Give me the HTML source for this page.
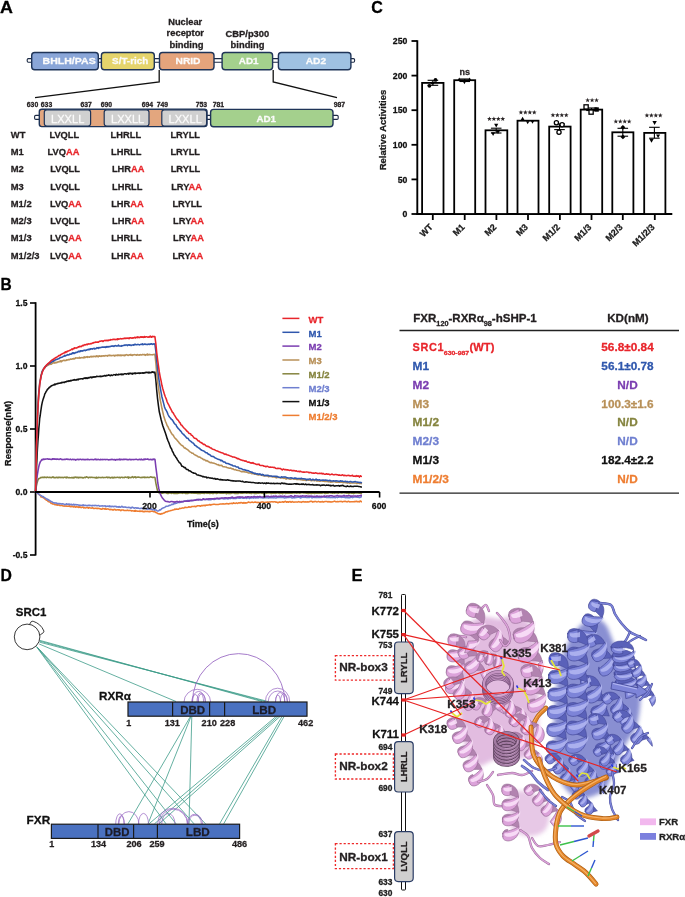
<!DOCTYPE html>
<html><head><meta charset="utf-8"><style>
html,body{margin:0;padding:0;background:#fff;width:685px;height:897px;overflow:hidden;}
svg{display:block;will-change:transform;}
text{font-family:"Liberation Sans",sans-serif;stroke-width:0.28px;stroke-linejoin:round;}
</style></head><body>
<svg width="685" height="897" viewBox="0 0 685 897">
<text x="0.10" y="12.80" font-size="16.2" font-weight="bold" fill="#000" stroke="#000" textLength="12.9" lengthAdjust="spacingAndGlyphs">A</text>
<rect x="27.2" y="58.6" width="327.4" height="3.6" rx="1.2" fill="#fff" stroke="#1d2b45" stroke-width="1.1"/>
<rect x="31.7" y="52.5" width="66.6" height="17.3" rx="3" fill="#8aa6d8" stroke="#1f3458" stroke-width="1.4"/>
<text x="42.60" y="64.30" font-size="9.2" font-weight="bold" fill="#fbfbfb" stroke="#fbfbfb" textLength="53.1" lengthAdjust="spacingAndGlyphs">BHLH/PAS</text>
<rect x="101.4" y="52.5" width="52.9" height="17.3" rx="3" fill="#e5d46c" stroke="#1f3458" stroke-width="1.4"/>
<text x="112.10" y="64.30" font-size="9.2" font-weight="bold" fill="#fbfbfb" stroke="#fbfbfb" textLength="36.1" lengthAdjust="spacingAndGlyphs">S/T-rich</text>
<rect x="159.5" y="52.5" width="54.5" height="17.3" rx="3" fill="#e5a47c" stroke="#1f3458" stroke-width="1.4"/>
<text x="175.50" y="64.30" font-size="9.2" font-weight="bold" fill="#fbfbfb" stroke="#fbfbfb" textLength="25.0" lengthAdjust="spacingAndGlyphs">NRID</text>
<rect x="222.1" y="52.5" width="50.5" height="17.3" rx="3" fill="#a4d08d" stroke="#1f3458" stroke-width="1.4"/>
<text x="238.80" y="64.30" font-size="9.2" font-weight="bold" fill="#fbfbfb" stroke="#fbfbfb" textLength="19.8" lengthAdjust="spacingAndGlyphs">AD1</text>
<rect x="278.4" y="52.5" width="72.5" height="17.3" rx="3" fill="#9fc1e2" stroke="#1f3458" stroke-width="1.4"/>
<text x="305.80" y="64.30" font-size="9.2" font-weight="bold" fill="#fbfbfb" stroke="#fbfbfb" textLength="20.3" lengthAdjust="spacingAndGlyphs">AD2</text>
<text x="168.20" y="25.20" font-size="8.4" font-weight="bold" fill="#231f20" stroke="#231f20" textLength="34.0" lengthAdjust="spacingAndGlyphs">Nuclear</text>
<text x="166.60" y="36.30" font-size="8.4" font-weight="bold" fill="#231f20" stroke="#231f20" textLength="37.4" lengthAdjust="spacingAndGlyphs">receptor</text>
<text x="169.40" y="47.50" font-size="8.4" font-weight="bold" fill="#231f20" stroke="#231f20" textLength="34.1" lengthAdjust="spacingAndGlyphs">binding</text>
<text x="225.60" y="36.70" font-size="8.4" font-weight="bold" fill="#231f20" stroke="#231f20" textLength="43.6" lengthAdjust="spacingAndGlyphs">CBP/p300</text>
<text x="230.60" y="47.60" font-size="8.4" font-weight="bold" fill="#231f20" stroke="#231f20" textLength="33.8" lengthAdjust="spacingAndGlyphs">binding</text>
<polyline points="159.2,70 159.2,82 35,97.6" fill="none" stroke="#111" stroke-width="1.3"/>
<polyline points="273.2,70 273.2,82 337,97.6" fill="none" stroke="#111" stroke-width="1.3"/>
<rect x="34.6" y="115.4" width="303.6" height="4" rx="1.2" fill="#fff" stroke="#1d2b45" stroke-width="1.1"/>
<rect x="39.3" y="109.2" width="167.7" height="17.4" rx="2.5" fill="#e3a67e" stroke="#1f3458" stroke-width="1.4"/>
<rect x="44.3" y="109.8" width="46.3" height="16.2" rx="2.5" fill="#d0d0d0" stroke="#1f3458" stroke-width="1.2"/>
<text x="51.10" y="122.60" font-size="11" fill="#fbfbfb" stroke="#fbfbfb" textLength="33.2" lengthAdjust="spacingAndGlyphs">LXXLL</text>
<rect x="104.2" y="109.8" width="44.8" height="16.2" rx="2.5" fill="#d0d0d0" stroke="#1f3458" stroke-width="1.2"/>
<text x="111.00" y="122.60" font-size="11" fill="#fbfbfb" stroke="#fbfbfb" textLength="33.2" lengthAdjust="spacingAndGlyphs">LXXLL</text>
<rect x="161.8" y="109.8" width="44.8" height="16.2" rx="2.5" fill="#d0d0d0" stroke="#1f3458" stroke-width="1.2"/>
<text x="168.60" y="122.60" font-size="11" fill="#fbfbfb" stroke="#fbfbfb" textLength="33.2" lengthAdjust="spacingAndGlyphs">LXXLL</text>
<rect x="210.6" y="109.4" width="122.4" height="17.4" rx="3" fill="#a4d08d" stroke="#1f3458" stroke-width="1.4"/>
<text x="256.40" y="122.20" font-size="9.3" font-weight="bold" fill="#fbfbfb" stroke="#fbfbfb" textLength="19.6" lengthAdjust="spacingAndGlyphs">AD1</text>
<text x="26.80" y="106.80" font-size="6.6" font-weight="bold" fill="#231f20" stroke="#231f20" textLength="11.4" lengthAdjust="spacingAndGlyphs">630</text>
<text x="40.80" y="106.80" font-size="6.6" font-weight="bold" fill="#231f20" stroke="#231f20" textLength="11.4" lengthAdjust="spacingAndGlyphs">633</text>
<text x="80.50" y="106.80" font-size="6.6" font-weight="bold" fill="#231f20" stroke="#231f20" textLength="11.4" lengthAdjust="spacingAndGlyphs">637</text>
<text x="100.70" y="106.80" font-size="6.6" font-weight="bold" fill="#231f20" stroke="#231f20" textLength="11.4" lengthAdjust="spacingAndGlyphs">690</text>
<text x="141.70" y="106.80" font-size="6.6" font-weight="bold" fill="#231f20" stroke="#231f20" textLength="11.4" lengthAdjust="spacingAndGlyphs">694</text>
<text x="156.70" y="106.80" font-size="6.6" font-weight="bold" fill="#231f20" stroke="#231f20" textLength="11.4" lengthAdjust="spacingAndGlyphs">749</text>
<text x="195.70" y="106.80" font-size="6.6" font-weight="bold" fill="#231f20" stroke="#231f20" textLength="11.4" lengthAdjust="spacingAndGlyphs">753</text>
<text x="212.70" y="106.80" font-size="6.6" font-weight="bold" fill="#231f20" stroke="#231f20" textLength="11.4" lengthAdjust="spacingAndGlyphs">781</text>
<text x="333.70" y="106.80" font-size="6.6" font-weight="bold" fill="#231f20" stroke="#231f20" textLength="11.4" lengthAdjust="spacingAndGlyphs">987</text>
<text x="10.80" y="137.90" font-size="9.4" font-weight="bold" fill="#231f20" stroke="#231f20">WT</text>
<text x="49.40" y="137.90" font-size="9.3" font-weight="bold" fill="#231f20" stroke="#231f20">LVQLL</text>
<text x="110.60" y="137.90" font-size="9.3" font-weight="bold" fill="#231f20" stroke="#231f20">LHRLL</text>
<text x="170.40" y="137.90" font-size="9.3" font-weight="bold" fill="#231f20" stroke="#231f20">LRYLL</text>
<text x="10.80" y="155.15" font-size="9.4" font-weight="bold" fill="#231f20" stroke="#231f20">M1</text>
<text x="47.6" y="155.2" font-size="9.3" font-weight="bold" fill="#231f20" stroke="#231f20">LVQ<tspan fill="#e8262b" stroke="#e8262b">AA</tspan></text>
<text x="111.00" y="155.15" font-size="9.3" font-weight="bold" fill="#231f20" stroke="#231f20">LHRLL</text>
<text x="170.40" y="155.15" font-size="9.3" font-weight="bold" fill="#231f20" stroke="#231f20">LRYLL</text>
<text x="10.80" y="172.40" font-size="9.4" font-weight="bold" fill="#231f20" stroke="#231f20">M2</text>
<text x="50.20" y="172.40" font-size="9.3" font-weight="bold" fill="#231f20" stroke="#231f20">LVQLL</text>
<text x="111.9" y="172.4" font-size="9.3" font-weight="bold" fill="#231f20" stroke="#231f20">LHR<tspan fill="#e8262b" stroke="#e8262b">AA</tspan></text>
<text x="170.70" y="172.40" font-size="9.3" font-weight="bold" fill="#231f20" stroke="#231f20">LRYLL</text>
<text x="10.80" y="189.65" font-size="9.4" font-weight="bold" fill="#231f20" stroke="#231f20">M3</text>
<text x="50.20" y="189.65" font-size="9.3" font-weight="bold" fill="#231f20" stroke="#231f20">LVQLL</text>
<text x="112.00" y="189.65" font-size="9.3" font-weight="bold" fill="#231f20" stroke="#231f20">LHRLL</text>
<text x="171.2" y="189.7" font-size="9.3" font-weight="bold" fill="#231f20" stroke="#231f20">LRY<tspan fill="#e8262b" stroke="#e8262b">AA</tspan></text>
<text x="10.80" y="206.90" font-size="9.4" font-weight="bold" fill="#231f20" stroke="#231f20">M1/2</text>
<text x="49.9" y="206.9" font-size="9.3" font-weight="bold" fill="#231f20" stroke="#231f20">LVQ<tspan fill="#e8262b" stroke="#e8262b">AA</tspan></text>
<text x="111.2" y="206.9" font-size="9.3" font-weight="bold" fill="#231f20" stroke="#231f20">LHR<tspan fill="#e8262b" stroke="#e8262b">AA</tspan></text>
<text x="172.40" y="206.90" font-size="9.3" font-weight="bold" fill="#231f20" stroke="#231f20">LRYLL</text>
<text x="10.80" y="224.15" font-size="9.4" font-weight="bold" fill="#231f20" stroke="#231f20">M2/3</text>
<text x="50.20" y="224.15" font-size="9.3" font-weight="bold" fill="#231f20" stroke="#231f20">LVQLL</text>
<text x="112.0" y="224.2" font-size="9.3" font-weight="bold" fill="#231f20" stroke="#231f20">LHR<tspan fill="#e8262b" stroke="#e8262b">AA</tspan></text>
<text x="173.1" y="224.2" font-size="9.3" font-weight="bold" fill="#231f20" stroke="#231f20">LRY<tspan fill="#e8262b" stroke="#e8262b">AA</tspan></text>
<text x="10.80" y="241.40" font-size="9.4" font-weight="bold" fill="#231f20" stroke="#231f20">M1/3</text>
<text x="49.9" y="241.4" font-size="9.3" font-weight="bold" fill="#231f20" stroke="#231f20">LVQ<tspan fill="#e8262b" stroke="#e8262b">AA</tspan></text>
<text x="111.20" y="241.40" font-size="9.3" font-weight="bold" fill="#231f20" stroke="#231f20">LHRLL</text>
<text x="173.1" y="241.4" font-size="9.3" font-weight="bold" fill="#231f20" stroke="#231f20">LRY<tspan fill="#e8262b" stroke="#e8262b">AA</tspan></text>
<text x="10.80" y="258.65" font-size="9.4" font-weight="bold" fill="#231f20" stroke="#231f20">M1/2/3</text>
<text x="49.9" y="258.6" font-size="9.3" font-weight="bold" fill="#231f20" stroke="#231f20">LVQ<tspan fill="#e8262b" stroke="#e8262b">AA</tspan></text>
<text x="111.2" y="258.6" font-size="9.3" font-weight="bold" fill="#231f20" stroke="#231f20">LHR<tspan fill="#e8262b" stroke="#e8262b">AA</tspan></text>
<text x="172.4" y="258.6" font-size="9.3" font-weight="bold" fill="#231f20" stroke="#231f20">LRY<tspan fill="#e8262b" stroke="#e8262b">AA</tspan></text>
<text x="371.30" y="12.90" font-size="16.2" font-weight="bold" fill="#000" stroke="#000" textLength="11.6" lengthAdjust="spacingAndGlyphs">C</text>
<line x1="417.3" y1="40.2" x2="417.3" y2="215" stroke="#000" stroke-width="1.9"/>
<line x1="411.5" y1="214.0" x2="417" y2="214.0" stroke="#000" stroke-width="1.8"/>
<text x="407.30" y="217.20" font-size="8.7" font-weight="bold" fill="#111" stroke="#111" text-anchor="end">0</text>
<line x1="411.5" y1="179.4" x2="417" y2="179.4" stroke="#000" stroke-width="1.8"/>
<text x="407.30" y="182.60" font-size="8.7" font-weight="bold" fill="#111" stroke="#111" text-anchor="end">50</text>
<line x1="411.5" y1="144.8" x2="417" y2="144.8" stroke="#000" stroke-width="1.8"/>
<text x="407.30" y="148.00" font-size="8.7" font-weight="bold" fill="#111" stroke="#111" text-anchor="end">100</text>
<line x1="411.5" y1="110.2" x2="417" y2="110.2" stroke="#000" stroke-width="1.8"/>
<text x="407.30" y="113.40" font-size="8.7" font-weight="bold" fill="#111" stroke="#111" text-anchor="end">150</text>
<line x1="411.5" y1="75.6" x2="417" y2="75.6" stroke="#000" stroke-width="1.8"/>
<text x="407.30" y="78.80" font-size="8.7" font-weight="bold" fill="#111" stroke="#111" text-anchor="end">200</text>
<line x1="411.5" y1="41.0" x2="417" y2="41.0" stroke="#000" stroke-width="1.8"/>
<text x="407.30" y="44.20" font-size="8.7" font-weight="bold" fill="#111" stroke="#111" text-anchor="end">250</text>
<text transform="translate(385.9,130) rotate(-90)" font-size="8.6" font-weight="bold" fill="#1a1a1a" stroke="#1a1a1a" text-anchor="middle" textLength="80.5" lengthAdjust="spacingAndGlyphs">Relative Activities</text>
<line x1="416.3" y1="214" x2="672.3" y2="214" stroke="#000" stroke-width="1.9"/>
<rect x="422.1" y="82.9" width="21.4" height="131.1" fill="#fff" stroke="#000" stroke-width="1.8"/>
<line x1="432.8" y1="214" x2="432.8" y2="220" stroke="#000" stroke-width="1.8"/>
<text transform="translate(433.4,227.6) rotate(-45)" font-size="9" font-weight="bold" fill="#1a1a1a" stroke="#1a1a1a" text-anchor="end">WT</text>
<rect x="454.2" y="80.2" width="21.0" height="133.8" fill="#fff" stroke="#000" stroke-width="1.8"/>
<line x1="464.7" y1="214" x2="464.7" y2="220" stroke="#000" stroke-width="1.8"/>
<text transform="translate(465.3,227.6) rotate(-45)" font-size="9" font-weight="bold" fill="#1a1a1a" stroke="#1a1a1a" text-anchor="end">M1</text>
<rect x="485.5" y="130.3" width="21.8" height="83.7" fill="#fff" stroke="#000" stroke-width="1.8"/>
<line x1="496.4" y1="214" x2="496.4" y2="220" stroke="#000" stroke-width="1.8"/>
<text transform="translate(497.0,227.6) rotate(-45)" font-size="9" font-weight="bold" fill="#1a1a1a" stroke="#1a1a1a" text-anchor="end">M2</text>
<rect x="517.5" y="120.7" width="21.0" height="93.3" fill="#fff" stroke="#000" stroke-width="1.8"/>
<line x1="528.0" y1="214" x2="528.0" y2="220" stroke="#000" stroke-width="1.8"/>
<text transform="translate(528.6,227.6) rotate(-45)" font-size="9" font-weight="bold" fill="#1a1a1a" stroke="#1a1a1a" text-anchor="end">M3</text>
<rect x="549.2" y="126.6" width="21.4" height="87.4" fill="#fff" stroke="#000" stroke-width="1.8"/>
<line x1="559.9" y1="214" x2="559.9" y2="220" stroke="#000" stroke-width="1.8"/>
<text transform="translate(560.5,227.6) rotate(-45)" font-size="9" font-weight="bold" fill="#1a1a1a" stroke="#1a1a1a" text-anchor="end">M1/2</text>
<rect x="580.7" y="109.6" width="21.5" height="104.4" fill="#fff" stroke="#000" stroke-width="1.8"/>
<line x1="591.5" y1="214" x2="591.5" y2="220" stroke="#000" stroke-width="1.8"/>
<text transform="translate(592.1,227.6) rotate(-45)" font-size="9" font-weight="bold" fill="#1a1a1a" stroke="#1a1a1a" text-anchor="end">M1/3</text>
<rect x="612.3" y="132.3" width="21.1" height="81.7" fill="#fff" stroke="#000" stroke-width="1.8"/>
<line x1="622.8" y1="214" x2="622.8" y2="220" stroke="#000" stroke-width="1.8"/>
<text transform="translate(623.4,227.6) rotate(-45)" font-size="9" font-weight="bold" fill="#1a1a1a" stroke="#1a1a1a" text-anchor="end">M2/3</text>
<rect x="644.2" y="132.9" width="21.2" height="81.1" fill="#fff" stroke="#000" stroke-width="1.8"/>
<line x1="654.8" y1="214" x2="654.8" y2="220" stroke="#000" stroke-width="1.8"/>
<text transform="translate(655.4,227.6) rotate(-45)" font-size="9" font-weight="bold" fill="#1a1a1a" stroke="#1a1a1a" text-anchor="end">M1/2/3</text>
<text x="459.40" y="74.60" font-size="9" font-weight="bold" fill="#2a2526" stroke="#2a2526">ns</text>
<polygon points="489.43,116.40 490.04,118.05 491.80,118.13 490.42,119.22 490.89,120.92 489.43,119.95 487.96,120.92 488.43,119.22 487.05,118.13 488.81,118.05" fill="#2a2526"/>
<polygon points="493.88,116.40 494.49,118.05 496.25,118.13 494.87,119.22 495.34,120.92 493.88,119.95 492.41,120.92 492.88,119.22 491.50,118.13 493.26,118.05" fill="#2a2526"/>
<polygon points="498.33,116.40 498.94,118.05 500.70,118.13 499.32,119.22 499.79,120.92 498.33,119.95 496.86,120.92 497.33,119.22 495.95,118.13 497.71,118.05" fill="#2a2526"/>
<polygon points="502.78,116.40 503.39,118.05 505.15,118.13 503.77,119.22 504.24,120.92 502.78,119.95 501.31,120.92 501.78,119.22 500.40,118.13 502.16,118.05" fill="#2a2526"/>
<polygon points="520.93,109.90 521.54,111.55 523.30,111.63 521.92,112.72 522.39,114.42 520.93,113.45 519.46,114.42 519.93,112.72 518.55,111.63 520.31,111.55" fill="#2a2526"/>
<polygon points="525.38,109.90 525.99,111.55 527.75,111.63 526.37,112.72 526.84,114.42 525.38,113.45 523.91,114.42 524.38,112.72 523.00,111.63 524.76,111.55" fill="#2a2526"/>
<polygon points="529.83,109.90 530.44,111.55 532.20,111.63 530.82,112.72 531.29,114.42 529.83,113.45 528.36,114.42 528.83,112.72 527.45,111.63 529.21,111.55" fill="#2a2526"/>
<polygon points="534.27,109.90 534.89,111.55 536.65,111.63 535.27,112.72 535.74,114.42 534.27,113.45 532.81,114.42 533.28,112.72 531.90,111.63 533.66,111.55" fill="#2a2526"/>
<polygon points="552.93,112.70 553.54,114.35 555.30,114.43 553.92,115.52 554.39,117.22 552.93,116.25 551.46,117.22 551.93,115.52 550.55,114.43 552.31,114.35" fill="#2a2526"/>
<polygon points="557.38,112.70 557.99,114.35 559.75,114.43 558.37,115.52 558.84,117.22 557.38,116.25 555.91,117.22 556.38,115.52 555.00,114.43 556.76,114.35" fill="#2a2526"/>
<polygon points="561.83,112.70 562.44,114.35 564.20,114.43 562.82,115.52 563.29,117.22 561.83,116.25 560.36,117.22 560.83,115.52 559.45,114.43 561.21,114.35" fill="#2a2526"/>
<polygon points="566.27,112.70 566.89,114.35 568.65,114.43 567.27,115.52 567.74,117.22 566.27,116.25 564.81,117.22 565.28,115.52 563.90,114.43 565.66,114.35" fill="#2a2526"/>
<polygon points="587.65,97.80 588.27,99.45 590.03,99.53 588.65,100.62 589.12,102.32 587.65,101.35 586.18,102.32 586.65,100.62 585.27,99.53 587.03,99.45" fill="#2a2526"/>
<polygon points="592.10,97.80 592.72,99.45 594.48,99.53 593.10,100.62 593.57,102.32 592.10,101.35 590.63,102.32 591.10,100.62 589.72,99.53 591.48,99.45" fill="#2a2526"/>
<polygon points="596.55,97.80 597.17,99.45 598.93,99.53 597.55,100.62 598.02,102.32 596.55,101.35 595.08,102.32 595.55,100.62 594.17,99.53 595.93,99.45" fill="#2a2526"/>
<polygon points="615.83,119.00 616.44,120.65 618.20,120.73 616.82,121.82 617.29,123.52 615.83,122.55 614.36,123.52 614.83,121.82 613.45,120.73 615.21,120.65" fill="#2a2526"/>
<polygon points="620.27,119.00 620.89,120.65 622.65,120.73 621.27,121.82 621.74,123.52 620.27,122.55 618.81,123.52 619.28,121.82 617.90,120.73 619.66,120.65" fill="#2a2526"/>
<polygon points="624.73,119.00 625.34,120.65 627.10,120.73 625.72,121.82 626.19,123.52 624.73,122.55 623.26,123.52 623.73,121.82 622.35,120.73 624.11,120.65" fill="#2a2526"/>
<polygon points="629.17,119.00 629.79,120.65 631.55,120.73 630.17,121.82 630.64,123.52 629.17,122.55 627.71,123.52 628.18,121.82 626.80,120.73 628.56,120.65" fill="#2a2526"/>
<polygon points="646.93,112.90 647.54,114.55 649.30,114.63 647.92,115.72 648.39,117.42 646.93,116.45 645.46,117.42 645.93,115.72 644.55,114.63 646.31,114.55" fill="#2a2526"/>
<polygon points="651.38,112.90 651.99,114.55 653.75,114.63 652.37,115.72 652.84,117.42 651.38,116.45 649.91,117.42 650.38,115.72 649.00,114.63 650.76,114.55" fill="#2a2526"/>
<polygon points="655.83,112.90 656.44,114.55 658.20,114.63 656.82,115.72 657.29,117.42 655.83,116.45 654.36,117.42 654.83,115.72 653.45,114.63 655.21,114.55" fill="#2a2526"/>
<polygon points="660.27,112.90 660.89,114.55 662.65,114.63 661.27,115.72 661.74,117.42 660.27,116.45 658.81,117.42 659.28,115.72 657.90,114.63 659.66,114.55" fill="#2a2526"/>
<line x1="432.9" y1="80.3" x2="432.9" y2="85.3" stroke="#000" stroke-width="1.1"/><line x1="427.59999999999997" y1="80.3" x2="438.2" y2="80.3" stroke="#000" stroke-width="1.1"/><line x1="427.59999999999997" y1="85.3" x2="438.2" y2="85.3" stroke="#000" stroke-width="1.1"/>
<circle cx="435.5" cy="79.9" r="1.9" fill="#000"/><circle cx="429.4" cy="85.8" r="1.9" fill="#000"/><circle cx="432.5" cy="83" r="1.6" fill="#000"/>
<line x1="464.7" y1="79" x2="464.7" y2="81.5" stroke="#000" stroke-width="1.1"/><line x1="459.4" y1="79" x2="470.0" y2="79" stroke="#000" stroke-width="1.1"/><line x1="459.4" y1="81.5" x2="470.0" y2="81.5" stroke="#000" stroke-width="1.1"/>
<polygon points="459.2,77.39999999999999 457.395,80.63 461.005,80.63" fill="#000"/><polygon points="469.7,77.39999999999999 467.895,80.63 471.505,80.63" fill="#000"/><polygon points="464.4,84.2 462.78499999999997,81.31 466.015,81.31" fill="#000"/>
<line x1="496.2" y1="128.2" x2="496.2" y2="133" stroke="#000" stroke-width="1.1"/><line x1="490.9" y1="128.2" x2="501.5" y2="128.2" stroke="#000" stroke-width="1.1"/><line x1="490.9" y1="133" x2="501.5" y2="133" stroke="#000" stroke-width="1.1"/>
<polygon points="496.2,127.5 494.11,123.75999999999999 498.28999999999996,123.75999999999999" fill="#000"/><polygon points="493.1,136.1 491.01000000000005,132.36 495.19,132.36" fill="#000"/><polygon points="498,134.1 496.1,130.7 499.9,130.7" fill="#000"/>
<polygon points="522.6,116.80000000000001 520.605,120.37 524.595,120.37" fill="#000"/><polygon points="527.7,124.2 525.99,121.14 529.4100000000001,121.14" fill="#000"/><polygon points="532.5,123.8 530.79,120.74 534.21,120.74" fill="#000"/>
<line x1="559.5" y1="124" x2="559.5" y2="129.6" stroke="#000" stroke-width="1.1"/><line x1="554.2" y1="124" x2="564.8" y2="124" stroke="#000" stroke-width="1.1"/><line x1="554.2" y1="129.6" x2="564.8" y2="129.6" stroke="#000" stroke-width="1.1"/>
<circle cx="556.4" cy="122.8" r="2.1" fill="#fff" stroke="#000" stroke-width="1.3"/>
<circle cx="562.1" cy="124.8" r="2.1" fill="#fff" stroke="#000" stroke-width="1.3"/>
<circle cx="559" cy="132.2" r="2.1" fill="#fff" stroke="#000" stroke-width="1.3"/>
<line x1="591.5" y1="108" x2="591.5" y2="110.5" stroke="#000" stroke-width="1.1"/><line x1="586.2" y1="108" x2="596.8" y2="108" stroke="#000" stroke-width="1.1"/><line x1="586.2" y1="110.5" x2="596.8" y2="110.5" stroke="#000" stroke-width="1.1"/>
<rect x="584" y="104.8" width="4.2" height="4.2" fill="#fff" stroke="#000" stroke-width="1.3"/>
<rect x="589" y="110" width="4.2" height="4.2" fill="#fff" stroke="#000" stroke-width="1.3"/>
<rect x="594.4" y="107.3" width="4.4" height="4.4" fill="#000"/>
<line x1="622.8" y1="128.3" x2="622.8" y2="136.2" stroke="#000" stroke-width="1.1"/><line x1="617.5" y1="128.3" x2="628.0999999999999" y2="128.3" stroke="#000" stroke-width="1.1"/><line x1="617.5" y1="136.2" x2="628.0999999999999" y2="136.2" stroke="#000" stroke-width="1.1"/>
<polygon points="622.9,124.89999999999999 625.3,127.3 622.9,129.7 620.5,127.3" fill="#000"/>
<polygon points="622.9,134.5 625.3,136.9 622.9,139.3 620.5,136.9" fill="#000"/>
<line x1="654.4" y1="127.3" x2="654.4" y2="138.2" stroke="#000" stroke-width="1.1"/><line x1="649.1" y1="127.3" x2="659.6999999999999" y2="127.3" stroke="#000" stroke-width="1.1"/><line x1="649.1" y1="138.2" x2="659.6999999999999" y2="138.2" stroke="#000" stroke-width="1.1"/>
<polygon points="654.6,124.89999999999999 652.4150000000001,120.99 656.785,120.99" fill="#000"/><polygon points="651.5,142.8 649.22,138.72 653.78,138.72" fill="#000"/><polygon points="658.1,138.0 656.105,134.43 660.095,134.43" fill="#000"/>
<text x="0.6" y="289.6" font-size="16.8" font-weight="bold" fill="#000" stroke="#000" textLength="11.2" lengthAdjust="spacingAndGlyphs">B</text>
<line x1="35.6" y1="302.2" x2="35.6" y2="555.5" stroke="#000" stroke-width="1.8"/>
<line x1="30" y1="303.0" x2="35.6" y2="303.0" stroke="#000" stroke-width="1.6"/>
<text x="27.5" y="306.1" font-size="8.6" font-weight="bold" fill="#111" stroke="#111" text-anchor="end">1.5</text>
<line x1="30" y1="366.0" x2="35.6" y2="366.0" stroke="#000" stroke-width="1.6"/>
<text x="27.5" y="369.1" font-size="8.6" font-weight="bold" fill="#111" stroke="#111" text-anchor="end">1.0</text>
<line x1="30" y1="429.0" x2="35.6" y2="429.0" stroke="#000" stroke-width="1.6"/>
<text x="27.5" y="432.1" font-size="8.6" font-weight="bold" fill="#111" stroke="#111" text-anchor="end">0.5</text>
<line x1="30" y1="492.0" x2="35.6" y2="492.0" stroke="#000" stroke-width="1.6"/>
<text x="27.5" y="495.1" font-size="8.6" font-weight="bold" fill="#111" stroke="#111" text-anchor="end">0.0</text>
<line x1="30" y1="555.0" x2="35.6" y2="555.0" stroke="#000" stroke-width="1.6"/>
<text x="27.5" y="558.1" font-size="8.6" font-weight="bold" fill="#111" stroke="#111" text-anchor="end">-0.5</text>
<text transform="translate(10.7,433.5) rotate(-90)" font-size="9.4" font-weight="bold" fill="#111" stroke="#111" text-anchor="middle" textLength="65.4" lengthAdjust="spacingAndGlyphs">Response(nM)</text>
<polyline points="35.6,492.5 36.2,491.8 36.8,493.0 37.4,493.2 38.0,493.7 38.6,494.3 39.2,494.3 39.8,495.2 40.4,495.5 41.0,497.0 41.6,496.7 42.2,497.0 42.8,497.4 43.4,497.8 44.0,498.1 44.6,498.6 45.2,499.2 45.8,499.5 46.4,500.2 47.0,500.3 47.6,500.7 48.2,501.5 48.8,501.7 49.4,501.8 50.0,502.2 50.6,502.8 51.2,503.5 51.8,503.2 52.4,503.5 53.0,504.1 53.6,503.9 54.2,504.2 54.8,504.7 55.4,504.7 56.0,504.7 56.6,505.0 57.2,504.2 57.8,505.3 58.4,504.9 59.0,504.8 59.6,505.4 60.2,505.6 60.8,505.4 61.4,505.3 62.0,505.6 62.6,505.7 63.2,506.1 63.8,506.0 64.4,506.0 65.0,506.2 65.6,506.0 66.2,505.9 66.8,506.3 67.4,506.3 68.0,506.2 68.6,506.1 69.2,506.4 69.8,505.8 70.4,506.6 71.0,506.6 71.6,506.1 72.2,506.6 72.8,506.4 73.4,506.9 74.0,506.2 74.6,506.6 75.2,507.0 75.8,507.2 76.4,506.4 77.0,506.8 77.6,507.1 78.2,506.9 78.8,507.5 79.4,506.9 80.0,507.3 80.6,507.0 81.2,507.7 81.8,507.3 82.4,507.3 83.0,507.0 83.6,507.9 84.2,507.7 84.8,507.8 85.4,507.9 86.0,507.8 86.6,507.5 87.2,507.6 87.8,507.6 88.4,508.2 89.0,507.5 89.6,507.8 90.2,507.9 90.8,508.1 91.4,508.2 92.0,507.8 92.6,507.7 93.2,508.2 93.8,508.5 94.4,508.4 95.0,508.3 95.6,508.2 96.2,508.4 96.8,508.3 97.4,508.6 98.0,508.3 98.6,508.5 99.2,508.5 99.8,508.7 100.4,508.7 101.0,509.3 101.6,509.1 102.2,509.1 102.8,508.3 103.4,508.7 104.0,508.7 104.6,509.1 105.2,508.4 105.8,509.3 106.4,509.3 107.0,508.8 107.6,508.9 108.2,509.0 108.8,509.2 109.4,509.4 110.0,509.8 110.6,509.3 111.2,509.6 111.8,509.5 112.4,509.9 113.0,509.7 113.6,509.9 114.2,509.3 114.8,509.6 115.4,509.5 116.0,510.1 116.6,509.9 117.2,509.7 117.8,509.8 118.4,510.0 119.0,509.8 119.6,509.8 120.2,510.2 120.8,510.7 121.4,510.1 122.0,510.0 122.6,509.9 123.2,509.9 123.8,510.4 124.4,510.5 125.0,510.4 125.6,510.5 126.2,510.5 126.8,510.5 127.4,510.1 128.0,510.4 128.6,510.6 129.2,510.4 129.8,510.5 130.4,510.5 131.0,510.6 131.6,511.0 132.2,510.7 132.8,510.8 133.4,511.0 134.0,511.0 134.6,511.3 135.2,510.4 135.8,511.2 136.4,510.9 137.0,511.0 137.6,511.2 138.2,511.3 138.8,511.3 139.4,511.1 140.0,511.5 140.6,511.1 141.2,511.1 141.8,511.4 142.4,511.1 143.0,511.8 143.6,511.5 144.2,511.8 144.8,511.3 145.4,511.2 146.0,511.4 146.6,511.5 147.2,511.2 147.8,511.5 148.4,511.4 149.0,511.8 149.6,511.3 150.2,511.7 150.8,511.3 151.4,511.2 152.0,511.3 152.6,511.2 153.2,511.6 153.8,511.8 154.4,511.6 155.0,511.8 155.9,512.6 156.9,512.9 157.8,513.5 158.8,513.9 159.7,513.8 160.7,514.3 161.6,513.5 162.6,513.7 163.5,513.1 164.5,512.9 165.4,512.2 166.3,511.7 167.3,511.7 168.2,511.2 169.2,511.0 170.1,510.8 171.1,510.5 172.0,510.3 173.0,509.9 173.9,509.8 174.8,509.1 175.8,509.4 176.7,509.0 177.7,509.3 178.6,509.2 179.6,508.2 180.5,508.5 181.5,508.3 182.4,507.9 183.4,508.1 184.3,507.7 185.2,507.2 186.2,507.5 187.1,507.4 188.1,507.3 189.0,506.8 190.0,507.2 190.9,507.1 191.9,506.5 192.8,506.5 193.8,506.5 194.7,506.3 195.6,506.7 196.6,506.2 197.5,505.8 198.5,505.8 199.4,505.8 200.4,506.3 201.3,505.6 202.3,505.6 203.2,505.6 204.2,505.3 205.1,505.8 206.0,505.0 207.0,505.2 207.9,505.0 208.9,505.0 209.8,504.5 210.8,505.1 211.7,504.6 212.7,504.5 213.6,504.2 214.5,504.2 215.5,504.4 216.4,504.5 217.4,504.4 218.3,504.4 219.3,504.2 220.2,504.0 221.2,504.1 222.1,504.0 223.1,503.8 224.0,503.9 224.9,504.0 225.9,503.7 226.8,503.5 227.8,503.7 228.7,504.0 229.7,503.4 230.6,503.4 231.6,503.3 232.5,503.6 233.5,502.8 234.4,503.3 235.3,503.4 236.3,502.9 237.2,503.4 238.2,503.1 239.1,502.8 240.1,503.0 241.0,502.5 242.0,502.7 242.9,503.3 243.8,502.5 244.8,503.2 245.7,502.7 246.7,502.9 247.6,502.6 248.6,502.0 249.5,502.4 250.5,502.6 251.4,502.2 252.4,502.1 253.3,502.5 254.2,502.3 255.2,502.0 256.1,502.2 257.1,502.6 258.0,502.2 259.0,502.6 259.9,502.7 260.9,502.3 261.8,502.0 262.8,501.9 263.7,502.2 264.6,502.4 265.6,502.3 266.5,502.3 267.5,502.1 268.4,502.2 269.4,502.0 270.3,502.1 271.3,501.8 272.2,501.7 273.2,502.0 274.1,501.8 275.0,501.8 276.0,502.2 276.9,502.0 277.9,502.8 278.8,502.3 279.8,501.9 280.7,502.2 281.7,502.1 282.6,501.8 283.5,502.3 284.5,501.8 285.4,501.2 286.4,502.2 287.3,501.8 288.3,502.3 289.2,501.8 290.2,501.6 291.1,502.3 292.1,501.6 293.0,501.9 293.9,502.3 294.9,501.9 295.8,501.9 296.8,501.9 297.7,502.1 298.7,501.6 299.6,502.0 300.6,502.0 301.5,502.4 302.5,501.7 303.4,501.6 304.3,502.0 305.3,501.7 306.2,501.9 307.2,501.8 308.1,502.1 309.1,501.6 310.0,501.7 311.0,501.1 311.9,501.5 312.8,502.1 313.8,501.6 314.7,501.6 315.7,501.4 316.6,501.9 317.6,501.8 318.5,501.4 319.5,501.9 320.4,501.8 321.4,501.9 322.3,501.5 323.2,502.1 324.2,501.8 325.1,501.6 326.1,501.5 327.0,501.6 328.0,501.9 328.9,501.6 329.9,501.9 330.8,501.8 331.8,502.0 332.7,501.8 333.6,501.6 334.6,501.1 335.5,501.7 336.5,501.8 337.4,501.6 338.4,501.7 339.3,501.5 340.3,501.5 341.2,501.3 342.2,501.9 343.1,501.6 344.0,501.4 345.0,501.2 345.9,501.5 346.9,501.9 347.8,501.6 348.8,501.3 349.7,501.9 350.7,501.8 351.6,501.7 352.5,501.7 353.5,501.8 354.4,501.6 355.4,501.6 356.3,501.3 357.3,501.8 358.2,501.5 359.2,501.9 360.1,500.9 361.1,501.6 362.0,501.6" fill="none" stroke="#ee7d31" stroke-width="1.55" stroke-linejoin="round"/>
<polyline points="35.6,491.9 36.2,492.5 36.8,493.0 37.4,493.3 38.0,493.4 38.6,493.9 39.2,494.6 39.8,495.1 40.4,495.2 41.0,495.6 41.6,496.0 42.2,496.6 42.8,496.4 43.4,496.7 44.0,497.5 44.6,497.5 45.2,498.0 45.8,498.5 46.4,498.9 47.0,498.9 47.6,499.8 48.2,499.5 48.8,500.4 49.4,500.3 50.0,500.7 50.6,501.5 51.2,501.6 51.8,501.8 52.4,502.1 53.0,502.6 53.6,502.7 54.2,502.8 54.8,503.2 55.4,502.9 56.0,503.0 56.6,503.1 57.2,503.6 57.8,503.6 58.4,503.8 59.0,503.5 59.6,503.6 60.2,503.9 60.8,503.6 61.4,504.0 62.0,504.0 62.6,503.7 63.2,504.0 63.8,504.0 64.4,504.5 65.0,504.8 65.6,504.2 66.2,504.2 66.8,503.7 67.4,504.4 68.0,504.3 68.6,504.1 69.2,504.6 69.8,504.1 70.4,504.4 71.0,504.6 71.6,504.3 72.2,504.8 72.8,504.9 73.4,504.3 74.0,504.3 74.6,504.9 75.2,504.7 75.8,504.5 76.4,504.7 77.0,504.8 77.6,504.8 78.2,505.1 78.8,505.0 79.4,505.4 80.0,505.3 80.6,505.2 81.2,505.3 81.8,505.4 82.4,505.3 83.0,504.8 83.6,505.4 84.2,505.2 84.8,505.6 85.4,505.3 86.0,505.4 86.6,505.4 87.2,505.7 87.8,505.4 88.4,505.3 89.0,505.5 89.6,505.3 90.2,505.5 90.8,505.4 91.4,505.5 92.0,506.0 92.6,505.4 93.2,505.5 93.8,505.5 94.4,505.7 95.0,505.3 95.6,505.4 96.2,505.6 96.8,505.8 97.4,505.7 98.0,505.6 98.6,505.5 99.2,505.9 99.8,506.2 100.4,505.9 101.0,505.9 101.6,506.0 102.2,505.7 102.8,505.9 103.4,505.9 104.0,506.1 104.6,506.0 105.2,505.7 105.8,506.4 106.4,506.5 107.0,506.1 107.6,506.3 108.2,506.3 108.8,506.4 109.4,505.9 110.0,506.7 110.6,506.2 111.2,506.7 111.8,506.4 112.4,506.3 113.0,506.4 113.6,506.7 114.2,506.3 114.8,506.5 115.4,506.5 116.0,506.2 116.6,507.0 117.2,506.9 117.8,506.7 118.4,507.1 119.0,506.6 119.6,506.8 120.2,507.3 120.8,507.2 121.4,506.4 122.0,506.2 122.6,506.8 123.2,507.3 123.8,507.0 124.4,507.1 125.0,507.3 125.6,507.0 126.2,507.3 126.8,507.5 127.4,507.5 128.0,507.5 128.6,507.3 129.2,507.6 129.8,507.4 130.4,507.9 131.0,508.2 131.6,507.4 132.2,507.1 132.8,507.6 133.4,507.8 134.0,508.1 134.6,508.1 135.2,507.7 135.8,507.7 136.4,508.3 137.0,507.7 137.6,508.3 138.2,508.0 138.8,508.3 139.4,508.4 140.0,508.4 140.6,508.5 141.2,508.1 141.8,508.4 142.4,508.4 143.0,508.5 143.6,508.8 144.2,508.5 144.8,508.4 145.4,508.5 146.0,508.6 146.6,509.0 147.2,508.6 147.8,509.2 148.4,509.0 149.0,508.9 149.6,508.7 150.2,509.1 150.8,509.3 151.4,508.8 152.0,509.5 152.6,509.7 153.2,509.4 153.8,509.5 154.4,510.1 155.0,509.8 155.9,509.9 156.9,510.7 157.8,511.0 158.8,510.8 159.7,509.8 160.7,509.9 161.6,508.7 162.6,508.3 163.5,507.7 164.5,507.5 165.4,506.8 166.3,506.3 167.3,506.2 168.2,506.1 169.2,505.3 170.1,505.4 171.1,504.8 172.0,504.2 173.0,504.5 173.9,503.6 174.8,503.8 175.8,503.2 176.7,503.2 177.7,502.5 178.6,502.4 179.6,502.6 180.5,502.2 181.5,501.9 182.4,501.6 183.4,501.6 184.3,501.0 185.2,500.9 186.2,501.0 187.1,500.6 188.1,500.5 189.0,500.6 190.0,500.5 190.9,500.4 191.9,500.7 192.8,500.5 193.8,500.5 194.7,500.1 195.6,499.9 196.6,499.6 197.5,499.8 198.5,499.3 199.4,499.6 200.4,499.9 201.3,500.0 202.3,499.8 203.2,499.3 204.2,499.6 205.1,499.2 206.0,499.6 207.0,499.3 207.9,499.5 208.9,499.9 209.8,499.4 210.8,499.7 211.7,499.2 212.7,499.0 213.6,499.4 214.5,499.4 215.5,498.8 216.4,498.9 217.4,498.5 218.3,498.8 219.3,499.0 220.2,498.8 221.2,498.6 222.1,498.4 223.1,498.8 224.0,498.9 224.9,498.8 225.9,498.7 226.8,498.2 227.8,499.0 228.7,498.5 229.7,498.4 230.6,498.6 231.6,497.9 232.5,498.4 233.5,498.3 234.4,498.4 235.3,498.6 236.3,498.4 237.2,497.8 238.2,498.1 239.1,498.3 240.1,498.2 241.0,497.8 242.0,497.7 242.9,498.2 243.8,498.2 244.8,498.1 245.7,497.6 246.7,498.5 247.6,497.3 248.6,497.9 249.5,498.5 250.5,497.9 251.4,498.0 252.4,497.6 253.3,498.2 254.2,497.6 255.2,497.9 256.1,497.9 257.1,497.6 258.0,498.0 259.0,497.5 259.9,497.6 260.9,497.8 261.8,497.7 262.8,497.9 263.7,498.0 264.6,497.7 265.6,497.6 266.5,497.6 267.5,497.6 268.4,497.9 269.4,497.7 270.3,497.8 271.3,497.7 272.2,497.5 273.2,497.9 274.1,497.4 275.0,497.7 276.0,498.0 276.9,497.4 277.9,497.6 278.8,497.2 279.8,497.5 280.7,497.2 281.7,497.5 282.6,497.5 283.5,497.6 284.5,498.0 285.4,497.7 286.4,497.7 287.3,497.6 288.3,497.5 289.2,497.4 290.2,497.1 291.1,497.6 292.1,497.9 293.0,497.7 293.9,497.4 294.9,497.9 295.8,497.4 296.8,497.4 297.7,497.2 298.7,497.3 299.6,497.4 300.6,498.0 301.5,497.4 302.5,497.2 303.4,497.3 304.3,497.4 305.3,497.0 306.2,497.5 307.2,497.6 308.1,497.5 309.1,497.6 310.0,497.1 311.0,497.0 311.9,497.8 312.8,497.7 313.8,497.0 314.7,497.5 315.7,497.4 316.6,497.6 317.6,497.5 318.5,497.3 319.5,497.5 320.4,497.4 321.4,497.4 322.3,496.9 323.2,496.6 324.2,497.2 325.1,497.0 326.1,497.4 327.0,497.5 328.0,497.4 328.9,497.3 329.9,497.4 330.8,497.6 331.8,497.2 332.7,497.6 333.6,497.5 334.6,497.4 335.5,497.7 336.5,497.1 337.4,497.6 338.4,497.1 339.3,497.1 340.3,497.0 341.2,497.4 342.2,497.1 343.1,497.3 344.0,497.0 345.0,497.6 345.9,497.7 346.9,497.3 347.8,497.7 348.8,497.4 349.7,497.8 350.7,497.3 351.6,496.9 352.5,497.6 353.5,497.2 354.4,497.0 355.4,497.1 356.3,496.8 357.3,497.2 358.2,497.0 359.2,497.6 360.1,497.4 361.1,496.8 362.0,496.8" fill="none" stroke="#6f7fd0" stroke-width="1.55" stroke-linejoin="round"/>
<polyline points="35.6,491.9 36.2,487.2 36.8,483.8 37.4,481.7 38.0,479.9 38.6,478.8 39.2,478.5 39.8,478.2 40.4,477.9 41.0,477.4 41.6,477.6 42.2,477.2 42.8,477.5 43.4,477.2 44.0,477.6 44.6,477.1 45.2,477.2 45.8,477.4 46.4,477.6 47.0,477.1 47.6,477.3 48.2,477.5 48.8,477.5 49.4,477.2 50.0,477.5 50.6,477.4 51.2,477.8 51.8,477.6 52.4,477.1 53.0,476.9 53.6,477.5 54.2,477.8 54.8,477.5 55.4,477.7 56.0,477.4 56.6,477.2 57.2,477.7 57.8,477.5 58.4,477.7 59.0,477.2 59.6,477.5 60.2,477.3 60.8,477.7 61.4,477.4 62.0,477.3 62.6,477.4 63.2,477.8 63.8,477.5 64.4,477.3 65.0,477.2 65.6,477.2 66.2,477.9 66.8,477.0 67.4,477.3 68.0,477.7 68.6,477.8 69.2,477.5 69.8,477.7 70.4,477.7 71.0,477.7 71.6,477.5 72.2,477.9 72.8,477.5 73.4,477.9 74.0,477.2 74.6,477.7 75.2,477.2 75.8,477.1 76.4,477.6 77.0,477.3 77.6,477.6 78.2,477.2 78.8,477.9 79.4,477.5 80.0,477.2 80.6,477.5 81.2,477.7 81.8,477.3 82.4,477.6 83.0,478.0 83.6,477.7 84.2,477.5 84.8,477.3 85.4,477.6 86.0,477.1 86.6,476.7 87.2,477.3 87.8,477.2 88.4,477.9 89.0,477.5 89.6,477.2 90.2,477.2 90.8,477.6 91.4,477.3 92.0,477.3 92.6,477.5 93.2,477.5 93.8,477.5 94.4,477.5 95.0,477.8 95.6,477.9 96.2,477.1 96.8,478.1 97.4,477.5 98.0,477.8 98.6,477.3 99.2,477.5 99.8,477.5 100.4,477.5 101.0,477.7 101.6,477.6 102.2,477.2 102.8,477.4 103.4,477.6 104.0,477.6 104.6,477.4 105.2,477.4 105.8,477.4 106.4,477.2 107.0,477.1 107.6,477.8 108.2,477.3 108.8,477.5 109.4,477.3 110.0,477.8 110.6,477.9 111.2,477.4 111.8,477.6 112.4,477.2 113.0,477.9 113.6,477.7 114.2,477.2 114.8,477.7 115.4,477.5 116.0,477.5 116.6,477.5 117.2,477.3 117.8,477.3 118.4,477.6 119.0,477.4 119.6,477.2 120.2,477.9 120.8,477.4 121.4,477.3 122.0,477.2 122.6,477.6 123.2,477.6 123.8,477.5 124.4,477.6 125.0,477.0 125.6,477.3 126.2,477.3 126.8,477.4 127.4,477.5 128.0,476.9 128.6,478.2 129.2,477.2 129.8,477.5 130.4,477.6 131.0,477.6 131.6,477.4 132.2,476.6 132.8,477.1 133.4,477.6 134.0,477.1 134.6,477.1 135.2,476.8 135.8,477.7 136.4,477.5 137.0,477.1 137.6,477.3 138.2,477.3 138.8,477.1 139.4,477.3 140.0,477.4 140.6,477.5 141.2,477.7 141.8,477.3 142.4,477.2 143.0,477.4 143.6,477.2 144.2,477.0 144.8,477.6 145.4,477.2 146.0,477.4 146.6,477.5 147.2,477.0 147.8,477.5 148.4,477.4 149.0,477.3 149.6,477.4 150.2,477.1 150.8,476.8 151.4,477.2 152.0,477.1 152.6,477.5 153.2,477.4 153.8,477.2 154.4,477.3 155.0,477.6 155.9,483.3 156.9,488.0 157.8,491.8 158.8,492.7 159.7,493.1 160.7,493.4 161.6,493.2 162.6,493.3 163.5,492.9 164.5,492.8 165.4,492.8 166.3,493.1 167.3,493.5 168.2,493.5 169.2,493.0 170.1,492.8 171.1,493.4 172.0,493.3 173.0,492.9 173.9,493.5 174.8,493.2 175.8,493.5 176.7,493.3 177.7,493.4 178.6,493.3 179.6,493.0 180.5,493.1 181.5,493.0 182.4,493.4 183.4,493.0 184.3,492.8 185.2,493.4 186.2,493.5 187.1,493.6 188.1,493.5 189.0,492.8 190.0,493.0 190.9,493.1 191.9,493.2 192.8,492.7 193.8,493.2 194.7,493.3 195.6,493.0 196.6,493.2 197.5,493.5 198.5,493.2 199.4,493.5 200.4,493.5 201.3,493.3 202.3,493.3 203.2,493.1 204.2,493.5 205.1,493.1 206.0,493.0 207.0,493.4 207.9,493.0 208.9,493.3 209.8,493.5 210.8,493.2 211.7,493.2 212.7,493.4 213.6,493.4 214.5,492.8 215.5,492.9 216.4,493.5 217.4,493.3 218.3,492.7 219.3,492.9 220.2,493.2 221.2,493.0 222.1,493.3 223.1,493.2 224.0,493.3 224.9,492.9 225.9,493.4 226.8,493.7 227.8,493.0 228.7,493.5 229.7,493.4 230.6,493.4 231.6,493.2 232.5,492.9 233.5,493.0 234.4,493.4 235.3,493.4 236.3,493.5 237.2,493.4 238.2,493.4 239.1,493.1 240.1,492.9 241.0,493.2 242.0,493.3 242.9,493.2 243.8,492.8 244.8,493.0 245.7,492.8 246.7,493.2 247.6,492.9 248.6,493.1 249.5,493.3 250.5,493.2 251.4,493.5 252.4,492.9 253.3,492.6 254.2,493.4 255.2,493.5 256.1,493.5 257.1,493.2 258.0,493.3 259.0,493.2 259.9,492.8 260.9,493.0 261.8,493.3 262.8,493.0 263.7,493.6 264.6,492.8 265.6,493.0 266.5,493.4 267.5,493.0 268.4,492.9 269.4,492.8 270.3,493.0 271.3,493.5 272.2,493.2 273.2,493.3 274.1,493.0 275.0,493.4 276.0,493.2 276.9,492.9 277.9,493.0 278.8,493.2 279.8,493.4 280.7,493.1 281.7,493.3 282.6,493.6 283.5,492.9 284.5,492.8 285.4,493.4 286.4,493.2 287.3,493.1 288.3,493.2 289.2,493.0 290.2,493.2 291.1,493.0 292.1,493.3 293.0,492.8 293.9,492.9 294.9,493.1 295.8,493.0 296.8,493.3 297.7,493.1 298.7,493.0 299.6,493.2 300.6,493.0 301.5,492.7 302.5,492.8 303.4,492.9 304.3,493.0 305.3,493.1 306.2,493.3 307.2,493.2 308.1,493.5 309.1,493.4 310.0,493.0 311.0,493.5 311.9,493.4 312.8,493.0 313.8,493.2 314.7,493.4 315.7,493.1 316.6,493.3 317.6,493.2 318.5,493.3 319.5,493.0 320.4,493.2 321.4,493.0 322.3,493.2 323.2,492.6 324.2,493.2 325.1,493.4 326.1,493.2 327.0,493.1 328.0,493.2 328.9,492.8 329.9,492.8 330.8,493.0 331.8,493.0 332.7,493.3 333.6,492.8 334.6,493.3 335.5,492.7 336.5,492.9 337.4,493.0 338.4,493.3 339.3,492.9 340.3,492.5 341.2,493.1 342.2,493.0 343.1,492.8 344.0,492.8 345.0,492.9 345.9,493.1 346.9,493.2 347.8,492.7 348.8,493.6 349.7,493.0 350.7,492.9 351.6,493.2 352.5,493.1 353.5,493.6 354.4,493.3 355.4,492.9 356.3,492.9 357.3,492.9 358.2,492.9 359.2,493.2 360.1,492.9 361.1,493.4 362.0,493.0" fill="none" stroke="#85843f" stroke-width="1.55" stroke-linejoin="round"/>
<polyline points="35.6,492.0 36.2,486.0 36.8,479.2 37.4,474.7 38.0,470.9 38.6,467.5 39.2,464.9 39.8,463.1 40.4,461.6 41.0,460.9 41.6,459.9 42.2,459.4 42.8,459.9 43.4,459.1 44.0,459.0 44.6,459.4 45.2,459.3 45.8,458.9 46.4,458.9 47.0,459.0 47.6,458.8 48.2,459.2 48.8,459.1 49.4,459.1 50.0,459.2 50.6,459.2 51.2,459.5 51.8,459.5 52.4,458.7 53.0,459.3 53.6,458.8 54.2,458.8 54.8,459.3 55.4,459.0 56.0,459.1 56.6,459.4 57.2,459.0 57.8,459.0 58.4,459.3 59.0,459.5 59.6,459.3 60.2,458.8 60.8,459.1 61.4,459.2 62.0,459.7 62.6,459.5 63.2,459.5 63.8,459.6 64.4,459.2 65.0,459.4 65.6,459.4 66.2,459.0 66.8,459.3 67.4,459.4 68.0,459.0 68.6,459.5 69.2,459.5 69.8,459.6 70.4,459.1 71.0,459.4 71.6,459.7 72.2,459.6 72.8,459.2 73.4,459.4 74.0,459.7 74.6,459.4 75.2,459.5 75.8,460.1 76.4,459.4 77.0,459.4 77.6,459.2 78.2,459.3 78.8,459.8 79.4,459.4 80.0,459.2 80.6,459.2 81.2,459.5 81.8,459.7 82.4,459.3 83.0,459.7 83.6,459.4 84.2,459.6 84.8,459.6 85.4,459.7 86.0,459.4 86.6,459.5 87.2,459.7 87.8,459.2 88.4,459.6 89.0,459.7 89.6,459.8 90.2,459.6 90.8,459.5 91.4,459.6 92.0,459.4 92.6,459.5 93.2,459.7 93.8,459.7 94.4,459.3 95.0,459.5 95.6,459.1 96.2,459.8 96.8,459.5 97.4,459.7 98.0,459.3 98.6,459.6 99.2,459.7 99.8,459.8 100.4,459.3 101.0,459.8 101.6,459.6 102.2,459.4 102.8,459.7 103.4,459.5 104.0,459.5 104.6,459.4 105.2,459.6 105.8,459.6 106.4,459.5 107.0,459.4 107.6,459.5 108.2,459.7 108.8,459.9 109.4,459.6 110.0,459.9 110.6,459.6 111.2,459.3 111.8,459.7 112.4,459.3 113.0,459.7 113.6,459.8 114.2,459.5 114.8,459.5 115.4,460.2 116.0,459.6 116.6,459.6 117.2,459.8 117.8,459.5 118.4,459.5 119.0,459.7 119.6,459.0 120.2,459.9 120.8,459.3 121.4,459.3 122.0,459.7 122.6,459.5 123.2,459.2 123.8,459.6 124.4,459.2 125.0,459.4 125.6,459.2 126.2,459.3 126.8,459.6 127.4,459.6 128.0,459.6 128.6,459.7 129.2,459.5 129.8,459.3 130.4,459.4 131.0,459.9 131.6,459.5 132.2,459.6 132.8,459.5 133.4,459.6 134.0,459.6 134.6,459.5 135.2,459.4 135.8,459.3 136.4,459.3 137.0,459.6 137.6,459.7 138.2,459.7 138.8,459.5 139.4,459.3 140.0,459.6 140.6,459.6 141.2,459.1 141.8,459.7 142.4,459.6 143.0,459.9 143.6,459.2 144.2,459.1 144.8,459.6 145.4,459.0 146.0,459.3 146.6,459.2 147.2,459.2 147.8,458.9 148.4,459.4 149.0,459.7 149.6,459.5 150.2,459.5 150.8,459.3 151.4,459.8 152.0,459.5 152.6,459.7 153.2,459.0 153.8,459.5 154.4,459.1 155.0,459.5 155.9,467.4 156.9,475.0 157.8,483.0 158.8,488.5 159.7,492.3 160.7,494.9 161.6,496.7 162.6,498.3 163.5,499.3 164.5,500.4 165.4,501.3 166.3,501.5 167.3,501.6 168.2,501.6 169.2,502.1 170.1,501.9 171.1,501.5 172.0,501.5 173.0,501.9 173.9,501.7 174.8,502.3 175.8,501.8 176.7,501.5 177.7,501.6 178.6,502.1 179.6,501.4 180.5,501.8 181.5,501.6 182.4,501.8 183.4,501.5 184.3,501.2 185.2,501.3 186.2,501.1 187.1,501.2 188.1,500.9 189.0,501.3 190.0,500.6 190.9,500.7 191.9,500.3 192.8,500.4 193.8,500.2 194.7,500.2 195.6,500.2 196.6,499.8 197.5,499.6 198.5,500.0 199.4,499.6 200.4,499.4 201.3,499.8 202.3,499.6 203.2,498.7 204.2,499.2 205.1,499.4 206.0,499.3 207.0,498.9 207.9,499.4 208.9,498.7 209.8,498.8 210.8,498.8 211.7,498.7 212.7,498.8 213.6,498.8 214.5,498.5 215.5,498.8 216.4,498.2 217.4,498.3 218.3,498.7 219.3,498.2 220.2,498.4 221.2,498.0 222.1,497.9 223.1,497.9 224.0,498.0 224.9,497.8 225.9,497.8 226.8,497.9 227.8,498.0 228.7,497.7 229.7,497.8 230.6,497.8 231.6,497.3 232.5,497.1 233.5,497.9 234.4,497.7 235.3,497.4 236.3,497.4 237.2,497.1 238.2,496.9 239.1,497.3 240.1,496.8 241.0,497.4 242.0,496.9 242.9,497.1 243.8,497.5 244.8,497.5 245.7,496.9 246.7,497.2 247.6,496.7 248.6,496.7 249.5,496.9 250.5,497.2 251.4,496.7 252.4,496.9 253.3,496.8 254.2,496.4 255.2,496.7 256.1,497.1 257.1,496.6 258.0,496.8 259.0,496.8 259.9,496.4 260.9,496.9 261.8,497.0 262.8,497.0 263.7,496.9 264.6,496.4 265.6,496.4 266.5,496.3 267.5,496.3 268.4,496.3 269.4,496.7 270.3,496.8 271.3,496.3 272.2,496.6 273.2,496.1 274.1,496.3 275.0,496.2 276.0,496.0 276.9,496.4 277.9,496.4 278.8,496.3 279.8,496.2 280.7,496.1 281.7,496.3 282.6,496.2 283.5,496.4 284.5,496.0 285.4,496.4 286.4,496.4 287.3,496.6 288.3,496.6 289.2,496.3 290.2,496.1 291.1,495.8 292.1,496.3 293.0,496.6 293.9,496.7 294.9,495.6 295.8,496.0 296.8,496.1 297.7,496.0 298.7,496.3 299.6,496.2 300.6,496.1 301.5,496.2 302.5,495.8 303.4,495.9 304.3,495.9 305.3,496.4 306.2,495.7 307.2,496.1 308.1,496.3 309.1,496.1 310.0,496.3 311.0,496.0 311.9,496.2 312.8,496.3 313.8,496.7 314.7,496.3 315.7,496.4 316.6,496.1 317.6,496.1 318.5,496.5 319.5,496.2 320.4,496.4 321.4,496.2 322.3,496.6 323.2,496.6 324.2,495.8 325.1,496.5 326.1,496.1 327.0,496.1 328.0,496.0 328.9,496.2 329.9,495.7 330.8,495.8 331.8,495.8 332.7,496.1 333.6,496.2 334.6,496.2 335.5,496.1 336.5,495.8 337.4,495.5 338.4,496.1 339.3,496.0 340.3,496.0 341.2,496.3 342.2,495.9 343.1,495.9 344.0,495.3 345.0,496.1 345.9,495.9 346.9,495.7 347.8,496.0 348.8,495.6 349.7,495.7 350.7,496.4 351.6,496.1 352.5,496.1 353.5,496.0 354.4,496.0 355.4,495.9 356.3,496.4 357.3,495.8 358.2,496.0 359.2,495.8 360.1,495.7 361.1,495.2 362.0,495.3" fill="none" stroke="#7a3db0" stroke-width="1.55" stroke-linejoin="round"/>
<polyline points="35.6,492.4 36.1,479.4 36.5,467.6 37.0,457.8 37.4,449.2 37.9,441.2 38.4,435.2 38.8,428.6 39.3,423.5 39.7,418.4 40.2,415.5 40.7,411.7 41.1,409.0 41.6,405.6 42.0,403.6 42.5,401.4 43.0,399.6 43.4,398.4 43.9,397.0 44.4,395.5 44.8,393.9 45.3,393.2 45.7,392.4 46.2,391.4 46.7,390.7 47.1,390.0 47.6,389.1 48.0,388.8 48.5,388.7 49.0,387.6 49.4,387.5 49.9,387.3 50.3,386.4 50.8,386.4 51.3,385.8 51.7,385.8 52.2,385.4 52.6,385.3 53.1,385.1 53.6,385.0 54.0,384.8 54.5,384.1 54.9,384.9 55.4,384.3 55.9,383.9 56.3,383.9 56.8,384.0 57.2,383.5 57.7,383.6 58.2,383.4 58.6,383.5 59.1,383.1 59.5,383.3 60.0,383.1 60.5,382.9 60.9,383.1 61.4,382.7 61.9,382.3 62.3,382.6 62.8,382.4 63.2,382.3 63.7,382.2 64.2,382.6 64.6,382.0 65.1,382.0 65.5,381.7 66.0,382.0 66.5,381.5 66.9,381.3 67.4,381.1 67.8,381.4 68.3,381.4 68.8,380.7 69.2,380.8 69.7,381.1 70.1,381.1 70.6,380.4 71.1,380.5 71.5,380.8 72.0,380.3 72.4,380.3 72.9,380.2 73.4,379.9 73.8,380.1 74.3,380.1 74.7,379.6 75.2,379.9 75.7,380.1 76.1,379.8 76.6,379.9 77.1,379.4 77.5,379.8 78.0,379.2 78.4,379.8 78.9,379.1 79.4,379.0 79.8,378.9 80.3,378.9 80.7,378.8 81.2,378.7 81.7,378.7 82.1,378.9 82.6,378.9 83.0,378.5 83.5,378.8 84.0,378.2 84.4,378.1 84.9,378.0 85.3,378.4 85.8,377.8 86.3,377.8 86.7,378.4 87.2,378.4 87.6,378.3 88.1,377.5 88.6,377.8 89.0,377.9 89.5,377.7 89.9,377.2 90.4,377.4 90.9,377.0 91.3,377.1 91.8,377.9 92.3,377.5 92.7,376.9 93.2,376.8 93.6,377.2 94.1,376.9 94.6,377.1 95.0,376.8 95.5,376.8 95.9,376.9 96.4,376.5 96.9,376.2 97.3,376.4 97.8,376.4 98.2,376.5 98.7,376.5 99.2,376.4 99.6,376.5 100.1,376.1 100.5,376.6 101.0,376.7 101.5,376.3 101.9,376.2 102.4,376.4 102.8,376.2 103.3,376.0 103.8,375.9 104.2,375.7 104.7,375.5 105.1,375.9 105.6,376.0 106.1,375.4 106.5,375.6 107.0,375.6 107.4,375.4 107.9,375.3 108.4,375.3 108.8,374.9 109.3,375.3 109.8,375.2 110.2,375.8 110.7,375.5 111.1,375.1 111.6,375.1 112.1,375.5 112.5,375.4 113.0,375.1 113.4,374.9 113.9,374.6 114.4,374.8 114.8,374.8 115.3,374.6 115.7,375.2 116.2,374.3 116.7,374.6 117.1,374.7 117.6,374.7 118.0,375.0 118.5,374.2 119.0,374.3 119.4,374.5 119.9,374.4 120.3,374.3 120.8,374.1 121.3,374.6 121.7,374.0 122.2,374.1 122.6,374.6 123.1,374.6 123.6,374.3 124.0,373.9 124.5,373.8 125.0,373.8 125.4,373.7 125.9,373.8 126.3,374.2 126.8,373.9 127.3,373.7 127.7,373.6 128.2,373.5 128.6,374.1 129.1,373.2 129.6,373.8 130.0,373.3 130.5,373.4 130.9,373.2 131.4,373.8 131.9,373.5 132.3,374.2 132.8,373.2 133.2,373.2 133.7,373.6 134.2,373.5 134.6,373.3 135.1,372.8 135.5,373.7 136.0,373.4 136.5,373.3 136.9,373.1 137.4,373.3 137.8,373.0 138.3,373.1 138.8,373.1 139.2,373.4 139.7,372.9 140.1,372.9 140.6,373.3 141.1,373.0 141.5,372.9 142.0,372.9 142.5,373.1 142.9,372.7 143.4,373.0 143.8,373.3 144.3,372.9 144.8,372.6 145.2,372.4 145.7,372.8 146.1,372.4 146.6,372.3 147.1,372.5 147.5,372.4 148.0,372.8 148.4,372.2 148.9,373.0 149.4,372.3 149.8,372.5 150.3,372.7 150.7,372.5 151.2,372.6 151.7,372.2 152.1,371.8 152.6,372.3 153.0,371.9 153.5,372.2 154.0,372.6 154.4,372.3 154.9,372.1 155.9,380.7 156.7,390.2 157.6,399.1 158.5,406.1 159.3,411.8 160.2,415.6 161.1,419.5 161.9,422.5 162.8,425.7 163.7,428.3 164.5,430.6 165.4,433.1 166.3,435.8 167.1,438.4 168.0,440.7 168.9,442.8 169.7,445.1 170.6,447.5 171.5,448.7 172.3,451.1 173.2,452.5 174.1,454.7 174.9,455.7 175.8,457.2 176.7,458.3 177.5,459.8 178.4,461.2 179.3,462.6 180.1,463.0 181.0,464.2 181.8,466.2 182.7,466.3 183.6,466.9 184.4,467.7 185.3,467.5 186.2,469.2 187.0,469.4 187.9,469.5 188.8,470.7 189.6,470.8 190.5,471.2 191.4,472.0 192.2,472.4 193.1,472.7 194.0,473.2 194.8,473.3 195.7,473.6 196.6,474.6 197.4,475.0 198.3,475.1 199.2,475.4 200.0,475.5 200.9,475.9 201.8,475.9 202.6,476.8 203.5,476.5 204.4,477.0 205.2,477.1 206.1,476.9 207.0,477.9 207.8,477.5 208.7,477.6 209.6,478.0 210.4,477.9 211.3,478.2 212.2,478.1 213.0,478.6 213.9,478.7 214.8,478.4 215.6,479.1 216.5,479.1 217.4,478.8 218.2,479.3 219.1,479.4 220.0,479.9 220.8,479.3 221.7,479.9 222.6,479.7 223.4,480.0 224.3,479.9 225.2,480.0 226.0,480.2 226.9,479.9 227.8,479.7 228.6,480.3 229.5,480.3 230.4,480.5 231.2,480.7 232.1,480.6 232.9,481.0 233.8,480.8 234.7,480.9 235.5,481.1 236.4,481.1 237.3,481.0 238.1,481.1 239.0,480.9 239.9,481.0 240.7,481.3 241.6,481.5 242.5,481.3 243.3,481.7 244.2,482.0 245.1,482.2 245.9,481.7 246.8,482.0 247.7,482.0 248.5,482.2 249.4,482.3 250.3,482.3 251.1,482.4 252.0,482.4 252.9,482.4 253.7,482.6 254.6,482.7 255.5,483.0 256.3,482.9 257.2,483.0 258.1,483.3 258.9,482.7 259.8,482.9 260.7,483.2 261.5,483.1 262.4,482.9 263.3,483.4 264.1,483.2 265.0,483.0 265.9,483.7 266.7,482.9 267.6,483.3 268.5,483.1 269.3,483.3 270.2,483.5 271.1,483.2 271.9,483.4 272.8,483.4 273.7,483.2 274.5,483.7 275.4,483.5 276.3,483.4 277.1,483.3 278.0,483.4 278.9,483.6 279.7,483.5 280.6,483.9 281.5,483.0 282.3,483.1 283.2,483.6 284.1,483.2 284.9,483.7 285.8,483.6 286.6,483.9 287.5,483.9 288.4,484.2 289.2,484.1 290.1,484.2 291.0,484.1 291.8,484.2 292.7,484.1 293.6,483.9 294.4,483.8 295.3,483.8 296.2,484.2 297.0,483.6 297.9,484.2 298.8,484.0 299.6,484.4 300.5,484.3 301.4,484.1 302.2,484.4 303.1,483.8 304.0,484.5 304.8,484.6 305.7,484.0 306.6,484.7 307.4,484.5 308.3,484.6 309.2,484.3 310.0,484.8 310.9,484.8 311.8,484.7 312.6,484.5 313.5,485.0 314.4,485.1 315.2,484.9 316.1,485.1 317.0,484.8 317.8,485.0 318.7,485.1 319.6,485.0 320.4,485.7 321.3,485.2 322.2,485.0 323.0,485.3 323.9,484.9 324.8,485.3 325.6,485.4 326.5,485.1 327.4,485.2 328.2,485.1 329.1,485.4 330.0,485.2 330.8,485.9 331.7,485.6 332.6,485.4 333.4,485.2 334.3,486.1 335.2,485.9 336.0,485.7 336.9,485.7 337.7,485.7 338.6,485.6 339.5,486.2 340.3,485.8 341.2,485.5 342.1,485.7 342.9,485.2 343.8,486.1 344.7,486.2 345.5,486.4 346.4,486.6 347.3,485.9 348.1,486.2 349.0,486.4 349.9,486.4 350.7,486.1 351.6,486.4 352.5,486.4 353.3,486.6 354.2,486.3 355.1,486.3 355.9,486.3 356.8,486.3 357.7,486.3 358.5,486.4 359.4,486.6 360.3,486.7 361.1,486.9 362.0,486.9" fill="none" stroke="#111111" stroke-width="1.55" stroke-linejoin="round"/>
<polyline points="35.6,492.2 36.1,465.9 36.5,446.0 37.0,429.9 37.4,416.5 37.9,406.4 38.4,398.4 38.8,391.9 39.3,387.0 39.7,382.7 40.2,379.8 40.7,376.8 41.1,374.9 41.6,373.1 42.0,371.6 42.5,371.0 43.0,369.8 43.4,369.1 43.9,368.2 44.4,367.9 44.8,367.4 45.3,366.8 45.7,366.1 46.2,366.4 46.7,366.1 47.1,365.7 47.6,365.4 48.0,365.2 48.5,365.0 49.0,364.5 49.4,364.5 49.9,364.5 50.3,364.1 50.8,363.8 51.3,364.3 51.7,363.9 52.2,363.5 52.6,363.3 53.1,362.6 53.6,362.8 54.0,362.9 54.5,363.2 54.9,362.2 55.4,362.4 55.9,362.9 56.3,362.5 56.8,362.3 57.2,362.4 57.7,361.9 58.2,361.8 58.6,361.9 59.1,361.8 59.5,361.2 60.0,361.7 60.5,360.8 60.9,361.0 61.4,361.8 61.9,360.8 62.3,361.0 62.8,360.5 63.2,360.5 63.7,360.3 64.2,360.3 64.6,360.5 65.1,360.7 65.5,360.4 66.0,360.4 66.5,359.8 66.9,360.2 67.4,359.9 67.8,360.0 68.3,359.5 68.8,359.5 69.2,359.8 69.7,359.5 70.1,359.3 70.6,359.0 71.1,359.1 71.5,359.2 72.0,359.2 72.4,358.8 72.9,358.8 73.4,358.9 73.8,358.4 74.3,358.9 74.7,358.6 75.2,358.5 75.7,357.8 76.1,358.0 76.6,358.0 77.1,358.1 77.5,357.9 78.0,358.2 78.4,358.1 78.9,357.9 79.4,357.4 79.8,358.2 80.3,357.8 80.7,357.9 81.2,357.6 81.7,357.7 82.1,357.8 82.6,357.6 83.0,357.8 83.5,357.4 84.0,357.9 84.4,356.9 84.9,357.2 85.3,357.5 85.8,357.2 86.3,357.1 86.7,356.7 87.2,357.4 87.6,356.6 88.1,357.1 88.6,357.0 89.0,357.1 89.5,357.3 89.9,356.7 90.4,356.6 90.9,356.7 91.3,356.3 91.8,356.9 92.3,356.6 92.7,356.7 93.2,356.3 93.6,356.6 94.1,356.4 94.6,356.5 95.0,356.2 95.5,356.7 95.9,356.2 96.4,355.7 96.9,356.5 97.3,356.2 97.8,356.0 98.2,356.9 98.7,356.2 99.2,355.8 99.6,356.0 100.1,356.2 100.5,356.0 101.0,356.4 101.5,356.3 101.9,355.8 102.4,356.0 102.8,356.1 103.3,355.8 103.8,355.8 104.2,356.1 104.7,356.0 105.1,355.5 105.6,355.7 106.1,355.7 106.5,355.7 107.0,355.6 107.4,356.1 107.9,355.5 108.4,355.4 108.8,355.7 109.3,355.1 109.8,355.4 110.2,355.8 110.7,355.3 111.1,355.4 111.6,355.8 112.1,355.6 112.5,355.5 113.0,355.6 113.4,355.3 113.9,355.5 114.4,355.4 114.8,356.1 115.3,355.5 115.7,355.3 116.2,355.4 116.7,355.4 117.1,355.0 117.6,355.1 118.0,355.7 118.5,355.0 119.0,355.1 119.4,355.5 119.9,355.6 120.3,355.0 120.8,355.6 121.3,355.1 121.7,355.6 122.2,355.3 122.6,355.1 123.1,355.4 123.6,355.3 124.0,355.0 124.5,355.7 125.0,355.0 125.4,355.4 125.9,355.0 126.3,354.6 126.8,354.8 127.3,355.0 127.7,355.2 128.2,355.5 128.6,355.1 129.1,355.0 129.6,354.7 130.0,355.0 130.5,355.1 130.9,354.4 131.4,355.3 131.9,355.3 132.3,355.5 132.8,354.7 133.2,355.0 133.7,354.9 134.2,354.6 134.6,354.7 135.1,354.7 135.5,355.0 136.0,355.0 136.5,355.2 136.9,354.8 137.4,354.5 137.8,355.0 138.3,354.9 138.8,355.0 139.2,355.2 139.7,354.7 140.1,355.0 140.6,354.6 141.1,354.9 141.5,355.0 142.0,354.8 142.5,354.8 142.9,354.4 143.4,354.6 143.8,354.8 144.3,354.5 144.8,354.5 145.2,355.4 145.7,354.8 146.1,354.5 146.6,354.5 147.1,355.1 147.5,354.0 148.0,354.6 148.4,354.9 148.9,354.6 149.4,354.8 149.8,354.4 150.3,354.7 150.7,354.7 151.2,354.7 151.7,354.7 152.1,354.7 152.6,354.9 153.0,354.6 153.5,354.5 154.0,354.6 154.4,354.6 154.9,354.2 155.9,363.5 156.7,373.1 157.6,381.9 158.5,388.0 159.3,393.7 160.2,399.8 161.1,404.2 161.9,408.3 162.8,412.1 163.7,416.0 164.5,418.4 165.4,421.3 166.3,423.3 167.1,425.5 168.0,426.8 168.9,428.9 169.7,429.8 170.6,431.7 171.5,433.4 172.3,434.5 173.2,435.1 174.1,436.9 174.9,438.0 175.8,438.9 176.7,439.8 177.5,440.9 178.4,441.8 179.3,443.1 180.1,443.8 181.0,444.8 181.8,445.5 182.7,445.8 183.6,446.9 184.4,448.1 185.3,447.9 186.2,448.9 187.0,449.3 187.9,449.9 188.8,450.8 189.6,451.6 190.5,452.1 191.4,452.6 192.2,453.3 193.1,453.2 194.0,454.4 194.8,454.8 195.7,455.2 196.6,455.7 197.4,456.0 198.3,457.0 199.2,456.9 200.0,457.2 200.9,458.0 201.8,458.3 202.6,458.9 203.5,459.7 204.4,459.6 205.2,460.1 206.1,461.0 207.0,460.5 207.8,461.3 208.7,461.8 209.6,462.2 210.4,462.8 211.3,462.4 212.2,463.0 213.0,463.1 213.9,463.3 214.8,463.6 215.6,463.7 216.5,464.4 217.4,464.8 218.2,464.6 219.1,465.4 220.0,465.3 220.8,465.5 221.7,465.3 222.6,466.5 223.4,466.7 224.3,466.7 225.2,466.9 226.0,466.9 226.9,467.6 227.8,467.7 228.6,468.1 229.5,468.3 230.4,468.1 231.2,468.3 232.1,469.0 232.9,468.7 233.8,469.5 234.7,469.8 235.5,469.5 236.4,470.2 237.3,470.3 238.1,470.6 239.0,470.5 239.9,470.9 240.7,471.2 241.6,471.7 242.5,471.6 243.3,471.8 244.2,471.5 245.1,472.1 245.9,472.0 246.8,472.3 247.7,472.6 248.5,472.9 249.4,473.0 250.3,473.1 251.1,473.2 252.0,473.7 252.9,473.3 253.7,473.7 254.6,474.2 255.5,474.0 256.3,474.4 257.2,474.6 258.1,475.0 258.9,475.0 259.8,474.4 260.7,475.0 261.5,475.2 262.4,475.5 263.3,475.6 264.1,476.1 265.0,476.0 265.9,475.6 266.7,475.9 267.6,475.7 268.5,476.8 269.3,476.4 270.2,476.5 271.1,476.3 271.9,476.7 272.8,477.1 273.7,477.0 274.5,477.1 275.4,477.1 276.3,477.9 277.1,477.4 278.0,477.3 278.9,477.6 279.7,477.7 280.6,477.9 281.5,477.9 282.3,477.8 283.2,478.1 284.1,478.4 284.9,478.0 285.8,478.9 286.6,478.9 287.5,478.1 288.4,478.6 289.2,479.0 290.1,479.2 291.0,479.3 291.8,478.5 292.7,478.8 293.6,479.0 294.4,479.3 295.3,479.0 296.2,479.4 297.0,479.5 297.9,479.6 298.8,479.2 299.6,479.6 300.5,479.7 301.4,479.6 302.2,480.1 303.1,479.8 304.0,480.3 304.8,479.8 305.7,480.4 306.6,480.5 307.4,479.9 308.3,480.3 309.2,480.3 310.0,480.1 310.9,480.6 311.8,480.6 312.6,480.3 313.5,480.6 314.4,480.8 315.2,480.6 316.1,480.5 317.0,481.2 317.8,480.6 318.7,481.0 319.6,481.2 320.4,481.2 321.3,480.6 322.2,481.0 323.0,481.2 323.9,481.2 324.8,481.5 325.6,481.5 326.5,481.5 327.4,481.5 328.2,481.8 329.1,481.9 330.0,481.2 330.8,482.3 331.7,481.6 332.6,482.0 333.4,481.5 334.3,481.8 335.2,481.7 336.0,482.3 336.9,482.3 337.7,482.1 338.6,482.1 339.5,482.3 340.3,482.1 341.2,482.2 342.1,482.2 342.9,482.7 343.8,482.5 344.7,482.2 345.5,482.7 346.4,482.8 347.3,483.1 348.1,482.6 349.0,482.9 349.9,483.4 350.7,482.8 351.6,482.9 352.5,483.1 353.3,482.9 354.2,483.1 355.1,483.0 355.9,483.0 356.8,483.5 357.7,483.2 358.5,483.1 359.4,483.4 360.3,483.5 361.1,483.6 362.0,483.8" fill="none" stroke="#b89058" stroke-width="1.55" stroke-linejoin="round"/>
<polyline points="35.6,492.4 36.1,466.3 36.5,446.4 37.0,430.0 37.4,417.9 37.9,407.8 38.4,399.5 38.8,393.0 39.3,387.8 39.7,383.6 40.2,380.8 40.7,378.4 41.1,375.4 41.6,374.3 42.0,372.3 42.5,370.8 43.0,370.2 43.4,369.4 43.9,368.5 44.4,367.7 44.8,367.6 45.3,366.5 45.7,366.3 46.2,365.9 46.7,365.1 47.1,364.5 47.6,364.1 48.0,364.1 48.5,364.0 49.0,363.1 49.4,363.1 49.9,363.4 50.3,362.3 50.8,362.6 51.3,362.3 51.7,362.1 52.2,361.3 52.6,361.5 53.1,360.8 53.6,361.3 54.0,360.5 54.5,360.5 54.9,360.0 55.4,360.0 55.9,359.4 56.3,359.6 56.8,359.5 57.2,359.1 57.7,359.3 58.2,358.8 58.6,358.7 59.1,358.4 59.5,358.5 60.0,357.7 60.5,357.6 60.9,357.4 61.4,357.4 61.9,357.2 62.3,357.1 62.8,356.8 63.2,356.4 63.7,356.3 64.2,356.3 64.6,355.4 65.1,356.2 65.5,355.5 66.0,355.4 66.5,355.4 66.9,355.1 67.4,354.6 67.8,354.8 68.3,355.0 68.8,354.8 69.2,354.7 69.7,354.1 70.1,354.0 70.6,354.2 71.1,354.2 71.5,353.7 72.0,353.3 72.4,352.9 72.9,353.6 73.4,352.7 73.8,353.1 74.3,353.1 74.7,353.5 75.2,352.6 75.7,352.4 76.1,352.5 76.6,352.3 77.1,352.4 77.5,352.1 78.0,351.7 78.4,351.2 78.9,351.7 79.4,351.3 79.8,351.8 80.3,350.9 80.7,351.2 81.2,350.9 81.7,350.7 82.1,351.3 82.6,350.8 83.0,350.6 83.5,350.7 84.0,350.3 84.4,350.3 84.9,350.1 85.3,350.7 85.8,350.2 86.3,350.1 86.7,350.2 87.2,349.7 87.6,349.7 88.1,349.2 88.6,349.7 89.0,349.5 89.5,349.3 89.9,349.6 90.4,348.7 90.9,349.2 91.3,348.7 91.8,348.7 92.3,348.8 92.7,349.1 93.2,348.4 93.6,348.4 94.1,348.3 94.6,349.0 95.0,348.6 95.5,348.5 95.9,348.8 96.4,348.3 96.9,347.6 97.3,347.9 97.8,347.7 98.2,348.5 98.7,347.5 99.2,347.9 99.6,347.6 100.1,347.6 100.5,347.6 101.0,347.5 101.5,347.3 101.9,347.1 102.4,347.2 102.8,347.1 103.3,347.0 103.8,347.3 104.2,347.1 104.7,347.2 105.1,347.0 105.6,347.5 106.1,346.8 106.5,346.6 107.0,347.1 107.4,346.6 107.9,346.8 108.4,347.0 108.8,346.6 109.3,346.5 109.8,346.8 110.2,346.6 110.7,346.3 111.1,346.1 111.6,346.3 112.1,345.9 112.5,346.1 113.0,346.0 113.4,346.3 113.9,346.4 114.4,345.9 114.8,346.0 115.3,345.7 115.7,345.6 116.2,345.8 116.7,346.1 117.1,346.0 117.6,346.0 118.0,345.7 118.5,345.1 119.0,346.0 119.4,346.0 119.9,345.9 120.3,345.9 120.8,345.9 121.3,346.3 121.7,345.6 122.2,345.9 122.6,345.7 123.1,345.6 123.6,345.4 124.0,345.3 124.5,345.0 125.0,345.5 125.4,345.2 125.9,344.9 126.3,345.0 126.8,344.9 127.3,345.6 127.7,345.1 128.2,345.1 128.6,344.8 129.1,344.8 129.6,345.3 130.0,344.9 130.5,345.0 130.9,345.4 131.4,345.5 131.9,345.1 132.3,345.0 132.8,344.9 133.2,344.8 133.7,345.3 134.2,344.5 134.6,344.7 135.1,344.2 135.5,344.4 136.0,344.8 136.5,344.8 136.9,344.7 137.4,344.5 137.8,344.4 138.3,344.5 138.8,344.5 139.2,344.8 139.7,344.9 140.1,344.6 140.6,344.4 141.1,344.2 141.5,344.5 142.0,344.4 142.5,343.9 142.9,344.8 143.4,344.4 143.8,344.3 144.3,344.1 144.8,344.1 145.2,344.5 145.7,344.1 146.1,344.3 146.6,344.4 147.1,344.7 147.5,344.4 148.0,344.2 148.4,344.1 148.9,344.4 149.4,344.4 149.8,344.0 150.3,344.3 150.7,344.1 151.2,343.7 151.7,343.8 152.1,344.3 152.6,344.4 153.0,344.2 153.5,344.0 154.0,343.8 154.4,344.2 154.9,344.1 155.9,351.7 156.7,360.9 157.6,368.8 158.5,376.4 159.3,382.2 160.2,387.4 161.1,392.4 161.9,396.7 162.8,400.2 163.7,403.6 164.5,407.0 165.4,409.1 166.3,410.5 167.1,412.1 168.0,414.5 168.9,416.2 169.7,417.2 170.6,418.2 171.5,419.5 172.3,419.8 173.2,421.4 174.1,423.0 174.9,424.1 175.8,424.5 176.7,426.5 177.5,427.5 178.4,428.7 179.3,429.5 180.1,430.6 181.0,431.4 181.8,432.7 182.7,433.9 183.6,434.3 184.4,435.5 185.3,436.2 186.2,437.4 187.0,438.2 187.9,438.2 188.8,439.7 189.6,440.6 190.5,441.0 191.4,441.8 192.2,442.6 193.1,443.0 194.0,444.0 194.8,445.2 195.7,445.6 196.6,446.5 197.4,447.0 198.3,447.7 199.2,448.1 200.0,448.9 200.9,449.8 201.8,450.3 202.6,450.6 203.5,450.9 204.4,451.4 205.2,452.2 206.1,452.8 207.0,452.7 207.8,453.8 208.7,454.3 209.6,454.8 210.4,455.1 211.3,456.3 212.2,456.4 213.0,456.3 213.9,456.9 214.8,457.8 215.6,458.1 216.5,458.5 217.4,458.9 218.2,459.2 219.1,459.6 220.0,459.8 220.8,460.7 221.7,460.2 222.6,461.1 223.4,462.0 224.3,461.9 225.2,462.2 226.0,463.3 226.9,463.5 227.8,463.5 228.6,463.8 229.5,464.2 230.4,464.6 231.2,464.9 232.1,465.1 232.9,465.8 233.8,465.9 234.7,465.9 235.5,466.3 236.4,467.0 237.3,467.0 238.1,467.0 239.0,468.3 239.9,468.4 240.7,468.4 241.6,468.7 242.5,469.3 243.3,469.8 244.2,469.6 245.1,470.1 245.9,470.1 246.8,470.7 247.7,470.6 248.5,470.7 249.4,471.5 250.3,471.7 251.1,472.2 252.0,472.1 252.9,472.9 253.7,472.9 254.6,473.5 255.5,473.3 256.3,474.0 257.2,473.8 258.1,474.0 258.9,474.4 259.8,473.9 260.7,474.2 261.5,475.1 262.4,474.4 263.3,474.8 264.1,475.2 265.0,475.6 265.9,475.2 266.7,475.5 267.6,475.2 268.5,475.5 269.3,476.0 270.2,475.9 271.1,476.0 271.9,476.2 272.8,476.2 273.7,476.3 274.5,476.2 275.4,476.2 276.3,476.7 277.1,476.3 278.0,477.0 278.9,477.3 279.7,477.3 280.6,477.5 281.5,476.8 282.3,477.2 283.2,477.0 284.1,477.1 284.9,476.9 285.8,477.1 286.6,477.7 287.5,477.8 288.4,478.0 289.2,478.0 290.1,478.0 291.0,477.7 291.8,477.9 292.7,478.2 293.6,478.4 294.4,478.1 295.3,478.1 296.2,478.2 297.0,478.8 297.9,478.6 298.8,478.4 299.6,478.4 300.5,478.8 301.4,478.3 302.2,478.7 303.1,478.7 304.0,478.8 304.8,479.0 305.7,479.1 306.6,479.9 307.4,479.2 308.3,479.4 309.2,479.1 310.0,478.9 310.9,479.7 311.8,480.0 312.6,479.3 313.5,479.6 314.4,479.9 315.2,479.7 316.1,479.1 317.0,480.1 317.8,479.8 318.7,480.1 319.6,479.7 320.4,480.3 321.3,480.4 322.2,480.0 323.0,480.3 323.9,480.1 324.8,480.2 325.6,480.1 326.5,480.3 327.4,480.3 328.2,480.8 329.1,480.5 330.0,480.3 330.8,481.0 331.7,480.9 332.6,481.0 333.4,480.8 334.3,481.1 335.2,480.9 336.0,480.7 336.9,481.0 337.7,481.1 338.6,481.2 339.5,481.4 340.3,480.8 341.2,481.3 342.1,481.1 342.9,481.3 343.8,481.5 344.7,481.5 345.5,481.3 346.4,481.7 347.3,481.6 348.1,481.9 349.0,482.0 349.9,481.6 350.7,481.5 351.6,481.9 352.5,482.1 353.3,482.0 354.2,481.7 355.1,481.6 355.9,481.8 356.8,481.9 357.7,482.3 358.5,482.2 359.4,482.5 360.3,482.3 361.1,482.8 362.0,482.4" fill="none" stroke="#2f57ad" stroke-width="1.55" stroke-linejoin="round"/>
<polyline points="35.6,492.2 36.1,466.9 36.5,447.2 37.0,431.6 37.4,419.0 37.9,409.1 38.4,400.6 38.8,394.4 39.3,389.5 39.7,385.0 40.2,381.5 40.7,378.7 41.1,376.3 41.6,374.6 42.0,373.3 42.5,371.8 43.0,370.5 43.4,369.3 43.9,368.4 44.4,368.5 44.8,367.1 45.3,366.6 45.7,365.9 46.2,365.5 46.7,364.8 47.1,364.5 47.6,364.4 48.0,363.4 48.5,363.3 49.0,362.8 49.4,362.6 49.9,361.8 50.3,361.7 50.8,361.0 51.3,360.5 51.7,360.2 52.2,360.0 52.6,359.6 53.1,359.5 53.6,359.5 54.0,358.6 54.5,358.7 54.9,358.3 55.4,357.8 55.9,357.5 56.3,357.5 56.8,357.2 57.2,356.7 57.7,356.5 58.2,356.2 58.6,355.6 59.1,355.7 59.5,355.5 60.0,355.6 60.5,354.6 60.9,354.4 61.4,354.4 61.9,354.0 62.3,353.8 62.8,353.6 63.2,353.3 63.7,353.1 64.2,353.0 64.6,352.3 65.1,352.6 65.5,351.7 66.0,352.4 66.5,352.0 66.9,351.4 67.4,351.6 67.8,351.1 68.3,351.0 68.8,350.9 69.2,350.6 69.7,350.3 70.1,350.3 70.6,349.9 71.1,349.6 71.5,349.3 72.0,348.9 72.4,349.6 72.9,349.2 73.4,348.4 73.8,348.7 74.3,348.5 74.7,347.7 75.2,347.9 75.7,347.9 76.1,348.2 76.6,347.9 77.1,347.8 77.5,347.4 78.0,347.4 78.4,346.7 78.9,347.0 79.4,346.8 79.8,346.2 80.3,346.4 80.7,346.6 81.2,346.6 81.7,346.3 82.1,345.6 82.6,345.6 83.0,345.4 83.5,345.7 84.0,345.0 84.4,344.9 84.9,344.6 85.3,344.9 85.8,344.8 86.3,344.5 86.7,344.3 87.2,344.3 87.6,344.6 88.1,343.8 88.6,344.0 89.0,344.0 89.5,343.9 89.9,344.0 90.4,343.8 90.9,343.5 91.3,343.7 91.8,343.5 92.3,343.2 92.7,343.1 93.2,342.6 93.6,342.9 94.1,342.5 94.6,342.4 95.0,342.5 95.5,342.0 95.9,342.1 96.4,342.1 96.9,342.3 97.3,342.0 97.8,342.1 98.2,342.3 98.7,342.0 99.2,341.4 99.6,341.2 100.1,341.3 100.5,341.3 101.0,340.9 101.5,340.9 101.9,340.8 102.4,341.0 102.8,341.4 103.3,341.4 103.8,340.7 104.2,340.7 104.7,340.4 105.1,340.3 105.6,340.6 106.1,340.6 106.5,340.3 107.0,340.6 107.4,340.3 107.9,340.6 108.4,340.1 108.8,340.4 109.3,340.0 109.8,340.1 110.2,340.1 110.7,339.6 111.1,339.7 111.6,339.8 112.1,339.6 112.5,339.7 113.0,339.4 113.4,339.2 113.9,339.5 114.4,339.5 114.8,339.2 115.3,339.6 115.7,339.4 116.2,339.4 116.7,339.4 117.1,338.9 117.6,339.6 118.0,338.8 118.5,339.1 119.0,339.1 119.4,339.0 119.9,338.9 120.3,338.6 120.8,338.7 121.3,338.7 121.7,339.0 122.2,338.5 122.6,338.8 123.1,338.7 123.6,338.5 124.0,338.3 124.5,338.4 125.0,338.0 125.4,338.4 125.9,338.4 126.3,338.1 126.8,338.4 127.3,338.3 127.7,338.0 128.2,338.3 128.6,338.0 129.1,338.7 129.6,337.8 130.0,337.8 130.5,337.8 130.9,338.0 131.4,338.2 131.9,337.9 132.3,337.7 132.8,338.3 133.2,338.0 133.7,337.7 134.2,337.7 134.6,337.3 135.1,337.6 135.5,338.0 136.0,337.3 136.5,337.2 136.9,337.5 137.4,336.9 137.8,337.8 138.3,337.1 138.8,337.2 139.2,337.3 139.7,337.6 140.1,337.4 140.6,336.8 141.1,336.8 141.5,337.3 142.0,336.7 142.5,337.1 142.9,337.0 143.4,337.3 143.8,337.4 144.3,336.5 144.8,337.2 145.2,337.2 145.7,336.8 146.1,336.8 146.6,336.7 147.1,336.9 147.5,337.0 148.0,337.2 148.4,337.2 148.9,336.8 149.4,336.6 149.8,337.1 150.3,336.1 150.7,336.4 151.2,336.9 151.7,337.3 152.1,336.5 152.6,336.7 153.0,336.4 153.5,336.7 154.0,336.6 154.4,336.5 154.9,336.7 155.9,344.2 156.7,352.3 157.6,359.7 158.5,366.2 159.3,371.9 160.2,376.8 161.1,380.8 161.9,385.3 162.8,388.7 163.7,391.7 164.5,394.6 165.4,397.0 166.3,399.1 167.1,401.7 168.0,403.7 168.9,405.2 169.7,407.0 170.6,408.6 171.5,410.4 172.3,412.1 173.2,412.9 174.1,414.6 174.9,415.9 175.8,417.4 176.7,418.9 177.5,419.6 178.4,420.5 179.3,422.2 180.1,422.9 181.0,424.9 181.8,425.3 182.7,426.5 183.6,427.6 184.4,428.5 185.3,429.2 186.2,430.2 187.0,431.3 187.9,431.8 188.8,433.2 189.6,433.6 190.5,433.7 191.4,435.3 192.2,435.4 193.1,436.6 194.0,437.8 194.8,438.3 195.7,438.4 196.6,439.1 197.4,440.0 198.3,441.0 199.2,441.1 200.0,442.1 200.9,442.5 201.8,443.0 202.6,443.5 203.5,444.5 204.4,444.3 205.2,444.9 206.1,445.9 207.0,446.4 207.8,446.2 208.7,446.8 209.6,447.2 210.4,448.0 211.3,448.1 212.2,449.1 213.0,449.3 213.9,449.5 214.8,449.9 215.6,450.4 216.5,450.8 217.4,451.0 218.2,451.4 219.1,451.9 220.0,452.0 220.8,452.6 221.7,452.7 222.6,452.9 223.4,453.4 224.3,454.1 225.2,454.4 226.0,454.0 226.9,454.8 227.8,454.9 228.6,455.3 229.5,455.6 230.4,456.0 231.2,456.2 232.1,456.6 232.9,457.1 233.8,457.0 234.7,457.3 235.5,457.6 236.4,457.9 237.3,458.7 238.1,458.5 239.0,459.1 239.9,459.4 240.7,459.9 241.6,460.0 242.5,460.5 243.3,460.5 244.2,460.8 245.1,461.2 245.9,460.9 246.8,461.6 247.7,462.2 248.5,462.1 249.4,462.2 250.3,463.0 251.1,462.8 252.0,463.3 252.9,462.6 253.7,463.5 254.6,463.6 255.5,464.0 256.3,464.4 257.2,464.3 258.1,464.5 258.9,464.1 259.8,465.2 260.7,465.5 261.5,465.4 262.4,465.4 263.3,465.8 264.1,466.2 265.0,466.3 265.9,466.8 266.7,466.3 267.6,466.3 268.5,466.9 269.3,467.3 270.2,467.0 271.1,467.3 271.9,467.3 272.8,467.3 273.7,467.6 274.5,467.4 275.4,468.2 276.3,468.4 277.1,468.6 278.0,468.3 278.9,468.5 279.7,468.4 280.6,468.6 281.5,469.3 282.3,469.9 283.2,469.1 284.1,469.3 284.9,469.8 285.8,469.5 286.6,469.9 287.5,469.8 288.4,470.0 289.2,470.4 290.1,470.2 291.0,470.1 291.8,470.7 292.7,470.6 293.6,470.6 294.4,470.6 295.3,471.1 296.2,470.8 297.0,471.2 297.9,471.5 298.8,471.3 299.6,471.7 300.5,471.2 301.4,471.8 302.2,471.9 303.1,472.3 304.0,471.9 304.8,472.2 305.7,472.1 306.6,471.9 307.4,472.1 308.3,472.2 309.2,472.7 310.0,472.4 310.9,472.6 311.8,472.9 312.6,473.1 313.5,473.1 314.4,473.3 315.2,472.8 316.1,473.0 317.0,473.3 317.8,473.6 318.7,473.5 319.6,473.3 320.4,473.5 321.3,473.2 322.2,473.9 323.0,473.3 323.9,473.9 324.8,474.2 325.6,474.2 326.5,473.7 327.4,474.2 328.2,474.1 329.1,474.2 330.0,474.7 330.8,474.5 331.7,474.1 332.6,474.3 333.4,474.8 334.3,474.7 335.2,474.4 336.0,474.4 336.9,474.7 337.7,474.8 338.6,475.2 339.5,474.9 340.3,475.3 341.2,475.5 342.1,474.8 342.9,475.1 343.8,475.7 344.7,475.3 345.5,475.4 346.4,475.7 347.3,475.4 348.1,475.5 349.0,475.3 349.9,475.9 350.7,475.7 351.6,475.8 352.5,475.3 353.3,476.2 354.2,476.2 355.1,475.9 355.9,476.5 356.8,475.6 357.7,476.3 358.5,475.9 359.4,477.1 360.3,475.8 361.1,476.2 362.0,476.4" fill="none" stroke="#e8252b" stroke-width="1.55" stroke-linejoin="round"/>
<line x1="35" y1="492" x2="379.6" y2="492" stroke="#000" stroke-width="1.8"/>
<line x1="150" y1="492" x2="150" y2="497.5" stroke="#000" stroke-width="1.6"/>
<text x="149.5" y="508.6" font-size="8.7" font-weight="bold" fill="#111" stroke="#111" text-anchor="middle">200</text>
<line x1="264.4" y1="492" x2="264.4" y2="497.5" stroke="#000" stroke-width="1.6"/>
<text x="263.9" y="508.6" font-size="8.7" font-weight="bold" fill="#111" stroke="#111" text-anchor="middle">400</text>
<line x1="379.6" y1="492" x2="379.6" y2="497.5" stroke="#000" stroke-width="1.6"/>
<text x="379.1" y="508.6" font-size="8.7" font-weight="bold" fill="#111" stroke="#111" text-anchor="middle">600</text>
<text x="202.8" y="527" font-size="9" font-weight="bold" fill="#111" stroke="#111" text-anchor="middle">Time(s)</text>
<line x1="282.4" y1="318.4" x2="299.4" y2="318.4" stroke="#e8252b" stroke-width="1.5"/>
<text x="308.5" y="322.7" font-size="9.5" font-weight="bold" fill="#e8252b" stroke="#e8252b">WT</text>
<line x1="282.4" y1="332.3" x2="299.4" y2="332.3" stroke="#2f57ad" stroke-width="1.5"/>
<text x="308.5" y="336.6" font-size="9.5" font-weight="bold" fill="#2f57ad" stroke="#2f57ad">M1</text>
<line x1="282.4" y1="346.1" x2="299.4" y2="346.1" stroke="#7a3db0" stroke-width="1.5"/>
<text x="308.5" y="350.4" font-size="9.5" font-weight="bold" fill="#7a3db0" stroke="#7a3db0">M2</text>
<line x1="282.4" y1="360.0" x2="299.4" y2="360.0" stroke="#b89058" stroke-width="1.5"/>
<text x="308.5" y="364.3" font-size="9.5" font-weight="bold" fill="#b89058" stroke="#b89058">M3</text>
<line x1="282.4" y1="373.8" x2="299.4" y2="373.8" stroke="#85843f" stroke-width="1.5"/>
<text x="308.5" y="378.1" font-size="9.5" font-weight="bold" fill="#85843f" stroke="#85843f">M1/2</text>
<line x1="282.4" y1="387.7" x2="299.4" y2="387.7" stroke="#6f7fd0" stroke-width="1.5"/>
<text x="308.5" y="392.0" font-size="9.5" font-weight="bold" fill="#6f7fd0" stroke="#6f7fd0">M2/3</text>
<line x1="282.4" y1="401.6" x2="299.4" y2="401.6" stroke="#111111" stroke-width="1.5"/>
<text x="308.5" y="405.9" font-size="9.5" font-weight="bold" fill="#111111" stroke="#111111">M1/3</text>
<line x1="282.4" y1="415.4" x2="299.4" y2="415.4" stroke="#ee7d31" stroke-width="1.5"/>
<text x="308.5" y="419.7" font-size="9.5" font-weight="bold" fill="#ee7d31" stroke="#ee7d31">M1/2/3</text>
<text x="413.3" y="322.2" font-size="10.2" font-weight="bold" fill="#231f20" stroke="#231f20" textLength="123.4" lengthAdjust="spacingAndGlyphs">FXR<tspan font-size="6.4" dy="3.6">120</tspan><tspan dy="-3.6">-RXRα</tspan><tspan font-size="6.4" dy="3.6">98</tspan><tspan dy="-3.6">-hSHP-1</tspan></text>
<text x="627.9" y="322.2" font-size="10.6" font-weight="bold" fill="#231f20" stroke="#231f20" text-anchor="middle" textLength="41.4" lengthAdjust="spacingAndGlyphs">KD(nM)</text>
<line x1="399.5" y1="330.5" x2="679" y2="330.5" stroke="#222" stroke-width="1.3"/>
<line x1="399.5" y1="493.2" x2="679" y2="493.2" stroke="#222" stroke-width="1.3"/>
<text x="412.6" y="350.8" font-size="10.9" font-weight="bold" fill="#e8252b" stroke="#e8252b" textLength="31">SRC1</text>
<text x="443.8" y="354.7" font-size="6.2" font-weight="bold" fill="#e8252b" stroke="#e8252b" textLength="25.4" lengthAdjust="spacingAndGlyphs">630-987</text>
<text x="469.6" y="350.8" font-size="10.9" font-weight="bold" fill="#e8252b" stroke="#e8252b" textLength="24.8" lengthAdjust="spacingAndGlyphs">(WT)</text>
<text x="627.5" y="350.8" font-size="11" font-weight="bold" fill="#e8252b" stroke="#e8252b" text-anchor="middle" textLength="52.4" lengthAdjust="spacingAndGlyphs">56.8±0.84</text>
<text x="412.6" y="369.7" font-size="11" font-weight="bold" fill="#2f57ad" stroke="#2f57ad" textLength="16.5" lengthAdjust="spacingAndGlyphs">M1</text>
<text x="627.5" y="369.7" font-size="11" font-weight="bold" fill="#2f57ad" stroke="#2f57ad" text-anchor="middle" textLength="52.3" lengthAdjust="spacingAndGlyphs">56.1±0.78</text>
<text x="412.6" y="388.6" font-size="11" font-weight="bold" fill="#7a3db0" stroke="#7a3db0" textLength="16.5" lengthAdjust="spacingAndGlyphs">M2</text>
<text x="627.5" y="388.6" font-size="11" font-weight="bold" fill="#7a3db0" stroke="#7a3db0" text-anchor="middle" textLength="20.3" lengthAdjust="spacingAndGlyphs">N/D</text>
<text x="412.6" y="407.5" font-size="11" font-weight="bold" fill="#b89058" stroke="#b89058" textLength="16.5" lengthAdjust="spacingAndGlyphs">M3</text>
<text x="627.5" y="407.5" font-size="11" font-weight="bold" fill="#b89058" stroke="#b89058" text-anchor="middle" textLength="52.3" lengthAdjust="spacingAndGlyphs">100.3±1.6</text>
<text x="412.6" y="426.4" font-size="11" font-weight="bold" fill="#85843f" stroke="#85843f" textLength="26.4" lengthAdjust="spacingAndGlyphs">M1/2</text>
<text x="627.5" y="426.4" font-size="11" font-weight="bold" fill="#85843f" stroke="#85843f" text-anchor="middle" textLength="20.3" lengthAdjust="spacingAndGlyphs">N/D</text>
<text x="412.6" y="445.3" font-size="11" font-weight="bold" fill="#6f7fd0" stroke="#6f7fd0" textLength="26.4" lengthAdjust="spacingAndGlyphs">M2/3</text>
<text x="627.5" y="445.3" font-size="11" font-weight="bold" fill="#6f7fd0" stroke="#6f7fd0" text-anchor="middle" textLength="20.3" lengthAdjust="spacingAndGlyphs">N/D</text>
<text x="412.6" y="464.2" font-size="11" font-weight="bold" fill="#111111" stroke="#111111" textLength="26.4" lengthAdjust="spacingAndGlyphs">M1/3</text>
<text x="627.5" y="464.2" font-size="11" font-weight="bold" fill="#111111" stroke="#111111" text-anchor="middle" textLength="52.3" lengthAdjust="spacingAndGlyphs">182.4±2.2</text>
<text x="412.6" y="483.1" font-size="11" font-weight="bold" fill="#ee7d31" stroke="#ee7d31" textLength="36.3" lengthAdjust="spacingAndGlyphs">M1/2/3</text>
<text x="627.5" y="483.1" font-size="11" font-weight="bold" fill="#ee7d31" stroke="#ee7d31" text-anchor="middle" textLength="20.3" lengthAdjust="spacingAndGlyphs">N/D</text>
<text x="0.60" y="580.90" font-size="16.6" font-weight="bold" fill="#000" stroke="#000" textLength="11.4" lengthAdjust="spacingAndGlyphs">D</text>
<text x="15.80" y="616.40" font-size="11.3" font-weight="bold" fill="#111" stroke="#111" textLength="30.6" lengthAdjust="spacingAndGlyphs">SRC1</text>
<line x1="39.5" y1="640.3" x2="262" y2="701.5" stroke="#3d9c89" stroke-width="0.8"/>
<line x1="39.8" y1="641.2" x2="265" y2="701.5" stroke="#3d9c89" stroke-width="0.8"/>
<line x1="39.6" y1="642.2" x2="268" y2="701.5" stroke="#3d9c89" stroke-width="0.8"/>
<line x1="39.2" y1="644" x2="176" y2="701.5" stroke="#3d9c89" stroke-width="0.8"/>
<line x1="36.3" y1="646.5" x2="166" y2="823.8" stroke="#3d9c89" stroke-width="0.8"/>
<line x1="36.8" y1="646.8" x2="176" y2="823.8" stroke="#3d9c89" stroke-width="0.8"/>
<line x1="37.2" y1="647.2" x2="194" y2="823.8" stroke="#3d9c89" stroke-width="0.8"/>
<line x1="37.6" y1="647.6" x2="205.5" y2="823.8" stroke="#3d9c89" stroke-width="0.8"/>
<line x1="190.4" y1="716.5" x2="128" y2="823.8" stroke="#3d9c89" stroke-width="0.8"/>
<line x1="191" y1="716.5" x2="148" y2="823.8" stroke="#3d9c89" stroke-width="0.8"/>
<line x1="191.8" y1="716.5" x2="189" y2="823.8" stroke="#3d9c89" stroke-width="0.8"/>
<line x1="276" y1="716.5" x2="149" y2="823.8" stroke="#3d9c89" stroke-width="0.8"/>
<line x1="278" y1="716.5" x2="154.5" y2="823.8" stroke="#3d9c89" stroke-width="0.8"/>
<line x1="280" y1="716.5" x2="159" y2="823.8" stroke="#3d9c89" stroke-width="0.8"/>
<line x1="282" y1="716.5" x2="219.6" y2="823.8" stroke="#3d9c89" stroke-width="0.8"/>
<line x1="284" y1="716.5" x2="223.7" y2="823.8" stroke="#3d9c89" stroke-width="0.8"/>
<path d="M29.4,624.6 L31.2,621.7 Q32,621 33.2,621.3 A17.2,17.2 0 0 1 43.9,631 Q44,632 43.4,632.6 L40.2,634.9 Z" fill="#fff" stroke="#222" stroke-width="0.9" stroke-linejoin="round"/>
<circle cx="27.1" cy="636.9" r="12.8" fill="#fff" stroke="#222" stroke-width="0.9"/>
<path d="M192.5,702 A46.15,48.40 0 0 1 284.8,702" fill="none" stroke="#9b6cc4" stroke-width="0.9"/>
<path d="M184.0,702 A13.30,12.70 0 0 1 210.6,702" fill="none" stroke="#9b6cc4" stroke-width="0.75"/>
<path d="M192.0,702 A6.70,10.60 0 0 1 205.4,702" fill="none" stroke="#9b6cc4" stroke-width="0.75"/>
<path d="M192.0,702 A3.25,7.50 0 0 1 198.5,702" fill="none" stroke="#9b6cc4" stroke-width="0.75"/>
<path d="M198.0,702 A3.70,8.20 0 0 1 205.4,702" fill="none" stroke="#9b6cc4" stroke-width="0.75"/>
<path d="M197.0,702 A3.30,9.00 0 0 1 203.6,702" fill="none" stroke="#9b6cc4" stroke-width="0.75"/>
<path d="M265.3,702 A12.25,13.80 0 0 1 289.8,702" fill="none" stroke="#9b6cc4" stroke-width="0.75"/>
<path d="M268.2,702 A9.60,11.00 0 0 1 287.4,702" fill="none" stroke="#9b6cc4" stroke-width="0.75"/>
<path d="M275.5,702 A4.65,9.50 0 0 1 284.8,702" fill="none" stroke="#9b6cc4" stroke-width="0.75"/>
<path d="M275.5,702 A2.45,7.00 0 0 1 280.4,702" fill="none" stroke="#9b6cc4" stroke-width="0.75"/>
<path d="M280.4,702 A3.50,8.50 0 0 1 287.4,702" fill="none" stroke="#9b6cc4" stroke-width="0.75"/>
<rect x="128" y="702" width="179" height="14.2" fill="#4a71c0" stroke="#1a1a1a" stroke-width="1.2"/>
<line x1="172.6" y1="702" x2="172.6" y2="716.2" stroke="#1a1a1a" stroke-width="1.2"/>
<line x1="209.6" y1="702" x2="209.6" y2="716.2" stroke="#1a1a1a" stroke-width="1.2"/>
<line x1="224.6" y1="702" x2="224.6" y2="716.2" stroke="#1a1a1a" stroke-width="1.2"/>
<text x="180.20" y="713.90" font-size="11.2" font-weight="bold" fill="#1c1c28" stroke="#1c1c28" textLength="25.0" lengthAdjust="spacingAndGlyphs">DBD</text>
<text x="252.20" y="713.90" font-size="11.2" font-weight="bold" fill="#1c1c28" stroke="#1c1c28" textLength="24.0" lengthAdjust="spacingAndGlyphs">LBD</text>
<text x="99.00" y="700.40" font-size="11.3" font-weight="bold" fill="#111" stroke="#111" textLength="31.8" lengthAdjust="spacingAndGlyphs">RXRα</text>
<text x="128.70" y="725.60" font-size="8.6" font-weight="bold" fill="#231f20" stroke="#231f20" text-anchor="middle" textLength="5.0" lengthAdjust="spacingAndGlyphs">1</text>
<text x="172.30" y="725.60" font-size="8.6" font-weight="bold" fill="#231f20" stroke="#231f20" text-anchor="middle" textLength="15.2" lengthAdjust="spacingAndGlyphs">131</text>
<text x="209.20" y="725.60" font-size="8.6" font-weight="bold" fill="#231f20" stroke="#231f20" text-anchor="middle" textLength="15.2" lengthAdjust="spacingAndGlyphs">210</text>
<text x="227.60" y="725.60" font-size="8.6" font-weight="bold" fill="#231f20" stroke="#231f20" text-anchor="middle" textLength="15.2" lengthAdjust="spacingAndGlyphs">228</text>
<text x="305.60" y="725.60" font-size="8.6" font-weight="bold" fill="#231f20" stroke="#231f20" text-anchor="middle" textLength="15.2" lengthAdjust="spacingAndGlyphs">462</text>
<path d="M115.7,824.2 A4.15,10.40 0 0 1 124.0,824.2" fill="none" stroke="#9b6cc4" stroke-width="0.75"/>
<path d="M118.3,824.2 A3.05,8.50 0 0 1 124.4,824.2" fill="none" stroke="#9b6cc4" stroke-width="0.75"/>
<path d="M118.8,824.2 A10.05,12.60 0 0 1 138.9,824.2" fill="none" stroke="#9b6cc4" stroke-width="0.75"/>
<path d="M138.5,824.2 A5.00,10.80 0 0 1 148.5,824.2" fill="none" stroke="#9b6cc4" stroke-width="0.75"/>
<path d="M157.6,824.2 A15.20,16.00 0 0 1 188.0,824.2" fill="none" stroke="#9b6cc4" stroke-width="0.75"/>
<path d="M159.3,824.2 A14.05,15.00 0 0 1 187.4,824.2" fill="none" stroke="#9b6cc4" stroke-width="0.75"/>
<path d="M161.7,824.2 A6.65,10.70 0 0 1 175.0,824.2" fill="none" stroke="#9b6cc4" stroke-width="0.75"/>
<path d="M187.4,824.2 A7.55,10.00 0 0 1 202.5,824.2" fill="none" stroke="#9b6cc4" stroke-width="0.75"/>
<path d="M188.5,824.2 A6.45,9.00 0 0 1 201.4,824.2" fill="none" stroke="#9b6cc4" stroke-width="0.75"/>
<rect x="51.4" y="824.2" width="188.2" height="14.2" fill="#4a71c0" stroke="#1a1a1a" stroke-width="1.2"/>
<line x1="98" y1="824.2" x2="98" y2="838.4" stroke="#1a1a1a" stroke-width="1.2"/>
<line x1="133.6" y1="824.2" x2="133.6" y2="838.4" stroke="#1a1a1a" stroke-width="1.2"/>
<line x1="157.4" y1="824.2" x2="157.4" y2="838.4" stroke="#1a1a1a" stroke-width="1.2"/>
<text x="104.80" y="836.20" font-size="11.2" font-weight="bold" fill="#1c1c28" stroke="#1c1c28" textLength="24.6" lengthAdjust="spacingAndGlyphs">DBD</text>
<text x="185.80" y="836.20" font-size="11.2" font-weight="bold" fill="#1c1c28" stroke="#1c1c28" textLength="24.0" lengthAdjust="spacingAndGlyphs">LBD</text>
<text x="26.60" y="823.60" font-size="11.3" font-weight="bold" fill="#111" stroke="#111" textLength="23.6" lengthAdjust="spacingAndGlyphs">FXR</text>
<text x="51.80" y="847.00" font-size="8.6" font-weight="bold" fill="#231f20" stroke="#231f20" text-anchor="middle" textLength="5.0" lengthAdjust="spacingAndGlyphs">1</text>
<text x="98.50" y="847.00" font-size="8.6" font-weight="bold" fill="#231f20" stroke="#231f20" text-anchor="middle" textLength="15.2" lengthAdjust="spacingAndGlyphs">134</text>
<text x="134.00" y="847.00" font-size="8.6" font-weight="bold" fill="#231f20" stroke="#231f20" text-anchor="middle" textLength="15.2" lengthAdjust="spacingAndGlyphs">206</text>
<text x="157.00" y="847.00" font-size="8.6" font-weight="bold" fill="#231f20" stroke="#231f20" text-anchor="middle" textLength="15.2" lengthAdjust="spacingAndGlyphs">259</text>
<text x="239.50" y="847.00" font-size="8.6" font-weight="bold" fill="#231f20" stroke="#231f20" text-anchor="middle" textLength="15.2" lengthAdjust="spacingAndGlyphs">486</text>
<text x="351.6" y="581" font-size="16.4" font-weight="bold" fill="#000" stroke="#000" textLength="11" lengthAdjust="spacingAndGlyphs">E</text>
<rect x="401.5" y="594.5" width="4" height="295.5" rx="0.8" fill="#fff" stroke="#111" stroke-width="1"/>
<rect x="394.6" y="642" width="18.6" height="51.6" rx="3.5" fill="#cfcfcf" stroke="#2b3d66" stroke-width="1.2"/>
<text transform="translate(407.2,667.8) rotate(-90)" font-size="9.6" font-weight="bold" fill="#231f20" stroke="#231f20" text-anchor="middle" textLength="30.5" lengthAdjust="spacingAndGlyphs">LRYLL</text>
<rect x="394.6" y="741.6" width="18.6" height="50.4" rx="3.5" fill="#cfcfcf" stroke="#2b3d66" stroke-width="1.2"/>
<text transform="translate(407.2,766.8) rotate(-90)" font-size="9.6" font-weight="bold" fill="#231f20" stroke="#231f20" text-anchor="middle" textLength="30.5" lengthAdjust="spacingAndGlyphs">LHRLL</text>
<rect x="394.6" y="831.6" width="18.6" height="50.0" rx="3.5" fill="#cfcfcf" stroke="#2b3d66" stroke-width="1.2"/>
<text transform="translate(407.2,856.6) rotate(-90)" font-size="9.6" font-weight="bold" fill="#231f20" stroke="#231f20" text-anchor="middle" textLength="30.5" lengthAdjust="spacingAndGlyphs">LVQLL</text>
<rect x="335.4" y="655.6" width="58" height="24.6" fill="none" stroke="#ee2a2a" stroke-width="1.35" stroke-dasharray="2.2,1.9"/>
<text x="339.3" y="671.4" font-size="10.6" font-weight="bold" fill="#231f20" stroke="#231f20" textLength="48.4" lengthAdjust="spacingAndGlyphs">NR-box3</text>
<rect x="335.4" y="754" width="58" height="25.0" fill="none" stroke="#ee2a2a" stroke-width="1.35" stroke-dasharray="2.2,1.9"/>
<text x="339.3" y="770" font-size="10.6" font-weight="bold" fill="#231f20" stroke="#231f20" textLength="48.4" lengthAdjust="spacingAndGlyphs">NR-box2</text>
<rect x="335.4" y="843.6" width="58" height="25.0" fill="none" stroke="#ee2a2a" stroke-width="1.35" stroke-dasharray="2.2,1.9"/>
<text x="339.3" y="861.4" font-size="10.6" font-weight="bold" fill="#231f20" stroke="#231f20" textLength="48.4" lengthAdjust="spacingAndGlyphs">NR-box1</text>
<text x="392.4" y="598" font-size="8.4" font-weight="bold" fill="#222" stroke="#222" text-anchor="end">781</text>
<text x="392.4" y="647.6" font-size="8.4" font-weight="bold" fill="#222" stroke="#222" text-anchor="end">753</text>
<text x="392.4" y="694" font-size="8.4" font-weight="bold" fill="#222" stroke="#222" text-anchor="end">749</text>
<text x="392.4" y="749.6" font-size="8.4" font-weight="bold" fill="#222" stroke="#222" text-anchor="end">694</text>
<text x="392.4" y="791" font-size="8.4" font-weight="bold" fill="#222" stroke="#222" text-anchor="end">690</text>
<text x="392.4" y="837" font-size="8.4" font-weight="bold" fill="#222" stroke="#222" text-anchor="end">637</text>
<text x="392.4" y="885" font-size="8.4" font-weight="bold" fill="#222" stroke="#222" text-anchor="end">633</text>
<text x="392.4" y="895.6" font-size="8.4" font-weight="bold" fill="#222" stroke="#222" text-anchor="end">630</text>
<text x="399" y="615.4" font-size="11.5" font-weight="bold" fill="#111" stroke="#111" text-anchor="end">K772</text>
<text x="399" y="637.6" font-size="11.5" font-weight="bold" fill="#111" stroke="#111" text-anchor="end">K755</text>
<text x="399" y="705" font-size="11.5" font-weight="bold" fill="#111" stroke="#111" text-anchor="end">K744</text>
<text x="399" y="738" font-size="11.5" font-weight="bold" fill="#111" stroke="#111" text-anchor="end">K711</text>
<defs><filter id="bl" x="-20%" y="-20%" width="140%" height="140%"><feGaussianBlur stdDeviation="2"/></filter></defs>
<path d="M460.0,645.0 C461.3,641.7 464.3,629.7 468.0,625.0 C471.7,620.3 476.7,618.0 482.0,617.0 C487.3,616.0 494.3,619.2 500.0,619.0 C505.7,618.8 511.0,615.0 516.0,616.0 C521.0,617.0 526.5,617.7 530.0,625.0 C533.5,632.3 535.7,642.8 537.0,660.0 C538.3,677.2 539.3,712.3 538.0,728.0 C536.7,743.7 533.3,748.7 529.0,754.0 C524.7,759.3 517.8,759.0 512.0,760.0 C506.2,761.0 499.5,759.0 494.0,760.0 C488.5,761.0 483.3,766.7 479.0,766.0 C474.7,765.3 471.0,763.3 468.0,756.0 C465.0,748.7 462.7,733.8 461.0,722.0 C459.3,710.2 458.2,697.8 458.0,685.0 C457.8,672.2 459.7,651.7 460.0,645.0Z" fill="#d7a3d5" opacity="0.72" filter="url(#bl)"/>
<path d="M509.0,794.0 C511.2,793.5 516.8,790.3 522.0,791.0 C527.2,791.7 535.5,794.0 540.0,798.0 C544.5,802.0 548.2,809.7 549.0,815.0 C549.8,820.3 547.8,826.5 545.0,830.0 C542.2,833.5 536.7,835.5 532.0,836.0 C527.3,836.5 520.7,835.0 517.0,833.0 C513.3,831.0 511.3,830.5 510.0,824.0 C508.7,817.5 509.2,799.0 509.0,794.0Z" fill="#d7a3d5" opacity="0.6" filter="url(#bl)"/>
<path d="M558.0,670.0 C559.5,665.8 563.3,652.3 567.0,645.0 C570.7,637.7 575.5,630.5 580.0,626.0 C584.5,621.5 589.7,618.2 594.0,618.0 C598.3,617.8 602.5,620.5 606.0,625.0 C609.5,629.5 611.3,639.2 615.0,645.0 C618.7,650.8 623.8,652.5 628.0,660.0 C632.2,667.5 638.5,679.2 640.0,690.0 C641.5,700.8 639.2,716.3 637.0,725.0 C634.8,733.7 630.5,735.5 627.0,742.0 C623.5,748.5 619.5,756.3 616.0,764.0 C612.5,771.7 609.8,782.7 606.0,788.0 C602.2,793.3 597.5,794.3 593.0,796.0 C588.5,797.7 583.7,799.3 579.0,798.0 C574.3,796.7 568.7,793.0 565.0,788.0 C561.3,783.0 558.8,778.5 557.0,768.0 C555.2,757.5 553.8,741.3 554.0,725.0 C554.2,708.7 557.3,679.2 558.0,670.0Z" fill="#747bcb" opacity="0.85" filter="url(#bl)"/>
<path d="M546.0,708.0 C544.7,709.3 540.3,712.8 538.0,716.0 C535.7,719.2 533.0,725.2 532.0,727.0" fill="none" stroke="#a65c16" stroke-width="4.6" stroke-linecap="round" stroke-linejoin="round"/><path d="M546.0,708.0 C544.7,709.3 540.3,712.8 538.0,716.0 C535.7,719.2 533.0,725.2 532.0,727.0" fill="none" stroke="#e4862a" stroke-width="3.4" stroke-linecap="round" stroke-linejoin="round"/><path d="M546.0,708.0 C544.7,709.3 540.3,712.8 538.0,716.0 C535.7,719.2 533.0,725.2 532.0,727.0" fill="none" stroke="#f5b46a" stroke-width="1.0" stroke-linecap="round" transform="translate(-0.5,-0.5)"/>
<path d="M452.0,640.0 C453.0,639.3 455.7,636.5 458.0,636.0 C460.3,635.5 464.7,636.8 466.0,637.0" fill="none" stroke="#9b6e99" stroke-width="2.4" stroke-linecap="round" stroke-linejoin="round"/><path d="M452.0,640.0 C453.0,639.3 455.7,636.5 458.0,636.0 C460.3,635.5 464.7,636.8 466.0,637.0" fill="none" stroke="#dca3da" stroke-width="1.5" stroke-linecap="round" stroke-linejoin="round"/>
<path d="M448.1,640.2 L448.2,641.5 L448.6,642.2 L449.4,642.7 L450.5,643.2 L451.8,643.6 L453.3,644.1 L454.9,644.7 L456.6,645.2 L458.3,645.8 L459.9,646.5 L461.3,647.2 L462.6,647.9 L463.7,648.5 L464.4,649.1 L464.9,649.4 L465.0,649.4 L465.1,647.6 L465.1,645.0 L464.7,642.7 L464.1,640.8 L463.1,639.0 L461.9,637.5 L460.4,636.2 L458.9,635.2 L457.2,634.4 L455.5,634.0 L453.9,633.8 L452.3,633.9 L451.0,634.2 L449.9,634.8 L449.0,635.7 L448.4,636.9 L448.1,638.8Z M447.2,656.5 L447.4,657.6 L447.9,658.2 L448.7,658.7 L449.8,659.2 L451.1,659.6 L452.7,660.1 L454.3,660.7 L456.0,661.2 L457.6,661.9 L459.2,662.5 L460.7,663.2 L461.9,663.9 L462.9,664.5 L463.6,665.1 L464.0,665.4 L464.1,665.8 L464.2,663.4 L464.3,661.3 L464.0,658.9 L463.3,656.9 L462.4,655.1 L461.2,653.6 L459.8,652.3 L458.2,651.2 L456.5,650.5 L454.9,650.0 L453.2,649.7 L451.7,649.8 L450.3,650.1 L449.1,650.7 L448.2,651.5 L447.6,652.6 L447.3,654.3Z M446.3,672.6 L446.6,673.6 L447.1,674.2 L448.0,674.7 L449.1,675.2 L450.5,675.6 L452.0,676.1 L453.6,676.7 L455.3,677.2 L457.0,677.9 L458.6,678.5 L460.0,679.2 L461.2,679.9 L462.2,680.5 L462.8,681.0 L463.2,681.3 L463.2,682.2 L463.4,679.3 L463.4,677.5 L463.2,675.2 L462.6,673.1 L461.7,671.3 L460.5,669.7 L459.1,668.4 L457.6,667.3 L455.9,666.5 L454.2,665.9 L452.6,665.7 L451.0,665.7 L449.6,666.0 L448.4,666.5 L447.5,667.3 L446.8,668.4 L446.5,670.0Z M445.5,688.7 L445.7,689.6 L446.3,690.2 L447.3,690.7 L448.4,691.2 L449.8,691.6 L451.4,692.1 L453.0,692.7 L454.7,693.3 L455.3,682.5 L453.6,681.9 L451.9,681.6 L450.3,681.6 L448.9,681.9 L447.7,682.4 L446.7,683.1 L446.0,684.2 L445.7,685.7Z" fill="#b283b0" stroke="#9b6e99" stroke-width="0.6" stroke-linejoin="round"/>
<path d="M456.5,645.6 L454.8,645.8 L453.1,645.8 L451.6,645.6 L450.3,645.1 L449.3,644.3 L448.5,643.4 L448.1,642.1 L448.1,640.2 L448.1,638.8 L448.4,637.6 L448.9,636.9 L449.7,636.5 L450.8,636.2 L452.2,635.8 L453.7,635.5 L455.3,635.2 L457.1,634.8Z M465.0,649.4 L464.6,652.3 L464.0,654.4 L463.1,656.3 L461.9,657.9 L460.4,659.2 L458.8,660.2 L457.2,661.0 L455.4,661.6 L453.7,661.8 L452.1,661.8 L450.6,661.5 L449.3,660.9 L448.3,660.2 L447.6,659.2 L447.2,657.9 L447.2,656.5 L447.3,654.3 L447.5,653.6 L447.9,652.9 L448.7,652.5 L449.8,652.1 L451.1,651.8 L452.6,651.5 L454.3,651.2 L456.0,650.8 L457.7,650.3 L459.4,649.9 L461.0,649.4 L462.3,648.8 L463.5,648.3 L464.3,647.8 L464.9,647.4 L465.1,647.6Z M464.1,665.8 L463.7,668.5 L463.0,670.6 L462.1,672.4 L460.8,674.0 L459.4,675.3 L457.8,676.3 L456.1,677.1 L454.3,677.5 L452.6,677.7 L451.0,677.7 L449.6,677.3 L448.3,676.8 L447.4,676.0 L446.7,674.9 L446.4,673.6 L446.3,672.6 L446.5,670.0 L446.6,669.7 L447.0,668.9 L447.8,668.5 L448.8,668.1 L450.1,667.8 L451.6,667.5 L453.2,667.1 L454.9,666.8 L456.7,666.3 L458.3,665.9 L459.9,665.4 L461.3,664.8 L462.5,664.3 L463.4,663.8 L464.0,663.4 L464.2,663.4Z M463.2,682.2 L462.8,684.7 L462.1,686.8 L461.1,688.6 L459.8,690.1 L458.3,691.4 L456.7,692.3 L455.0,693.1 L453.3,693.5 L451.6,693.7 L450.0,693.6 L448.6,693.2 L447.3,692.6 L446.4,691.8 L445.8,690.7 L445.5,689.3 L445.5,688.7 L445.7,685.7 L445.7,685.7 L446.1,685.0 L446.8,684.5 L447.8,684.1 L449.1,683.8 L450.5,683.5 L452.1,683.1 L453.8,682.7 L455.6,682.3 L457.3,681.9 L458.9,681.4 L460.3,680.8 L461.5,680.3 L462.5,679.8 L463.1,679.4 L463.4,679.3Z" fill="#dca3da" stroke="#9b6e99" stroke-width="0.7" stroke-linejoin="round"/>
<path d="M456.7,641.1 L455.0,641.4 L453.4,641.5 L451.9,641.4 L450.5,641.2 L449.5,640.7 L448.7,640.2 L448.3,639.5 L448.2,638.5 L448.2,638.0 L448.4,637.7 L448.8,637.6 L449.7,637.6 L450.7,637.6 L452.1,637.5 L453.6,637.4 L455.2,637.1 L457.0,636.8Z M465.1,647.7 L464.8,649.6 L464.2,651.2 L463.3,652.6 L462.1,653.9 L460.7,655.0 L459.1,655.9 L457.4,656.6 L455.7,657.1 L453.9,657.4 L452.3,657.4 L450.8,657.3 L449.5,657.1 L448.5,656.6 L447.8,656.1 L447.4,655.3 L447.3,654.6 L447.3,653.7 L447.5,653.6 L447.9,653.6 L448.7,653.6 L449.7,653.5 L451.0,653.5 L452.5,653.3 L454.2,653.1 L455.9,652.8 L457.6,652.3 L459.3,651.8 L460.9,651.1 L462.3,650.3 L463.4,649.4 L464.3,648.5 L464.9,647.6 L465.1,646.9Z M464.2,663.9 L463.9,665.7 L463.2,667.3 L462.3,668.7 L461.0,670.0 L459.6,671.1 L458.0,671.9 L456.3,672.6 L454.6,673.1 L452.9,673.3 L451.3,673.4 L449.8,673.2 L448.5,672.9 L447.6,672.5 L446.9,671.9 L446.5,671.2 L446.4,670.6 L446.5,669.5 L446.6,669.6 L447.0,669.5 L447.7,669.5 L448.7,669.5 L450.0,669.4 L451.5,669.3 L453.1,669.1 L454.8,668.8 L456.5,668.3 L458.2,667.8 L459.8,667.1 L461.2,666.3 L462.4,665.5 L463.4,664.6 L464.0,663.7 L464.3,662.9Z M463.3,680.1 L463.0,681.9 L462.3,683.4 L461.3,684.8 L460.0,686.1 L458.6,687.1 L457.0,688.0 L455.2,688.6 L453.5,689.0 L451.8,689.3 L450.2,689.3 L448.8,689.2 L447.6,688.8 L446.6,688.4 L445.9,687.8 L445.6,687.0 L445.6,686.6 L445.7,685.3 L445.7,685.6 L446.1,685.5 L446.8,685.4 L447.7,685.4 L449.0,685.4 L450.4,685.3 L452.0,685.0 L453.7,684.7 L455.5,684.3 L457.2,683.8 L458.8,683.1 L460.2,682.4 L461.4,681.5 L462.4,680.6 L463.1,679.7 L463.4,678.9Z" fill="#fbe4fa" transform="translate(1.74,0.09)" opacity="0.85"/>
<path d="M446.9,688.1 L447.7,688.2 L448.7,687.9 L449.8,687.5 L451.2,686.8 L452.6,686.1 L454.2,685.3 L455.8,684.6 L457.4,683.9 L459.0,683.4 L460.3,683.1 L461.4,682.8 L462.2,682.8 L462.4,682.6 L463.8,684.3 L461.1,681.3 L460.9,680.8 L458.9,679.1 L457.1,677.9 L455.2,677.2 L453.2,676.9 L451.3,677.0 L449.5,677.3 L447.8,678.0 L446.3,678.9 L445.1,680.0 L444.3,681.1 L443.8,682.3 L443.7,683.6 L444.1,684.8Z M456.1,698.6 L456.9,698.9 L457.8,698.8 L458.9,698.3 L460.2,697.7 L461.6,697.0 L463.2,696.3 L464.8,695.5 L466.4,694.9 L468.0,694.3 L469.4,693.9 L470.5,693.6 L471.4,693.5 L471.9,693.4 L472.7,694.4 L470.6,692.0 L469.7,690.9 L467.8,689.4 L465.9,688.4 L464.0,687.8 L462.1,687.6 L460.2,687.8 L458.4,688.2 L456.7,689.0 L455.4,689.9 L454.3,691.0 L453.5,692.2 L453.1,693.4 L453.2,694.7 L453.7,695.9Z M465.3,709.1 L466.1,709.6 L467.0,709.6 L462.5,704.5 L462.7,705.8 L463.5,707.1Z" fill="#b283b0" stroke="#9b6e99" stroke-width="0.6" stroke-linejoin="round"/>
<path d="M454.7,685.5 L453.6,686.8 L452.5,687.9 L451.2,688.7 L449.9,689.1 L448.7,689.1 L447.5,688.6 L446.1,687.4 L446.9,688.1 L444.1,684.8 L445.0,686.2 L444.4,685.1 L444.5,684.3 L444.9,683.4 L445.5,682.3 L446.4,681.0 L447.3,679.6 L448.2,678.1Z M463.8,684.3 L464.9,686.3 L465.5,688.3 L465.8,690.3 L465.6,692.2 L465.2,694.0 L464.4,695.7 L463.4,697.2 L462.3,698.4 L461.0,699.2 L459.7,699.7 L458.5,699.8 L457.3,699.5 L456.1,698.6 L456.1,698.6 L453.7,695.9 L454.2,696.5 L453.8,695.6 L454.0,694.8 L454.5,693.8 L455.2,692.6 L456.1,691.3 L457.0,689.9 L458.0,688.4 L458.9,686.9 L459.7,685.4 L460.3,684.0 L460.7,682.8 L461.0,681.9 L461.1,681.3Z M472.7,694.4 L474.0,696.4 L474.8,698.4 L475.2,700.4 L475.2,702.4 L474.8,704.2 L474.1,706.0 L473.2,707.5 L472.1,708.8 L470.8,709.7 L469.6,710.3 L468.3,710.6 L467.1,710.4 L465.9,709.7 L465.3,709.1 L463.5,707.1 L463.4,706.9 L463.3,706.1 L463.6,705.2 L464.1,704.2 L464.9,703.0 L465.8,701.6 L466.7,700.2 L467.7,698.7 L468.6,697.2 L469.3,695.7 L469.9,694.4 L470.3,693.2 L470.5,692.4 L470.6,692.0Z" fill="#dca3da" stroke="#9b6e99" stroke-width="0.7" stroke-linejoin="round"/>
<path d="M452.0,682.4 L451.0,683.9 L449.9,685.0 L448.8,685.9 L447.7,686.5 L446.7,686.8 L445.8,686.7 L445.1,686.2 L445.3,686.3 L444.2,685.0 L444.6,685.7 L444.6,685.4 L445.0,684.9 L445.7,684.3 L446.5,683.4 L447.5,682.3 L448.5,681.0 L449.5,679.5Z M462.2,682.6 L463.0,684.1 L463.4,685.8 L463.4,687.6 L463.1,689.3 L462.5,691.1 L461.7,692.7 L460.8,694.2 L459.7,695.4 L458.5,696.4 L457.4,697.1 L456.4,697.5 L455.5,697.5 L454.8,697.2 L454.7,697.0 L453.7,695.9 L454.0,696.3 L454.1,696.0 L454.6,695.5 L455.3,694.7 L456.2,693.8 L457.2,692.6 L458.2,691.3 L459.2,689.8 L460.0,688.2 L460.7,686.6 L461.2,685.1 L461.5,683.6 L461.4,682.4 L461.2,681.4Z M471.4,692.8 L472.2,694.4 L472.7,696.0 L472.9,697.8 L472.7,699.5 L472.2,701.3 L471.4,702.9 L470.5,704.5 L469.4,705.8 L468.3,706.9 L467.2,707.7 L466.1,708.1 L465.2,708.3 L464.4,708.0 L464.0,707.7 L463.3,706.9 L463.4,706.9 L463.7,706.6 L464.3,706.0 L465.0,705.2 L465.9,704.2 L466.9,702.9 L467.9,701.5 L468.9,700.0 L469.7,698.4 L470.3,696.9 L470.7,695.3 L470.9,694.0 L470.8,692.8 L470.5,691.9Z" fill="#fbe4fa" transform="translate(1.16,-1.02)" opacity="0.85"/>
<path d="M459.2,656.1 L459.9,657.1 L460.6,657.4 L461.6,657.5 L462.8,657.4 L464.2,657.1 L465.8,656.9 L467.5,656.6 L469.3,656.3 L471.1,656.1 L472.8,655.9 L474.4,655.8 L475.8,655.8 L477.0,655.9 L477.8,656.1 L478.3,656.2 L478.7,656.9 L477.5,654.3 L476.7,652.7 L475.3,650.7 L473.8,649.2 L472.2,648.0 L470.4,647.2 L468.5,646.6 L466.6,646.4 L464.7,646.5 L463.0,646.8 L461.4,647.4 L460.1,648.2 L459.0,649.1 L458.2,650.2 L457.8,651.3 L457.8,652.6 L458.4,654.4Z M466.2,671.2 L466.9,671.8 L467.8,671.9 L468.8,671.9 L470.2,671.7 L471.7,671.5 L473.3,671.2 L475.1,670.9 L476.8,670.6 L478.6,670.4 L480.3,670.3 L481.8,670.3 L483.1,670.4 L484.1,670.5 L484.8,670.6 L485.0,670.5 L485.9,672.6 L484.1,668.8 L484.1,668.4 L482.7,666.0 L481.3,664.3 L479.7,663.0 L477.9,662.0 L476.1,661.3 L474.2,661.0 L472.3,660.9 L470.5,661.1 L468.8,661.6 L467.4,662.3 L466.2,663.1 L465.2,664.1 L464.7,665.3 L464.5,666.5 L464.7,667.9Z" fill="#b283b0" stroke="#9b6e99" stroke-width="0.6" stroke-linejoin="round"/>
<path d="M469.0,656.7 L467.6,657.7 L466.2,658.5 L464.7,659.0 L463.3,659.1 L462.0,659.0 L460.9,658.4 L460.0,657.5 L459.2,656.1 L458.4,654.4 L458.1,653.5 L458.3,652.7 L458.8,651.9 L459.6,651.1 L460.6,650.2 L461.8,649.2 L463.1,648.1 L464.5,646.9Z M478.7,656.9 L479.5,659.4 L479.9,661.6 L479.8,663.6 L479.4,665.6 L478.7,667.4 L477.7,669.1 L476.5,670.5 L475.1,671.7 L473.7,672.6 L472.2,673.2 L470.8,673.6 L469.4,673.6 L468.2,673.2 L467.2,672.5 L466.3,671.3 L466.2,671.2 L464.7,667.9 L464.9,668.4 L464.9,667.5 L465.2,666.7 L465.9,665.9 L466.8,665.1 L468.0,664.1 L469.2,663.1 L470.6,661.9 L471.9,660.7 L473.2,659.5 L474.4,658.3 L475.5,657.1 L476.3,656.1 L476.9,655.2 L477.3,654.5 L477.5,654.3Z M485.9,672.6 L486.5,674.9 L486.6,677.0 L486.4,679.0 L485.8,680.9 L484.9,682.7 L480.6,673.3 L481.7,672.2 L482.7,671.0 L483.4,670.1 L483.8,669.3 L484.1,668.8Z" fill="#dca3da" stroke="#9b6e99" stroke-width="0.7" stroke-linejoin="round"/>
<path d="M467.1,652.6 L465.8,653.7 L464.3,654.6 L463.0,655.2 L461.7,655.6 L460.5,655.7 L459.6,655.6 L458.9,655.2 L458.4,654.5 L458.1,653.8 L458.1,653.6 L458.5,653.3 L459.2,652.9 L460.2,652.4 L461.3,651.7 L462.6,650.8 L464.0,649.8 L465.3,648.7Z M477.8,655.0 L478.3,656.8 L478.4,658.5 L478.2,660.2 L477.7,661.9 L476.9,663.6 L475.8,665.1 L474.6,666.4 L473.2,667.6 L471.8,668.6 L470.4,669.4 L469.1,669.9 L467.8,670.2 L466.8,670.2 L466.0,669.9 L465.3,669.3 L465.3,669.1 L464.7,667.8 L464.8,668.2 L465.0,667.9 L465.6,667.6 L466.4,667.1 L467.5,666.5 L468.7,665.7 L470.0,664.8 L471.4,663.7 L472.8,662.5 L474.0,661.3 L475.2,659.9 L476.1,658.6 L476.8,657.2 L477.3,656.0 L477.4,654.9 L477.3,654.0Z M484.8,670.3 L485.2,672.1 L485.1,673.8 L484.7,675.5 L484.1,677.2 L483.1,678.7 L481.4,675.0 L482.4,673.7 L483.2,672.3 L483.8,671.0 L484.1,669.8 L484.1,668.8Z" fill="#fbe4fa" transform="translate(1.58,-0.73)" opacity="0.85"/>
<path d="M466.4,610.2 L466.5,611.1 L467.0,611.8 L467.8,612.5 L468.8,613.2 L470.0,614.0 L471.3,614.8 L472.7,615.7 L474.2,616.7 L475.8,617.7 L477.2,618.7 L478.6,619.8 L479.8,620.8 L480.9,621.8 L481.8,622.7 L482.5,623.5 L482.9,624.1 L483.2,624.3 L482.9,625.4 L483.9,622.3 L484.3,620.7 L484.8,618.3 L484.8,616.1 L484.6,614.0 L484.0,612.1 L483.2,610.3 L482.1,608.7 L480.8,607.2 L479.4,606.0 L477.9,604.9 L476.4,604.1 L474.8,603.6 L473.3,603.3 L471.9,603.3 L470.6,603.5 L469.4,604.0 L468.5,604.9 L467.7,606.0Z M461.1,626.7 L460.9,628.1 L461.1,628.9 L461.6,629.6 L462.4,630.3 L463.5,631.0 L464.7,631.8 L466.1,632.7 L467.5,633.6 L469.1,634.6 L470.6,635.6 L472.0,636.6 L473.4,637.7 L474.6,638.7 L475.6,639.6 L476.5,640.5 L477.1,641.3 L477.5,641.8 L477.7,641.9 L477.1,643.6 L478.3,639.8 L478.6,639.0 L479.2,636.4 L479.3,634.2 L479.1,632.1 L478.6,630.1 L477.8,628.3 L476.8,626.6 L475.6,625.2 L474.2,623.9 L472.8,622.8 L471.2,621.9 L469.6,621.3 L468.1,621.0 L466.7,620.9 L465.3,621.1 L464.1,621.5 L463.2,622.3 L462.3,623.4 L461.6,625.3Z" fill="#b283b0" stroke="#9b6e99" stroke-width="0.6" stroke-linejoin="round"/>
<path d="M474.7,617.5 L472.9,617.4 L471.3,617.0 L469.8,616.4 L468.5,615.7 L467.5,614.8 L466.7,613.8 L466.3,612.6 L466.2,611.3 L466.5,609.5 L466.4,610.2 L467.7,606.0 L467.2,607.3 L467.8,606.3 L468.4,605.8 L469.3,605.5 L470.4,605.4 L471.7,605.4 L473.2,605.5 L474.9,605.6 L476.6,605.7 L478.4,605.7Z M482.9,625.4 L481.9,627.7 L480.7,629.6 L479.3,631.2 L477.8,632.5 L476.1,633.6 L474.3,634.3 L472.4,634.8 L470.6,635.1 L468.7,635.1 L467.0,634.9 L465.4,634.5 L463.9,633.9 L462.7,633.1 L461.7,632.2 L461.1,631.2 L460.7,630.0 L460.7,628.6 L461.1,626.7 L461.6,625.3 L462.1,624.0 L462.7,623.5 L463.6,623.2 L464.6,623.1 L465.9,623.1 L467.3,623.1 L468.9,623.2 L470.7,623.3 L472.4,623.3 L474.3,623.4 L476.0,623.4 L477.8,623.3 L479.3,623.1 L480.8,622.9 L482.0,622.7 L482.9,622.4 L483.6,622.2 L483.9,622.3Z M477.1,643.6 L476.1,645.8 L474.8,647.7 L473.4,649.2 L471.8,650.4 L470.1,651.4 L468.3,652.1 L466.5,652.6 L464.6,652.8 L468.3,641.0 L470.1,641.0 L471.8,640.9 L473.5,640.8 L474.9,640.6 L476.2,640.4 L477.2,640.1 L477.9,639.9 L478.3,639.8Z" fill="#dca3da" stroke="#9b6e99" stroke-width="0.7" stroke-linejoin="round"/>
<path d="M476.2,612.6 L474.5,612.5 L472.8,612.2 L471.3,611.8 L469.9,611.2 L468.8,610.6 L467.9,609.9 L467.4,609.2 L467.1,608.4 L467.2,607.5 L467.2,607.6 L467.7,605.9 L467.4,606.6 L467.7,606.4 L468.2,606.5 L469.0,606.6 L470.0,606.9 L471.2,607.2 L472.6,607.4 L474.2,607.6 L475.9,607.8 L477.7,607.9Z M483.6,623.1 L482.8,624.7 L481.8,626.1 L480.5,627.3 L479.1,628.3 L477.5,629.1 L475.8,629.6 L473.9,630.0 L472.1,630.2 L470.3,630.2 L468.5,630.1 L466.9,629.7 L465.4,629.3 L464.1,628.7 L463.0,628.1 L462.2,627.4 L461.7,626.7 L461.5,625.9 L461.7,624.9 L461.9,624.3 L462.1,624.0 L462.5,624.1 L463.2,624.2 L464.2,624.5 L465.4,624.7 L466.7,625.0 L468.3,625.2 L470.0,625.4 L471.8,625.5 L473.6,625.5 L475.4,625.4 L477.1,625.2 L478.8,624.9 L480.3,624.5 L481.6,623.9 L482.7,623.2 L483.5,622.5 L484.0,621.8Z M477.9,641.1 L477.1,642.7 L476.0,644.0 L474.7,645.2 L473.2,646.1 L471.6,646.8 L469.8,647.4 L468.0,647.7 L466.1,647.9 L467.6,643.2 L469.4,643.1 L471.2,642.9 L472.9,642.6 L474.4,642.2 L475.8,641.7 L476.9,641.0 L477.8,640.3 L478.4,639.6Z" fill="#fbe4fa" transform="translate(1.95,0.61)" opacity="0.85"/>
<path d="M480.8,638.7 L481.6,638.9 L482.4,638.8 L483.4,638.4 L484.6,637.8 L485.9,637.1 L487.3,636.3 L488.8,635.4 L490.4,634.5 L492.0,633.7 L493.6,632.9 L495.1,632.3 L496.4,631.8 L497.6,631.5 L498.5,631.3 L499.0,631.2 L499.0,631.0 L497.9,629.9 L495.8,628.0 L493.9,626.7 L491.9,625.9 L489.9,625.4 L488.0,625.2 L486.0,625.4 L484.2,625.8 L482.4,626.5 L480.9,627.4 L479.5,628.5 L478.4,629.6 L477.6,630.9 L477.2,632.1 L477.0,633.4 L477.3,634.6 L478.0,635.9Z M492.4,650.4 L493.2,650.8 L494.1,650.7 L495.0,650.4 L496.2,649.9 L497.4,649.2 L498.8,648.4 L500.3,647.5 L501.9,646.6 L503.5,645.8 L505.0,645.0 L506.6,644.4 L507.9,643.8 L509.2,643.5 L510.1,643.3 L505.2,638.3 L503.3,637.6 L501.3,637.2 L499.3,637.1 L497.4,637.4 L495.6,637.9 L493.9,638.6 L492.4,639.6 L491.1,640.6 L490.1,641.8 L489.4,643.1 L489.0,644.4 L488.9,645.6 L489.3,646.8 L490.1,648.1Z" fill="#b283b0" stroke="#9b6e99" stroke-width="0.6" stroke-linejoin="round"/>
<path d="M490.1,635.1 L489.2,636.6 L488.0,637.8 L486.8,638.8 L485.6,639.5 L484.3,639.9 L483.1,639.9 L481.9,639.5 L480.5,638.5 L480.8,638.7 L478.0,635.9 L478.6,636.5 L478.1,635.7 L478.1,634.8 L478.3,633.9 L478.9,632.8 L479.6,631.5 L480.4,630.2 L481.2,628.7 L482.1,627.1Z M499.0,631.0 L501.0,633.2 L502.2,635.2 L503.0,637.1 L503.5,639.1 L503.6,641.1 L503.4,643.0 L502.9,644.9 L502.2,646.6 L501.3,648.1 L500.2,649.4 L499.0,650.5 L497.8,651.2 L496.5,651.7 L495.3,651.8 L494.1,651.5 L492.8,650.7 L492.4,650.4 L490.1,648.1 L490.2,648.2 L489.9,647.3 L490.0,646.5 L490.3,645.5 L490.9,644.4 L491.6,643.1 L492.5,641.7 L493.3,640.1 L494.2,638.6 L495.1,637.0 L495.8,635.4 L496.4,633.9 L496.9,632.5 L497.3,631.4 L497.5,630.4 L497.6,629.8 L497.9,629.9Z" fill="#dca3da" stroke="#9b6e99" stroke-width="0.7" stroke-linejoin="round"/>
<path d="M486.8,631.8 L485.9,633.3 L484.8,634.6 L483.7,635.7 L482.7,636.6 L481.6,637.2 L480.7,637.4 L479.8,637.4 L479.0,637.0 L479.0,636.9 L477.9,635.8 L478.2,636.2 L478.3,635.9 L478.6,635.4 L479.2,634.8 L480.0,633.9 L480.8,632.8 L481.7,631.5 L482.7,630.1 L483.6,628.6Z M497.8,629.8 L499.0,631.3 L499.9,632.8 L500.4,634.5 L500.6,636.2 L500.5,638.0 L500.2,639.8 L499.6,641.6 L498.9,643.2 L498.0,644.8 L497.0,646.2 L495.9,647.3 L494.8,648.3 L493.8,648.9 L492.8,649.3 L491.9,649.3 L491.1,649.0 L490.8,648.8 L489.9,647.9 L490.1,648.0 L490.2,647.7 L490.7,647.2 L491.3,646.4 L492.1,645.5 L492.9,644.4 L493.9,643.1 L494.8,641.6 L495.7,640.1 L496.5,638.4 L497.2,636.8 L497.7,635.1 L498.0,633.6 L498.1,632.2 L498.0,630.9 L497.7,629.9 L497.3,629.3Z" fill="#fbe4fa" transform="translate(1.30,-1.30)" opacity="0.85"/>
<path d="M480.2,661.9 L480.8,661.2 L481.5,659.9 L482.4,658.2 L483.6,656.3 L484.9,654.5 L486.2,653.1 L487.4,652.1 L488.1,651.7 L490.1,652.7 L486.9,651.5 L486.0,651.0 L483.4,650.6 L481.1,651.2 L479.1,652.4 L477.5,654.1 L476.5,656.0 L476.1,657.9 L476.3,659.6 L477.3,660.8Z M488.8,664.8 L489.4,663.9 L490.2,662.5 L491.2,660.7 L492.4,658.8 L493.8,657.1 L495.1,655.8 L496.2,655.0 L496.7,654.8 L495.3,654.3 L492.6,653.7 L490.2,654.0 L488.1,655.0 L486.4,656.6 L485.2,658.5 L484.6,660.4 L484.6,662.2 L485.4,663.6Z M496.8,668.0 L497.4,667.7 L498.1,666.6 L498.9,665.0 L500.0,663.1 L501.3,661.3 L502.7,659.7 L497.2,657.7 L495.3,659.1 L494.0,660.9 L493.2,662.9 L493.0,664.8 L493.5,666.3 L494.8,667.3Z" fill="#b283b0" stroke="#9b6e99" stroke-width="0.6" stroke-linejoin="round"/>
<path d="M484.9,657.2 L484.4,659.3 L483.4,660.9 L482.1,661.9 L480.5,662.1 L480.2,661.9 L477.3,660.8 L478.0,661.2 L477.9,660.4 L478.1,659.0 L478.5,657.1 L478.8,654.9Z M490.1,652.7 L491.9,654.3 L493.0,656.4 L493.4,658.7 L493.3,660.9 L492.6,662.9 L491.5,664.4 L490.1,665.1 L488.3,665.0 L488.8,664.8 L485.4,663.6 L486.7,664.4 L486.3,663.7 L486.5,662.6 L486.8,660.8 L487.2,658.7 L487.5,656.5 L487.5,654.4 L487.3,652.6 L486.9,651.5Z M496.7,654.8 L499.2,656.2 L500.8,658.0 L501.7,660.2 L501.9,662.5 L501.6,664.7 L500.7,666.5 L499.5,667.8 L498.1,668.3 L496.8,668.0 L494.8,667.3 L494.8,667.1 L494.8,666.1 L495.2,664.5 L495.6,662.5 L495.9,660.3 L496.0,658.1 L495.8,656.2 L495.5,654.8 L495.3,654.3Z" fill="#dca3da" stroke="#9b6e99" stroke-width="0.7" stroke-linejoin="round"/>
<path d="M482.5,656.3 L482.0,658.4 L481.2,660.1 L480.2,661.2 L479.1,661.6 L478.6,661.3 L477.5,660.9 L478.1,661.2 L478.5,660.6 L479.1,659.3 L479.6,657.5 L480.0,655.4Z M488.5,652.1 L489.8,653.6 L490.7,655.5 L491.0,657.8 L490.8,660.0 L490.2,662.0 L489.3,663.6 L488.3,664.5 L487.2,664.6 L487.1,664.2 L485.7,663.7 L486.5,664.3 L486.8,663.9 L487.3,662.9 L487.9,661.2 L488.4,659.1 L488.6,656.9 L488.5,654.7 L488.0,652.9 L487.2,651.6Z M495.6,654.4 L497.4,655.6 L498.6,657.2 L499.3,659.3 L499.4,661.6 L499.1,663.8 L498.4,665.7 L497.5,667.0 L496.4,667.7 L495.5,667.6 L494.8,667.3 L495.1,667.2 L495.6,666.3 L496.2,664.9 L496.7,662.9 L497.0,660.7 L497.0,658.5 L496.6,656.5 L495.9,655.0 L495.1,654.3Z" fill="#fbe4fa" transform="translate(0.42,-1.17)" opacity="0.85"/>
<path d="M497.0,613.0 C498.0,614.2 501.2,617.5 503.0,620.0 C504.8,622.5 506.8,624.7 508.0,628.0 C509.2,631.3 510.5,637.0 510.0,640.0 C509.5,643.0 506.7,646.0 505.0,646.0 C503.3,646.0 500.8,641.0 500.0,640.0" fill="none" stroke="#9b6e99" stroke-width="2.3" stroke-linecap="round" stroke-linejoin="round"/><path d="M497.0,613.0 C498.0,614.2 501.2,617.5 503.0,620.0 C504.8,622.5 506.8,624.7 508.0,628.0 C509.2,631.3 510.5,637.0 510.0,640.0 C509.5,643.0 506.7,646.0 505.0,646.0 C503.3,646.0 500.8,641.0 500.0,640.0" fill="none" stroke="#dca3da" stroke-width="1.4" stroke-linecap="round" stroke-linejoin="round"/>
<path d="M482.0,608.0 C482.7,607.5 484.8,604.5 486.0,605.0 C487.2,605.5 488.5,610.0 489.0,611.0" fill="none" stroke="#9b6e99" stroke-width="2.3" stroke-linecap="round" stroke-linejoin="round"/><path d="M482.0,608.0 C482.7,607.5 484.8,604.5 486.0,605.0 C487.2,605.5 488.5,610.0 489.0,611.0" fill="none" stroke="#dca3da" stroke-width="1.4" stroke-linecap="round" stroke-linejoin="round"/>
<path d="M509.8,619.5 L510.4,620.1 L511.2,620.5 L512.2,620.7 L513.4,620.9 L514.7,621.0 L516.3,621.0 L518.0,621.1 L519.7,621.1 L521.6,621.2 L523.4,621.3 L525.2,621.5 L526.9,621.7 L528.5,622.0 L529.9,622.3 L531.2,622.6 L532.2,622.9 L532.9,623.2 L533.4,623.4 L533.4,622.7 L534.0,626.0 L532.9,621.1 L533.2,621.8 L532.3,618.5 L531.4,616.3 L530.3,614.5 L528.9,612.9 L527.5,611.5 L525.8,610.4 L524.1,609.5 L522.3,608.8 L520.4,608.4 L518.6,608.1 L516.8,608.2 L515.1,608.4 L513.5,608.8 L512.1,609.4 L510.9,610.1 L509.9,611.0 L509.2,612.0 L508.8,613.2 L508.7,614.6Z M514.3,639.2 L514.9,639.8 L515.6,640.2 L516.6,640.4 L517.8,640.5 L519.2,640.6 L520.8,640.7 L522.5,640.7 L524.2,640.8 L526.0,640.9 L527.9,641.0 L529.7,641.2 L531.4,641.4 L533.0,641.6 L534.4,641.9 L535.7,642.3 L536.7,642.6 L537.4,642.9 L537.9,643.1 L537.9,642.4 L538.5,645.7 L537.4,640.8 L537.7,641.4 L536.8,638.2 L535.9,636.0 L534.7,634.1 L533.4,632.5 L531.9,631.2 L530.3,630.0 L528.6,629.1 L526.8,628.4 L524.9,628.0 L523.1,627.8 L521.3,627.8 L519.6,628.0 L518.0,628.4 L516.6,629.0 L515.4,629.8 L514.4,630.7 L513.7,631.7 L513.3,632.9 L513.2,634.3Z M518.8,658.8 L519.3,659.4 L520.1,659.8 L521.1,660.0 L522.3,660.2 L523.7,660.3 L525.3,660.3 L526.9,660.4 L528.7,660.4 L530.5,660.5 L532.3,660.6 L534.1,660.8 L535.9,661.0 L537.4,661.3 L538.9,661.6 L540.1,661.9 L541.2,662.3 L541.9,662.6 L542.4,662.7 L542.4,662.0 L543.0,665.3 L541.9,660.4 L542.1,661.1 L541.3,657.9 L540.3,655.7 L539.2,653.8 L537.9,652.2 L536.4,650.8 L534.8,649.7 L533.1,648.8 L531.2,648.1 L529.4,647.7 L527.5,647.5 L525.7,647.5 L524.0,647.7 L522.5,648.1 L521.1,648.7 L519.9,649.4 L518.9,650.3 L518.2,651.3 L517.8,652.5 L517.7,653.9Z" fill="#b283b0" stroke="#9b6e99" stroke-width="0.6" stroke-linejoin="round"/>
<path d="M521.7,621.7 L520.0,622.5 L518.4,623.0 L516.8,623.3 L515.3,623.4 L513.9,623.2 L512.6,622.9 L511.6,622.2 L510.7,621.3 L510.0,620.1 L509.3,617.8 L509.8,619.5 L508.7,614.6 L509.1,617.0 L508.9,615.2 L509.1,614.4 L509.6,613.8 L510.4,613.1 L511.4,612.5 L512.7,611.8 L514.0,611.1 L515.5,610.3 L517.1,609.5 L518.7,608.6Z M534.0,626.0 L534.1,628.4 L533.9,630.6 L533.4,632.6 L532.7,634.5 L531.7,636.2 L530.5,637.8 L529.2,639.1 L527.7,640.3 L526.1,641.3 L524.5,642.1 L522.9,642.7 L521.3,643.0 L519.8,643.1 L518.4,642.9 L517.1,642.5 L516.0,641.9 L515.1,641.0 L514.4,639.8 L513.8,637.5 L514.3,639.2 L513.2,634.3 L513.6,636.6 L513.3,634.9 L513.6,634.1 L514.1,633.4 L514.9,632.8 L515.9,632.1 L517.1,631.4 L518.5,630.7 L520.0,630.0 L521.6,629.1 L523.2,628.3 L524.8,627.4 L526.3,626.4 L527.8,625.5 L529.1,624.6 L530.2,623.7 L531.2,622.8 L532.0,622.1 L532.5,621.5 L532.9,621.1Z M538.5,645.7 L538.6,648.1 L538.4,650.2 L537.9,652.2 L537.2,654.1 L536.2,655.8 L535.0,657.4 L533.7,658.8 L532.2,660.0 L530.6,661.0 L529.0,661.8 L527.4,662.3 L525.8,662.6 L524.3,662.7 L522.9,662.6 L521.6,662.2 L520.5,661.5 L519.6,660.7 L518.9,659.4 L518.3,657.2 L518.8,658.8 L517.7,653.9 L518.1,656.3 L517.8,654.6 L518.1,653.8 L518.6,653.1 L519.4,652.4 L520.4,651.8 L521.6,651.1 L523.0,650.4 L524.5,649.6 L526.1,648.8 L527.7,647.9 L529.2,647.0 L530.8,646.1 L532.2,645.2 L533.6,644.2 L534.7,643.3 L535.7,642.5 L536.5,641.8 L537.0,641.2 L537.4,640.8Z M543.0,665.3 L543.1,667.7 L542.9,669.9 L542.4,671.9 L541.7,673.8 L540.7,675.5 L538.0,663.9 L539.2,663.0 L540.2,662.2 L541.0,661.4 L541.5,660.8 L541.9,660.4Z" fill="#dca3da" stroke="#9b6e99" stroke-width="0.7" stroke-linejoin="round"/>
<path d="M520.4,616.2 L518.8,617.0 L517.2,617.7 L515.6,618.1 L514.2,618.4 L512.8,618.5 L511.6,618.4 L510.6,618.2 L509.8,617.7 L509.3,617.1 L508.9,616.1 L509.1,616.5 L508.7,614.6 L508.8,615.7 L508.8,615.2 L509.2,615.0 L509.9,614.8 L510.7,614.5 L511.8,614.2 L513.1,613.7 L514.5,613.2 L516.0,612.6 L517.6,611.8 L519.2,611.0Z M533.3,623.0 L533.3,624.8 L533.0,626.5 L532.4,628.1 L531.6,629.7 L530.6,631.2 L529.4,632.6 L528.0,633.8 L526.5,634.9 L524.9,635.9 L523.3,636.7 L521.7,637.3 L520.1,637.8 L518.6,638.0 L517.3,638.1 L516.1,638.1 L515.1,637.8 L514.3,637.4 L513.8,636.8 L513.4,635.7 L513.6,636.2 L513.2,634.2 L513.3,635.4 L513.3,634.8 L513.7,634.6 L514.3,634.4 L515.2,634.2 L516.3,633.8 L517.6,633.4 L519.0,632.9 L520.5,632.2 L522.1,631.5 L523.7,630.7 L525.3,629.7 L526.8,628.7 L528.2,627.7 L529.5,626.5 L530.6,625.4 L531.5,624.2 L532.2,623.1 L532.7,622.0 L532.9,621.1Z M537.8,642.7 L537.8,644.5 L537.5,646.2 L536.9,647.8 L536.1,649.4 L535.1,650.8 L533.8,652.2 L532.5,653.5 L531.0,654.6 L529.4,655.5 L527.8,656.3 L526.2,657.0 L524.6,657.4 L523.1,657.7 L521.8,657.8 L520.6,657.7 L519.6,657.5 L518.8,657.1 L518.2,656.5 L517.9,655.4 L518.1,655.8 L517.7,653.9 L517.8,655.0 L517.8,654.5 L518.2,654.3 L518.8,654.1 L519.7,653.8 L520.8,653.5 L522.1,653.1 L523.5,652.5 L525.0,651.9 L526.6,651.2 L528.2,650.3 L529.8,649.4 L531.3,648.4 L532.7,647.3 L534.0,646.2 L535.1,645.1 L536.0,643.9 L536.7,642.8 L537.2,641.7 L537.4,640.7Z M542.3,662.3 L542.3,664.1 L542.0,665.8 L541.4,667.5 L540.6,669.0 L539.6,670.5 L538.5,665.9 L539.6,664.7 L540.5,663.6 L541.2,662.4 L541.6,661.4 L541.8,660.4Z" fill="#fbe4fa" transform="translate(2.18,-0.50)" opacity="0.85"/>
<path d="M521.5,673.3 L521.9,674.3 L522.5,674.8 L523.4,675.1 L524.6,675.3 L525.9,675.5 L527.4,675.6 L529.1,675.7 L530.9,675.9 L532.7,676.0 L534.5,676.3 L536.2,676.5 L537.7,676.8 L539.1,677.2 L540.3,677.6 L541.3,678.0 L541.9,678.3 L542.1,678.2 L542.4,680.1 L541.7,676.2 L541.6,675.4 L540.9,672.9 L539.9,670.8 L538.8,669.1 L537.4,667.7 L535.8,666.5 L534.1,665.5 L532.3,664.8 L530.5,664.4 L528.7,664.3 L527.0,664.3 L525.4,664.6 L524.0,665.2 L522.8,665.9 L521.9,666.8 L521.2,667.8 L520.9,669.1 L521.0,670.8Z M524.7,690.4 L525.1,691.6 L525.7,692.1 L526.6,692.4 L527.7,692.7 L529.0,692.8 L530.5,692.9 L532.2,693.0 L533.9,693.2 L535.7,693.4 L537.5,693.6 L539.2,693.8 L540.8,694.2 L542.3,694.5 L543.5,694.9 L544.4,695.3 L545.1,695.6 L545.3,695.6 L545.6,697.2 L544.9,693.5 L544.8,692.5 L544.0,690.0 L543.1,688.0 L541.9,686.3 L540.5,684.9 L538.9,683.7 L537.2,682.8 L535.4,682.1 L533.6,681.7 L531.8,681.6 L530.1,681.7 L528.5,682.0 L527.1,682.5 L525.9,683.3 L525.0,684.2 L524.4,685.3 L524.2,686.6 L524.3,688.4Z M527.9,707.5 L528.3,708.8 L528.9,709.4 L529.7,709.8 L530.8,710.0 L532.1,710.1 L533.6,710.3 L535.3,710.4 L537.0,710.5 L534.9,698.9 L533.2,699.1 L531.6,699.4 L530.2,699.9 L529.1,700.7 L528.2,701.6 L527.6,702.7 L527.4,704.0 L527.6,706.0Z" fill="#b283b0" stroke="#9b6e99" stroke-width="0.6" stroke-linejoin="round"/>
<path d="M531.9,676.4 L530.3,677.0 L528.7,677.5 L527.1,677.6 L525.7,677.5 L524.4,677.2 L523.3,676.6 L522.4,675.7 L521.8,674.4 L521.5,673.3 L521.0,670.8 L521.0,670.3 L521.3,669.4 L521.8,668.8 L522.7,668.2 L523.8,667.6 L525.1,666.9 L526.6,666.3 L528.2,665.5 L529.8,664.7Z M542.4,680.1 L542.5,682.5 L542.2,684.7 L541.6,686.7 L540.8,688.5 L539.7,690.1 L538.3,691.5 L536.9,692.7 L535.3,693.6 L533.7,694.3 L532.0,694.8 L530.5,695.0 L529.0,694.9 L527.7,694.6 L526.6,694.0 L525.7,693.1 L525.1,691.9 L524.7,690.4 L524.3,688.4 L524.3,687.5 L524.5,686.7 L525.1,686.1 L526.0,685.5 L527.2,684.9 L528.5,684.2 L529.9,683.5 L531.5,682.8 L533.1,682.0 L534.7,681.2 L536.3,680.3 L537.7,679.4 L538.9,678.6 L540.0,677.8 L540.8,677.0 L541.4,676.5 L541.7,676.2Z M545.6,697.2 L545.7,699.7 L545.5,701.8 L544.9,703.8 L544.1,705.6 L543.0,707.3 L541.7,708.7 L540.2,709.9 L538.7,710.9 L537.0,711.6 L535.4,712.1 L533.8,712.3 L532.4,712.3 L531.0,712.0 L529.9,711.4 L529.0,710.5 L528.3,709.4 L527.9,707.5 L527.6,706.0 L527.5,704.8 L527.8,704.0 L528.4,703.4 L529.3,702.8 L530.5,702.2 L531.8,701.5 L533.3,700.8 L534.9,700.1 L536.5,699.3 L538.1,698.4 L539.6,697.6 L541.0,696.7 L542.3,695.8 L543.3,695.0 L544.1,694.3 L544.6,693.8 L544.9,693.5Z" fill="#dca3da" stroke="#9b6e99" stroke-width="0.7" stroke-linejoin="round"/>
<path d="M531.0,671.5 L529.4,672.2 L527.8,672.8 L526.3,673.1 L524.9,673.2 L523.6,673.2 L522.6,672.9 L521.8,672.5 L521.3,671.8 L521.1,671.2 L520.9,670.2 L521.0,670.2 L521.4,670.0 L522.0,669.8 L523.0,669.6 L524.1,669.2 L525.5,668.8 L527.0,668.3 L528.5,667.6 L530.2,666.9Z M541.9,677.6 L541.9,679.4 L541.5,681.0 L540.9,682.6 L540.0,684.1 L538.8,685.5 L537.5,686.8 L536.0,687.9 L534.4,688.8 L532.8,689.5 L531.2,690.1 L529.6,690.4 L528.2,690.6 L527.0,690.5 L525.9,690.3 L525.1,689.9 L524.6,689.2 L524.3,688.5 L524.2,687.7 L524.2,687.5 L524.6,687.3 L525.3,687.1 L526.3,686.9 L527.5,686.5 L528.8,686.1 L530.3,685.6 L531.9,684.9 L533.5,684.1 L535.1,683.3 L536.6,682.3 L538.0,681.3 L539.2,680.2 L540.2,679.1 L541.0,678.0 L541.5,676.9 L541.7,676.0Z M545.2,694.8 L545.2,696.6 L544.8,698.2 L544.2,699.9 L543.3,701.4 L542.2,702.8 L540.8,704.0 L539.3,705.1 L537.8,706.1 L536.1,706.8 L534.5,707.4 L533.0,707.7 L531.6,707.9 L530.3,707.9 L529.2,707.6 L528.4,707.2 L527.8,706.6 L527.5,705.7 L527.4,705.1 L527.5,704.8 L527.9,704.6 L528.6,704.4 L529.6,704.2 L530.8,703.8 L532.2,703.4 L533.7,702.9 L535.3,702.2 L536.9,701.4 L538.5,700.5 L540.0,699.6 L541.4,698.5 L542.6,697.4 L543.5,696.3 L544.3,695.2 L544.7,694.2 L544.9,693.3Z" fill="#fbe4fa" transform="translate(1.91,-0.35)" opacity="0.85"/>
<path d="M474.3,709.5 L475.2,709.7 L476.0,709.3 L476.9,708.7 L477.9,707.8 L479.0,706.7 L480.2,705.5 L481.5,704.3 L482.8,703.2 L484.1,702.2 L485.2,701.4 L486.2,700.9 L486.9,700.6 L487.0,700.3 L489.0,701.7 L485.5,699.6 L485.4,699.4 L483.0,698.2 L480.9,697.7 L478.8,697.6 L476.9,698.0 L475.2,698.6 L473.6,699.6 L472.3,700.8 L471.3,702.1 L470.6,703.5 L470.3,704.8 L470.4,706.1 L470.9,707.2 L472.0,708.2Z M486.0,716.4 L486.9,716.5 L487.7,716.1 L488.6,715.4 L489.6,714.4 L490.8,713.3 L492.0,712.1 L493.3,710.9 L494.6,709.8 L495.9,708.9 L497.0,708.1 L497.9,707.6 L498.6,707.4 L498.6,707.2 L497.3,706.4 L494.9,705.2 L492.8,704.6 L490.8,704.4 L488.8,704.7 L487.0,705.3 L485.4,706.3 L484.1,707.4 L483.0,708.7 L482.3,710.1 L481.9,711.4 L481.9,712.7 L482.4,713.8 L483.4,714.8Z" fill="#b283b0" stroke="#9b6e99" stroke-width="0.6" stroke-linejoin="round"/>
<path d="M481.0,705.1 L480.4,706.7 L479.6,708.1 L478.7,709.2 L477.6,709.9 L476.4,710.1 L475.1,709.9 L474.3,709.5 L472.0,708.2 L471.9,708.0 L471.5,707.2 L471.6,706.3 L471.8,705.1 L472.2,703.7 L472.6,702.1 L473.1,700.4Z M489.0,701.7 L490.6,703.3 L491.8,705.0 L492.5,706.8 L492.8,708.7 L492.8,710.5 L492.5,712.3 L491.9,713.8 L491.1,715.2 L490.1,716.2 L488.9,716.8 L487.7,716.9 L486.4,716.6 L486.0,716.4 L483.4,714.8 L483.6,715.0 L483.1,714.2 L483.1,713.3 L483.3,712.2 L483.7,710.8 L484.1,709.2 L484.6,707.6 L485.0,705.9 L485.3,704.2 L485.5,702.7 L485.6,701.3 L485.6,700.3 L485.5,699.6Z M498.6,707.2 L500.9,708.8 L502.4,710.4 L503.5,712.1 L504.2,714.0 L497.0,709.8 L497.1,708.4 L497.1,707.3 L497.1,706.5 L497.3,706.4Z" fill="#dca3da" stroke="#9b6e99" stroke-width="0.7" stroke-linejoin="round"/>
<path d="M477.7,703.2 L477.2,704.8 L476.5,706.3 L475.7,707.4 L474.9,708.3 L474.0,708.7 L473.2,708.8 L472.7,708.6 L471.8,708.1 L471.9,708.0 L472.1,707.6 L472.5,706.8 L473.0,705.8 L473.5,704.5 L474.1,703.0 L474.5,701.3Z M487.1,700.5 L488.2,701.8 L489.0,703.3 L489.5,705.0 L489.7,706.8 L489.6,708.6 L489.2,710.3 L488.7,711.9 L487.9,713.3 L487.1,714.4 L486.3,715.2 L485.5,715.6 L484.6,715.6 L484.3,715.4 L483.3,714.8 L483.5,714.9 L483.6,714.5 L484.0,713.8 L484.4,712.8 L485.0,711.6 L485.5,710.1 L486.0,708.5 L486.4,706.7 L486.7,705.0 L486.7,703.4 L486.5,701.9 L486.2,700.6 L485.7,699.7Z M497.3,706.4 L498.9,707.6 L500.0,708.9 L500.7,710.5 L501.1,712.2 L498.3,710.5 L498.2,709.0 L497.8,707.7 L497.3,706.7 L496.8,706.1Z" fill="#fbe4fa" transform="translate(0.73,-1.24)" opacity="0.85"/>
<path d="M497.5,709.5 L498.4,709.7 L499.2,709.5 L500.2,708.9 L501.3,708.0 L502.5,707.0 L503.8,706.0 L505.3,704.9 L506.7,703.9 L508.0,703.1 L509.3,702.4 L510.3,702.0 L511.0,701.8 L510.8,701.4 L513.1,703.3 L509.6,700.8 L509.9,700.8 L507.4,699.2 L505.3,698.4 L503.3,698.1 L501.4,698.2 L499.5,698.7 L497.8,699.5 L496.4,700.5 L495.2,701.8 L494.4,703.1 L494.0,704.4 L493.9,705.6 L494.3,706.8 L495.3,707.9Z M508.7,717.6 L509.5,717.6 L510.4,717.2 L511.4,716.5 L512.5,715.6 L513.8,714.6 L515.2,713.5 L516.6,712.5 L518.0,711.5 L519.3,710.7 L520.5,710.2 L521.4,709.8 L522.0,709.6 L522.6,710.0 L520.5,708.5 L519.0,707.5 L516.9,706.5 L514.8,706.1 L512.8,706.1 L511.0,706.4 L509.2,707.1 L507.7,708.1 L506.4,709.3 L505.5,710.5 L504.9,711.9 L504.8,713.1 L505.0,714.3 L505.8,715.5Z" fill="#b283b0" stroke="#9b6e99" stroke-width="0.6" stroke-linejoin="round"/>
<path d="M504.6,705.8 L503.9,707.3 L502.9,708.6 L501.9,709.6 L500.7,710.2 L499.5,710.3 L498.2,709.9 L497.5,709.5 L495.3,707.9 L495.2,707.8 L495.0,707.0 L495.1,706.1 L495.4,704.9 L495.9,703.5 L496.5,702.0 L497.1,700.4Z M513.1,703.3 L514.5,705.0 L515.4,706.9 L515.9,708.8 L516.0,710.7 L515.8,712.5 L515.2,714.2 L514.5,715.7 L513.5,716.9 L512.4,717.7 L511.2,718.2 L509.9,718.1 L508.6,717.6 L508.7,717.6 L505.8,715.5 L506.3,715.9 L505.9,715.2 L505.9,714.3 L506.2,713.2 L506.6,711.9 L507.2,710.4 L507.8,708.8 L508.4,707.1 L508.9,705.5 L509.2,703.9 L509.5,702.6 L509.6,701.5 L509.6,700.8Z M522.6,710.0 L524.5,711.8 L525.7,713.5 L526.5,715.4 L526.8,717.3 L526.8,719.2 L526.5,721.0 L525.9,722.6 L518.5,717.2 L519.1,715.6 L519.6,713.9 L520.0,712.3 L520.3,710.9 L520.4,709.7 L520.4,708.8 L520.5,708.5Z" fill="#dca3da" stroke="#9b6e99" stroke-width="0.7" stroke-linejoin="round"/>
<path d="M501.5,703.5 L500.8,705.1 L500.0,706.5 L499.1,707.6 L498.2,708.3 L497.3,708.7 L496.5,708.7 L496.0,708.4 L495.1,707.8 L495.3,707.8 L495.5,707.4 L495.9,706.7 L496.5,705.7 L497.2,704.4 L497.9,703.0 L498.5,701.4Z M511.2,701.9 L512.2,703.4 L512.8,705.0 L513.1,706.7 L513.0,708.5 L512.7,710.3 L512.2,712.0 L511.4,713.5 L510.6,714.8 L509.7,715.8 L508.7,716.4 L507.9,716.6 L507.1,716.5 L507.0,716.3 L505.8,715.5 L506.2,715.8 L506.2,715.5 L506.6,714.8 L507.2,713.9 L507.8,712.8 L508.5,711.4 L509.2,709.8 L509.8,708.1 L510.2,706.4 L510.4,704.8 L510.4,703.2 L510.2,701.9 L509.8,700.9Z M521.2,709.0 L522.4,710.3 L523.3,711.8 L523.8,713.4 L524.0,715.2 L523.8,717.0 L523.4,718.7 L522.8,720.4 L519.9,718.2 L520.5,716.6 L520.9,714.9 L521.2,713.2 L521.3,711.6 L521.2,710.2 L520.8,709.1 L520.3,708.3Z" fill="#fbe4fa" transform="translate(0.85,-1.16)" opacity="0.85"/>
<path d="M513.3,726.3 L514.1,726.2 L514.9,725.7 L515.9,725.0 L517.1,724.0 L518.3,722.9 L519.7,721.8 L521.0,720.7 L522.4,719.7 L523.8,718.8 L525.0,718.1 L526.0,717.6 L526.7,717.3 L526.9,717.1 L528.7,718.5 L525.3,716.2 L525.0,715.9 L522.7,714.6 L520.6,713.9 L518.6,713.7 L516.6,713.9 L514.7,714.4 L513.1,715.3 L511.6,716.3 L510.4,717.6 L509.5,718.9 L509.0,720.2 L508.8,721.5 L509.0,722.8 L509.7,723.9Z M524.8,734.2 L525.7,734.3 L526.5,733.9 L527.5,733.2 L528.6,732.3 L529.8,731.3 L531.1,730.1 L532.5,729.0 L533.9,728.0 L535.2,727.0 L536.5,726.3 L537.6,725.7 L538.4,725.4 L538.8,725.2 L539.9,726.0 L537.2,724.2 L536.1,723.4 L533.9,722.4 L531.8,721.9 L529.8,721.8 L527.9,722.0 L526.1,722.7 L524.4,723.6 L523.0,724.7 L521.9,725.9 L521.1,727.3 L520.7,728.6 L520.6,729.9 L521.0,731.1 L521.8,732.2Z M536.4,742.1 L537.3,742.3 L538.1,742.1 L539.0,741.5 L532.4,737.0 L532.5,738.3 L532.9,739.4 L534.0,740.5Z" fill="#b283b0" stroke="#9b6e99" stroke-width="0.6" stroke-linejoin="round"/>
<path d="M520.1,721.8 L519.5,723.4 L518.6,724.8 L517.6,725.8 L516.4,726.5 L515.2,726.8 L513.9,726.7 L512.3,725.8 L513.3,726.3 L509.7,723.9 L511.0,724.9 L510.1,724.1 L510.0,723.3 L510.1,722.3 L510.5,721.0 L511.0,719.6 L511.5,718.0 L512.1,716.4Z M528.7,718.5 L530.2,720.1 L531.4,721.9 L532.1,723.8 L532.4,725.7 L532.4,727.6 L532.1,729.4 L531.5,731.0 L530.7,732.5 L529.7,733.6 L528.6,734.4 L527.4,734.8 L526.1,734.8 L524.7,734.2 L524.8,734.2 L521.8,732.2 L522.4,732.7 L521.9,731.9 L521.8,731.0 L522.0,730.0 L522.4,728.7 L522.9,727.2 L523.5,725.6 L524.0,723.9 L524.5,722.2 L524.9,720.6 L525.2,719.1 L525.3,717.8 L525.3,716.8 L525.3,716.2Z M539.9,726.0 L541.7,727.7 L542.9,729.4 L543.7,731.3 L544.2,733.2 L544.3,735.1 L544.0,736.9 L543.5,738.6 L542.7,740.1 L541.8,741.3 L540.7,742.2 L539.5,742.8 L538.3,742.9 L537.0,742.5 L536.4,742.1 L534.0,740.5 L534.0,740.5 L533.6,739.7 L533.7,738.8 L533.9,737.7 L534.4,736.3 L534.9,734.8 L535.4,733.2 L536.0,731.5 L536.5,729.8 L536.8,728.2 L537.1,726.7 L537.2,725.5 L537.2,724.6 L537.2,724.2Z" fill="#dca3da" stroke="#9b6e99" stroke-width="0.7" stroke-linejoin="round"/>
<path d="M516.8,719.6 L516.2,721.2 L515.4,722.6 L514.5,723.8 L513.6,724.6 L512.7,725.1 L511.9,725.3 L511.0,724.9 L511.3,724.9 L509.8,724.0 L510.5,724.6 L510.4,724.2 L510.6,723.7 L511.1,722.9 L511.7,721.9 L512.3,720.5 L513.0,719.0 L513.6,717.4Z M526.7,717.2 L527.9,718.5 L528.6,720.0 L529.1,721.7 L529.3,723.5 L529.1,725.3 L528.8,727.1 L528.2,728.8 L527.4,730.3 L526.6,731.5 L525.7,732.5 L524.8,733.1 L523.9,733.3 L523.1,733.1 L523.0,733.0 L521.8,732.2 L522.2,732.5 L522.2,732.1 L522.6,731.6 L523.1,730.7 L523.7,729.5 L524.3,728.2 L525.0,726.6 L525.5,724.9 L526.0,723.2 L526.3,721.5 L526.3,719.9 L526.2,718.4 L525.9,717.2 L525.4,716.3Z M538.2,724.8 L539.4,726.1 L540.3,727.6 L540.8,729.3 L541.1,731.0 L541.0,732.9 L540.7,734.7 L540.2,736.4 L539.5,737.9 L538.6,739.2 L537.7,740.2 L536.8,740.9 L536.0,741.3 L535.1,741.2 L534.7,741.0 L533.8,740.4 L534.0,740.4 L534.1,740.0 L534.5,739.4 L535.0,738.4 L535.7,737.2 L536.3,735.8 L536.9,734.2 L537.5,732.5 L537.9,730.7 L538.1,729.0 L538.1,727.5 L538.0,726.1 L537.6,724.9 L537.1,724.1Z" fill="#fbe4fa" transform="translate(0.86,-1.27)" opacity="0.85"/>
<path d="M478.1,727.1 L478.9,727.1 L479.8,726.6 L480.8,725.9 L482.0,724.9 L483.2,723.8 L484.6,722.8 L486.0,721.7 L487.3,720.9 L488.5,720.2 L489.5,719.7 L490.2,719.5 L490.4,719.5 L489.0,718.5 L486.9,717.2 L484.8,716.5 L482.8,716.2 L480.9,716.4 L479.1,716.9 L477.5,717.8 L476.1,718.9 L475.1,720.2 L474.5,721.5 L474.2,722.8 L474.4,724.0 L475.1,725.0Z M488.3,734.3 L489.1,734.3 L490.0,733.9 L491.0,733.2 L492.1,732.3 L493.3,731.2 L494.7,730.2 L496.1,729.1 L497.4,728.2 L498.7,727.5 L499.7,727.0 L500.4,726.7 L500.5,726.5 L502.5,728.1 L499.1,725.8 L499.2,725.6 L496.8,724.2 L494.8,723.6 L492.8,723.4 L490.9,723.6 L489.1,724.3 L487.5,725.2 L486.3,726.3 L485.3,727.6 L484.7,728.9 L484.6,730.2 L484.9,731.4 L485.7,732.4Z" fill="#b283b0" stroke="#9b6e99" stroke-width="0.6" stroke-linejoin="round"/>
<path d="M484.3,723.4 L483.6,724.9 L482.7,726.2 L481.6,727.1 L480.5,727.6 L479.3,727.6 L477.9,727.1 L478.1,727.1 L475.1,725.0 L475.8,725.6 L475.3,724.9 L475.3,724.0 L475.6,722.9 L476.0,721.5 L476.6,720.0 L477.1,718.4Z M490.4,719.5 L492.5,721.2 L493.8,722.9 L494.6,724.7 L495.0,726.6 L495.1,728.5 L494.7,730.3 L494.1,731.8 L493.2,733.2 L492.2,734.1 L491.0,734.7 L489.8,734.8 L488.5,734.4 L488.3,734.3 L485.7,732.4 L486.0,732.7 L485.6,731.9 L485.7,731.0 L486.0,729.8 L486.5,728.5 L487.0,726.9 L487.6,725.3 L488.1,723.6 L488.5,722.0 L488.7,720.6 L488.8,719.5 L488.8,718.7 L489.0,718.5Z M502.5,728.1 L503.9,729.8 L504.8,731.6 L505.3,733.5 L505.4,735.3 L505.2,737.1 L504.6,738.8 L503.7,740.1 L502.7,741.2 L501.6,741.8 L500.4,742.1 L499.1,741.7 L496.2,739.7 L496.0,739.0 L496.1,738.0 L496.4,736.8 L496.9,735.4 L497.5,733.8 L498.0,732.2 L498.5,730.5 L498.9,729.0 L499.1,727.6 L499.1,726.5 L499.1,725.8Z" fill="#dca3da" stroke="#9b6e99" stroke-width="0.7" stroke-linejoin="round"/>
<path d="M481.3,721.3 L480.7,722.9 L479.9,724.2 L479.0,725.3 L478.1,725.9 L477.3,726.2 L476.5,726.1 L476.4,725.9 L475.2,725.1 L475.6,725.5 L475.7,725.1 L476.1,724.5 L476.6,723.6 L477.2,722.4 L477.9,720.9 L478.5,719.3Z M489.2,718.6 L490.6,719.9 L491.5,721.3 L492.0,722.9 L492.3,724.7 L492.2,726.5 L491.8,728.2 L491.2,729.8 L490.4,731.2 L489.5,732.3 L488.6,733.0 L487.8,733.4 L487.0,733.3 L486.7,733.2 L485.7,732.4 L485.9,732.6 L486.1,732.2 L486.5,731.6 L487.1,730.6 L487.7,729.3 L488.3,727.8 L488.9,726.2 L489.4,724.5 L489.6,722.9 L489.7,721.3 L489.5,719.9 L489.1,718.9 L488.6,718.2Z M500.7,726.9 L501.7,728.2 L502.3,729.8 L502.6,731.6 L502.5,733.3 L502.2,735.1 L501.6,736.7 L500.9,738.2 L500.0,739.3 L499.1,740.1 L498.3,740.6 L497.5,740.6 L496.3,739.8 L496.5,739.3 L496.9,738.6 L497.5,737.6 L498.2,736.3 L498.8,734.8 L499.4,733.1 L499.8,731.4 L500.0,729.8 L500.0,728.2 L499.8,726.9 L499.3,725.9Z" fill="#fbe4fa" transform="translate(0.77,-1.10)" opacity="0.85"/>
<ellipse cx="498" cy="690.4" rx="14" ry="12" fill="none" stroke="#76507a" stroke-width="3.6"/>
<ellipse cx="498" cy="690.4" rx="14" ry="12" fill="none" stroke="#c594c3" stroke-width="2.4"/>
<ellipse cx="498" cy="689.9" rx="14" ry="12" fill="none" stroke="#e6c3e4" stroke-width="0.7" stroke-dasharray="21.0,56.0"/>
<ellipse cx="498" cy="688.8" rx="14" ry="12" fill="none" stroke="#76507a" stroke-width="3.6"/>
<ellipse cx="498" cy="688.8" rx="14" ry="12" fill="none" stroke="#c594c3" stroke-width="2.4"/>
<ellipse cx="498" cy="688.3" rx="14" ry="12" fill="none" stroke="#e6c3e4" stroke-width="0.7" stroke-dasharray="21.0,56.0"/>
<ellipse cx="498" cy="687.2" rx="14" ry="12" fill="none" stroke="#76507a" stroke-width="3.6"/>
<ellipse cx="498" cy="687.2" rx="14" ry="12" fill="none" stroke="#c594c3" stroke-width="2.4"/>
<ellipse cx="498" cy="686.7" rx="14" ry="12" fill="none" stroke="#e6c3e4" stroke-width="0.7" stroke-dasharray="21.0,56.0"/>
<ellipse cx="498" cy="685.6" rx="14" ry="12" fill="none" stroke="#76507a" stroke-width="3.6"/>
<ellipse cx="498" cy="685.6" rx="14" ry="12" fill="none" stroke="#c594c3" stroke-width="2.4"/>
<ellipse cx="498" cy="685.1" rx="14" ry="12" fill="none" stroke="#e6c3e4" stroke-width="0.7" stroke-dasharray="21.0,56.0"/>
<ellipse cx="498" cy="684.0" rx="14" ry="12" fill="none" stroke="#76507a" stroke-width="3.6"/>
<ellipse cx="498" cy="684.0" rx="14" ry="12" fill="none" stroke="#c594c3" stroke-width="2.4"/>
<ellipse cx="498" cy="683.5" rx="14" ry="12" fill="none" stroke="#e6c3e4" stroke-width="0.7" stroke-dasharray="21.0,56.0"/>
<path d="M448.2,726.8 L448.9,727.5 L449.7,727.7 L450.8,727.7 L452.1,727.7 L453.6,727.5 L455.3,727.3 L457.1,727.2 L458.8,727.1 L460.6,727.0 L462.2,727.0 L463.6,727.2 L464.7,727.3 L465.6,727.5 L466.0,727.6 L466.5,728.8 L465.3,725.8 L464.8,724.4 L463.6,722.3 L462.2,720.7 L460.6,719.4 L458.9,718.5 L457.1,717.9 L455.2,717.6 L453.4,717.6 L451.7,717.8 L450.2,718.4 L448.9,719.1 L447.8,720.0 L447.2,721.1 L446.9,722.3 L447.1,723.8Z M453.6,740.9 L454.2,741.6 L455.0,741.8 L456.1,741.9 L457.4,741.8 L458.9,741.6 L460.6,741.5 L462.4,741.3 L464.1,741.2 L465.9,741.1 L467.5,741.2 L468.9,741.3 L470.1,741.5 L470.9,741.7 L471.4,741.8 L471.8,742.7 L470.7,739.9 L470.1,738.4 L468.9,736.3 L467.5,734.7 L465.9,733.5 L464.2,732.6 L462.4,732.0 L460.5,731.7 L458.7,731.7 L457.0,732.0 L455.5,732.5 L454.2,733.3 L453.2,734.2 L452.5,735.3 L452.3,736.5 L452.5,738.0Z M459.0,755.0 L459.6,755.7 L460.4,755.9 L461.4,756.0 L462.7,755.9 L464.2,755.8 L465.9,755.6 L467.6,755.4 L469.4,755.3 L471.2,755.3 L472.8,755.3 L474.2,755.4 L475.4,755.6 L476.3,755.8 L476.8,755.9 L477.1,756.7 L476.1,754.0 L475.4,752.4 L474.2,750.4 L472.8,748.8 L471.2,747.5 L469.5,746.6 L467.7,746.1 L465.8,745.8 L464.0,745.8 L462.3,746.2 L460.8,746.7 L459.5,747.5 L458.5,748.4 L457.9,749.5 L457.7,750.7 L457.9,752.2Z M464.3,769.0 L464.9,769.8 L465.7,770.1 L466.7,770.1 L468.0,770.1 L469.5,769.9 L471.2,769.7 L472.9,769.6 L474.7,769.5 L476.4,769.4 L478.1,769.4 L479.5,769.5 L480.7,769.7 L481.6,769.9 L482.1,770.0 L482.5,770.7 L481.5,768.2 L480.7,766.4 L479.5,764.4 L478.1,762.8 L476.5,761.6 L474.8,760.7 L472.9,760.2 L471.1,759.9 L469.3,760.0 L467.6,760.3 L466.1,760.9 L464.8,761.6 L463.9,762.6 L463.3,763.7 L463.0,764.9 L463.3,766.4Z M469.7,783.1 L470.3,783.9 L471.0,784.2 L472.1,784.3 L473.3,784.2 L474.8,784.1 L476.5,783.9 L472.9,774.5 L471.4,775.0 L470.1,775.8 L469.2,776.8 L468.6,777.9 L468.4,779.1 L468.7,780.7Z" fill="#b283b0" stroke="#9b6e99" stroke-width="0.6" stroke-linejoin="round"/>
<path d="M457.2,727.5 L455.8,728.4 L454.3,729.1 L452.8,729.4 L451.4,729.4 L450.2,729.0 L449.2,728.3 L448.4,727.2 L448.2,726.8 L447.1,723.8 L447.2,724.0 L447.2,723.2 L447.7,722.4 L448.5,721.7 L449.6,720.8 L450.8,719.9 L452.2,719.0 L453.6,717.9Z M466.5,728.8 L467.0,731.2 L467.1,733.3 L466.8,735.3 L466.2,737.2 L465.2,738.9 L464.0,740.3 L462.7,741.6 L461.2,742.5 L459.7,743.2 L458.3,743.5 L456.9,743.5 L455.7,743.2 L454.7,742.5 L453.8,741.4 L453.6,740.9 L452.5,738.0 L452.6,738.1 L452.6,737.2 L453.1,736.5 L453.9,735.7 L455.0,734.9 L456.2,734.0 L457.6,733.0 L459.0,732.0 L460.4,730.9 L461.7,729.8 L462.9,728.7 L463.9,727.6 L464.6,726.8 L465.1,726.1 L465.3,725.8Z M471.8,742.7 L472.4,745.2 L472.5,747.3 L472.2,749.4 L471.6,751.2 L470.7,752.9 L469.5,754.4 L468.2,755.6 L466.7,756.6 L465.2,757.3 L463.7,757.6 L462.4,757.7 L461.1,757.4 L460.1,756.7 L459.2,755.6 L459.0,755.0 L457.9,752.2 L457.9,752.2 L458.0,751.3 L458.5,750.6 L459.4,749.8 L460.4,749.0 L461.7,748.1 L463.1,747.1 L464.5,746.0 L465.9,744.9 L467.2,743.8 L468.3,742.7 L469.3,741.7 L470.0,740.8 L470.5,740.2 L470.7,739.9Z M477.1,756.7 L477.7,759.2 L477.9,761.4 L477.6,763.4 L477.0,765.3 L476.1,767.0 L474.9,768.5 L473.6,769.7 L472.2,770.7 L470.7,771.4 L469.2,771.8 L467.8,771.8 L466.6,771.5 L465.5,770.9 L464.7,769.8 L464.3,769.0 L463.3,766.4 L463.3,766.2 L463.4,765.4 L464.0,764.7 L464.8,763.9 L465.9,763.1 L467.2,762.2 L468.5,761.2 L470.0,760.1 L471.3,759.0 L472.6,757.9 L473.8,756.8 L474.7,755.8 L475.4,754.9 L475.9,754.3 L476.1,754.0Z M482.5,770.7 L483.1,773.2 L483.3,775.4 L483.0,777.4 L482.4,779.3 L481.5,781.0 L480.4,782.5 L479.1,783.8 L477.6,784.8 L476.1,785.5 L474.6,785.9 L473.3,785.9 L472.0,785.7 L470.9,785.0 L470.1,784.0 L469.7,783.1 L468.7,780.7 L468.7,780.3 L468.8,779.5 L469.4,778.8 L470.2,778.0 L471.3,777.2 L472.6,776.3 L474.0,775.3 L475.4,774.2 L476.8,773.1 L478.1,772.0 L479.2,770.9 L480.2,769.9 L480.8,769.0 L481.3,768.4 L481.5,768.2Z" fill="#dca3da" stroke="#9b6e99" stroke-width="0.7" stroke-linejoin="round"/>
<path d="M455.7,723.5 L454.3,724.5 L452.8,725.2 L451.4,725.7 L450.1,726.0 L449.1,726.0 L448.2,725.7 L447.6,725.1 L447.5,724.8 L447.0,723.6 L447.1,723.9 L447.4,723.6 L448.1,723.3 L449.0,722.9 L450.1,722.3 L451.4,721.6 L452.8,720.7 L454.3,719.7Z M465.7,726.8 L466.0,728.5 L465.9,730.3 L465.5,731.9 L464.8,733.5 L463.8,735.0 L462.5,736.4 L461.2,737.6 L459.7,738.6 L458.3,739.3 L456.9,739.8 L455.6,740.1 L454.5,740.1 L453.6,739.8 L453.0,739.3 L452.9,738.9 L452.4,737.8 L452.5,738.0 L452.8,737.7 L453.5,737.4 L454.4,737.0 L455.6,736.4 L456.9,735.7 L458.3,734.8 L459.7,733.8 L461.1,732.6 L462.4,731.4 L463.5,730.1 L464.3,728.9 L464.9,727.6 L465.2,726.5 L465.2,725.6Z M471.0,740.8 L471.4,742.6 L471.3,744.3 L470.9,746.0 L470.2,747.6 L469.2,749.1 L468.0,750.5 L466.6,751.7 L465.2,752.7 L463.7,753.4 L462.3,754.0 L461.0,754.2 L459.9,754.2 L459.1,754.0 L458.4,753.5 L458.2,753.0 L457.8,751.9 L457.9,752.1 L458.2,751.8 L458.9,751.5 L459.8,751.1 L461.0,750.5 L462.3,749.8 L463.7,748.9 L465.2,747.8 L466.6,746.7 L467.8,745.5 L468.9,744.2 L469.8,742.9 L470.3,741.7 L470.6,740.6 L470.6,739.7Z M476.4,754.8 L476.8,756.6 L476.7,758.3 L476.3,760.0 L475.6,761.6 L474.6,763.1 L473.5,764.5 L472.1,765.7 L470.7,766.7 L469.2,767.5 L467.8,768.1 L466.5,768.3 L465.4,768.4 L464.5,768.1 L463.8,767.6 L463.6,767.2 L463.2,766.1 L463.3,766.2 L463.6,766.0 L464.3,765.6 L465.3,765.2 L466.5,764.6 L467.8,763.8 L469.2,762.9 L470.6,761.9 L472.0,760.8 L473.3,759.5 L474.3,758.3 L475.2,757.0 L475.7,755.8 L476.0,754.6 L476.0,753.8Z M481.7,768.9 L482.1,770.6 L482.1,772.4 L481.7,774.1 L481.1,775.7 L480.1,777.2 L478.9,778.6 L477.6,779.8 L476.1,780.8 L474.7,781.6 L473.2,782.2 L471.9,782.5 L470.8,782.5 L469.9,782.3 L469.2,781.8 L469.0,781.3 L468.6,780.3 L468.7,780.3 L469.1,780.1 L469.8,779.7 L470.7,779.3 L471.9,778.7 L473.2,777.9 L474.7,777.0 L476.1,776.0 L477.5,774.8 L478.7,773.6 L479.8,772.3 L480.6,771.0 L481.1,769.8 L481.4,768.7 L481.4,767.8Z" fill="#fbe4fa" transform="translate(1.53,-0.58)" opacity="0.85"/>
<path d="M478.0,782.0 C479.5,781.5 484.5,780.7 487.0,779.0 C489.5,777.3 492.0,773.2 493.0,772.0" fill="none" stroke="#9b6e99" stroke-width="2.3" stroke-linecap="round" stroke-linejoin="round"/><path d="M478.0,782.0 C479.5,781.5 484.5,780.7 487.0,779.0 C489.5,777.3 492.0,773.2 493.0,772.0" fill="none" stroke="#dca3da" stroke-width="1.4" stroke-linecap="round" stroke-linejoin="round"/>
<path d="M510.2,741.1 L511.1,741.6 L511.9,741.4 L513.0,741.0 L514.2,740.3 L515.7,739.6 L517.2,738.8 L518.7,738.0 L520.2,737.4 L521.5,737.0 L522.5,736.8 L523.1,736.7 L523.9,737.5 L522.0,735.5 L520.8,734.3 L518.9,733.1 L517.0,732.4 L515.1,732.1 L513.2,732.3 L511.5,732.9 L510.0,733.7 L508.9,734.8 L508.1,735.9 L507.8,737.2 L508.0,738.4 L508.9,739.7Z M518.8,749.9 L519.6,750.0 L520.6,749.7 L521.8,749.1 L523.1,748.4 L524.6,747.6 L526.2,746.8 L527.7,746.2 L529.1,745.7 L530.2,745.4 L531.1,745.3 L531.2,745.0 L532.8,747.0 L530.0,744.1 L530.1,743.9 L528.1,742.1 L526.2,741.1 L524.2,740.7 L522.3,740.6 L520.5,741.0 L518.9,741.7 L517.6,742.7 L516.6,743.8 L516.1,745.0 L516.0,746.2 L516.4,747.4Z M526.6,758.1 L527.4,758.5 L528.3,758.4 L529.3,757.9 L530.6,757.3 L532.0,756.5 L533.6,755.7 L535.1,755.0 L536.6,754.4 L537.9,754.0 L538.9,753.8 L539.4,753.7 L540.3,754.5 L538.2,752.4 L537.2,751.4 L535.3,750.1 L533.4,749.3 L531.5,749.1 L529.6,749.2 L527.9,749.8 L526.4,750.6 L525.2,751.7 L524.5,752.8 L524.1,754.1 L524.3,755.3 L525.1,756.6Z" fill="#b283b0" stroke="#9b6e99" stroke-width="0.6" stroke-linejoin="round"/>
<path d="M517.0,739.2 L516.0,740.5 L514.9,741.5 L513.7,742.2 L512.4,742.3 L511.2,741.9 L510.2,741.1 L508.9,739.7 L508.5,739.1 L508.6,738.3 L509.0,737.3 L509.6,736.1 L510.4,734.7 L511.3,733.3Z M523.9,737.5 L525.2,739.4 L526.0,741.4 L526.2,743.3 L526.0,745.2 L525.5,746.9 L524.6,748.4 L523.6,749.6 L522.4,750.4 L521.2,750.8 L520.0,750.6 L518.7,749.9 L518.8,749.9 L516.4,747.4 L516.9,748.0 L516.6,747.2 L516.9,746.3 L517.4,745.2 L518.2,744.0 L519.0,742.5 L519.8,741.0 L520.6,739.5 L521.2,738.1 L521.6,736.9 L521.8,735.9 L522.0,735.5Z M532.8,747.0 L533.8,748.9 L534.3,750.9 L534.3,752.8 L534.0,754.6 L533.2,756.2 L532.3,757.5 L531.1,758.5 L529.9,759.1 L528.7,759.2 L527.5,758.8 L526.6,758.1 L525.1,756.6 L524.8,756.1 L524.8,755.3 L525.2,754.3 L525.9,753.1 L526.7,751.8 L527.6,750.3 L528.4,748.8 L529.1,747.3 L529.6,745.9 L529.9,744.8 L530.0,744.1Z M540.3,754.5 L541.6,756.5 L542.3,758.4 L542.5,760.3 L542.3,762.2 L541.8,763.9 L540.9,765.4 L539.8,766.6 L534.4,761.0 L535.3,759.6 L536.1,758.1 L536.9,756.5 L537.5,755.1 L537.9,753.9 L538.1,752.9 L538.2,752.4Z" fill="#dca3da" stroke="#9b6e99" stroke-width="0.7" stroke-linejoin="round"/>
<path d="M514.6,736.7 L513.7,738.1 L512.7,739.3 L511.6,740.0 L510.6,740.4 L509.8,740.4 L509.2,740.0 L508.6,739.5 L508.7,739.3 L509.1,738.8 L509.7,738.1 L510.6,737.1 L511.5,735.8 L512.4,734.4Z M522.7,736.2 L523.6,737.7 L524.0,739.3 L524.1,741.1 L523.8,742.8 L523.2,744.5 L522.3,746.0 L521.3,747.2 L520.3,748.2 L519.2,748.8 L518.3,748.9 L517.5,748.7 L517.5,748.5 L516.5,747.5 L516.8,747.9 L517.0,747.6 L517.5,747.0 L518.3,746.1 L519.1,745.0 L520.1,743.6 L520.9,742.1 L521.6,740.6 L522.1,739.0 L522.3,737.5 L522.2,736.3 L521.9,735.4Z M531.4,745.5 L532.0,747.0 L532.3,748.7 L532.1,750.5 L531.6,752.2 L530.9,753.8 L530.0,755.2 L528.9,756.3 L527.9,757.0 L526.9,757.4 L526.1,757.3 L525.5,757.0 L524.9,756.4 L525.0,756.2 L525.4,755.8 L526.0,755.1 L526.8,754.1 L527.7,752.8 L528.6,751.4 L529.4,749.9 L530.0,748.3 L530.4,746.8 L530.5,745.4 L530.2,744.3Z M539.0,753.2 L539.9,754.7 L540.4,756.4 L540.4,758.1 L540.1,759.9 L539.4,761.5 L538.6,763.0 L537.6,764.3 L535.4,762.0 L536.3,760.7 L537.2,759.2 L537.9,757.6 L538.4,756.0 L538.6,754.6 L538.5,753.3 L538.2,752.4Z" fill="#fbe4fa" transform="translate(0.89,-0.86)" opacity="0.85"/>
<ellipse cx="506.5" cy="757.0" rx="11.5" ry="8" fill="none" stroke="#553a55" stroke-width="3.6"/>
<ellipse cx="506.5" cy="757.0" rx="11.5" ry="8" fill="none" stroke="#a27aa2" stroke-width="2.4"/>
<ellipse cx="506.5" cy="756.5" rx="11.5" ry="8" fill="none" stroke="#c9a3c8" stroke-width="0.7" stroke-dasharray="17.2,46.0"/>
<ellipse cx="506.5" cy="753.8" rx="11.5" ry="8" fill="none" stroke="#553a55" stroke-width="3.6"/>
<ellipse cx="506.5" cy="753.8" rx="11.5" ry="8" fill="none" stroke="#a27aa2" stroke-width="2.4"/>
<ellipse cx="506.5" cy="753.3" rx="11.5" ry="8" fill="none" stroke="#c9a3c8" stroke-width="0.7" stroke-dasharray="17.2,46.0"/>
<ellipse cx="506.5" cy="750.6" rx="11.5" ry="8" fill="none" stroke="#553a55" stroke-width="3.6"/>
<ellipse cx="506.5" cy="750.6" rx="11.5" ry="8" fill="none" stroke="#a27aa2" stroke-width="2.4"/>
<ellipse cx="506.5" cy="750.1" rx="11.5" ry="8" fill="none" stroke="#c9a3c8" stroke-width="0.7" stroke-dasharray="17.2,46.0"/>
<ellipse cx="506.5" cy="747.4" rx="11.5" ry="8" fill="none" stroke="#553a55" stroke-width="3.6"/>
<ellipse cx="506.5" cy="747.4" rx="11.5" ry="8" fill="none" stroke="#a27aa2" stroke-width="2.4"/>
<ellipse cx="506.5" cy="746.9" rx="11.5" ry="8" fill="none" stroke="#c9a3c8" stroke-width="0.7" stroke-dasharray="17.2,46.0"/>
<ellipse cx="506.5" cy="744.2" rx="11.5" ry="8" fill="none" stroke="#553a55" stroke-width="3.6"/>
<ellipse cx="506.5" cy="744.2" rx="11.5" ry="8" fill="none" stroke="#a27aa2" stroke-width="2.4"/>
<ellipse cx="506.5" cy="743.7" rx="11.5" ry="8" fill="none" stroke="#c9a3c8" stroke-width="0.7" stroke-dasharray="17.2,46.0"/>
<ellipse cx="506.5" cy="741.0" rx="11.5" ry="8" fill="none" stroke="#553a55" stroke-width="3.6"/>
<ellipse cx="506.5" cy="741.0" rx="11.5" ry="8" fill="none" stroke="#a27aa2" stroke-width="2.4"/>
<ellipse cx="506.5" cy="740.5" rx="11.5" ry="8" fill="none" stroke="#c9a3c8" stroke-width="0.7" stroke-dasharray="17.2,46.0"/>
<path d="M487.0,785.0 C488.0,786.7 491.7,791.7 493.0,795.0 C494.3,798.3 492.7,803.2 495.0,805.0 C497.3,806.8 505.0,805.8 507.0,806.0" fill="none" stroke="#9b6e99" stroke-width="2.3" stroke-linecap="round" stroke-linejoin="round"/><path d="M487.0,785.0 C488.0,786.7 491.7,791.7 493.0,795.0 C494.3,798.3 492.7,803.2 495.0,805.0 C497.3,806.8 505.0,805.8 507.0,806.0" fill="none" stroke="#dca3da" stroke-width="1.4" stroke-linecap="round" stroke-linejoin="round"/>
<path d="M498.0,775.0 C500.3,774.7 508.0,773.0 512.0,773.0 C516.0,773.0 518.7,775.3 522.0,775.0 C525.3,774.7 530.3,771.7 532.0,771.0" fill="none" stroke="#9b6e99" stroke-width="2.3" stroke-linecap="round" stroke-linejoin="round"/><path d="M498.0,775.0 C500.3,774.7 508.0,773.0 512.0,773.0 C516.0,773.0 518.7,775.3 522.0,775.0 C525.3,774.7 530.3,771.7 532.0,771.0" fill="none" stroke="#dca3da" stroke-width="1.4" stroke-linecap="round" stroke-linejoin="round"/>
<path d="M501.9,791.4 L502.3,792.2 L503.0,792.7 L503.9,793.1 L505.2,793.5 L506.7,793.8 L508.3,794.2 L510.0,794.7 L511.7,795.2 L513.3,795.7 L514.8,796.3 L516.1,796.9 L517.2,797.4 L517.9,797.9 L518.4,798.2 L518.4,799.0 L518.4,796.2 L518.3,794.4 L517.8,792.1 L517.0,790.1 L516.0,788.4 L514.6,787.0 L513.1,785.9 L511.5,785.0 L509.8,784.4 L508.1,784.1 L506.5,784.1 L505.0,784.4 L503.8,784.9 L502.8,785.7 L502.2,786.8 L501.9,788.2Z M502.2,806.1 L502.5,807.2 L503.1,807.7 L504.0,808.1 L505.2,808.5 L506.6,808.9 L508.2,809.3 L509.9,809.7 L511.6,810.2 L513.2,810.7 L514.8,811.3 L516.1,811.8 L517.3,812.4 L518.1,812.9 L518.6,813.3 L518.7,813.3 L518.7,811.5 L518.5,808.9 L518.0,806.7 L517.1,804.8 L516.0,803.2 L514.6,801.8 L513.0,800.7 L511.4,799.9 L509.7,799.4 L508.0,799.2 L506.4,799.3 L505.0,799.6 L503.8,800.2 L502.9,801.1 L502.4,802.2 L502.1,803.8Z M502.7,822.1 L503.2,822.7 L504.0,823.2 L505.2,823.5 L506.5,823.9 L508.1,824.3 L509.7,824.7 L511.5,825.2 L513.1,825.7 L514.7,826.2 L516.1,826.8 L517.3,827.4 L518.2,827.9 L518.8,828.3 L519.0,828.2 L518.9,830.7 L518.8,826.4 L519.0,826.2 L518.7,823.5 L518.1,821.4 L517.2,819.5 L516.0,818.0 L514.5,816.7 L512.9,815.7 L511.3,814.9 L509.6,814.5 L507.9,814.3 L506.3,814.5 L505.0,814.9 L503.9,815.5 L503.1,816.4 L502.6,817.6Z M502.9,837.0 L503.3,837.7 L504.1,838.2 L505.2,838.6 L506.5,838.9 L508.0,839.3 L507.8,829.4 L506.3,829.6 L505.0,830.1 L504.0,830.8 L503.2,831.8 L502.8,833.1Z" fill="#b283b0" stroke="#9b6e99" stroke-width="0.6" stroke-linejoin="round"/>
<path d="M510.2,795.1 L508.5,795.5 L506.9,795.6 L505.4,795.4 L504.1,794.9 L503.1,794.2 L502.4,793.2 L502.0,791.9 L501.9,791.4 L501.9,788.2 L501.9,788.4 L502.3,787.6 L503.0,787.1 L504.0,786.6 L505.2,786.2 L506.7,785.8 L508.3,785.3 L510.0,784.8Z M518.4,799.0 L518.2,801.5 L517.6,803.6 L516.7,805.4 L515.5,807.0 L514.1,808.3 L512.5,809.3 L510.9,810.1 L509.2,810.5 L507.5,810.7 L506.0,810.6 L504.7,810.2 L503.6,809.5 L502.8,808.6 L502.3,807.3 L502.2,806.1 L502.1,803.8 L502.2,803.3 L502.7,802.6 L503.5,802.1 L504.5,801.7 L505.8,801.2 L507.3,800.8 L509.0,800.3 L510.7,799.8 L512.3,799.2 L513.9,798.6 L515.3,798.0 L516.5,797.4 L517.5,796.8 L518.1,796.3 L518.4,796.2Z M518.7,813.3 L518.6,816.1 L518.1,818.3 L517.2,820.1 L516.1,821.8 L514.7,823.1 L513.2,824.2 L511.5,825.0 L509.9,825.6 L508.2,825.8 L506.6,825.7 L505.3,825.4 L504.1,824.8 L503.2,824.0 L502.7,822.8 L502.5,820.8 L502.7,822.1 L502.6,817.6 L502.4,819.5 L502.6,818.2 L503.1,817.6 L504.0,817.1 L505.1,816.7 L506.5,816.3 L508.0,815.8 L509.7,815.3 L511.4,814.8 L513.0,814.2 L514.6,813.6 L515.9,813.0 L517.1,812.3 L517.9,811.8 L518.5,811.4 L518.7,811.5Z M518.9,830.7 L518.5,832.9 L517.7,834.8 L516.7,836.5 L515.4,838.0 L513.9,839.1 L512.2,840.0 L510.5,840.6 L508.9,840.9 L507.3,840.9 L505.9,840.6 L504.7,840.1 L503.7,839.3 L503.1,838.2 L502.8,836.6 L502.9,837.0 L502.8,833.1 L502.7,834.1 L503.0,833.1 L503.6,832.6 L504.5,832.1 L505.7,831.7 L507.1,831.3 L508.7,830.8 L510.3,830.3 L512.0,829.8 L513.7,829.2 L515.2,828.6 L516.5,827.9 L517.6,827.3 L518.4,826.8 L518.8,826.4Z" fill="#dca3da" stroke="#9b6e99" stroke-width="0.7" stroke-linejoin="round"/>
<path d="M510.1,790.8 L508.4,791.3 L506.8,791.5 L505.3,791.5 L504.0,791.3 L503.0,790.9 L502.3,790.4 L501.9,789.6 L501.9,789.2 L501.9,788.0 L501.9,788.2 L502.3,788.1 L503.0,788.0 L504.0,788.0 L505.2,787.8 L506.7,787.6 L508.3,787.2 L510.0,786.7Z M518.4,797.0 L518.1,798.8 L517.5,800.4 L516.6,801.8 L515.4,803.1 L514.0,804.2 L512.4,805.1 L510.8,805.8 L509.1,806.3 L507.5,806.6 L505.9,806.6 L504.6,806.5 L503.5,806.1 L502.7,805.6 L502.3,804.9 L502.2,804.3 L502.1,803.4 L502.2,803.3 L502.7,803.2 L503.5,803.1 L504.5,803.0 L505.9,802.9 L507.4,802.6 L509.0,802.2 L510.7,801.7 L512.4,801.1 L513.9,800.4 L515.4,799.5 L516.6,798.6 L517.5,797.7 L518.1,796.7 L518.4,795.9Z M518.7,811.6 L518.5,813.5 L518.0,815.1 L517.2,816.6 L516.0,818.0 L514.7,819.1 L513.1,820.1 L511.5,820.8 L509.8,821.3 L508.1,821.6 L506.6,821.7 L505.2,821.6 L504.0,821.3 L503.2,820.9 L502.6,820.2 L502.4,819.3 L502.6,819.6 L502.6,817.8 L502.4,818.7 L502.6,818.4 L503.1,818.3 L504.0,818.2 L505.1,818.1 L506.5,817.9 L508.0,817.6 L509.7,817.2 L511.4,816.7 L513.0,816.1 L514.6,815.3 L516.0,814.4 L517.1,813.5 L518.0,812.6 L518.5,811.6 L518.7,810.9Z M518.9,828.2 L518.4,829.9 L517.7,831.4 L516.6,832.8 L515.3,834.0 L513.8,835.0 L512.2,835.8 L510.5,836.3 L508.8,836.7 L507.2,836.8 L505.8,836.8 L504.6,836.5 L503.7,836.1 L503.0,835.5 L502.7,834.7 L502.8,834.7 L502.8,833.1 L502.7,833.7 L503.0,833.5 L503.6,833.4 L504.5,833.3 L505.7,833.2 L507.1,833.0 L508.7,832.7 L510.4,832.2 L512.1,831.7 L513.7,831.0 L515.2,830.2 L516.5,829.3 L517.6,828.4 L518.4,827.4 L518.9,826.5Z" fill="#fbe4fa" transform="translate(1.64,-0.03)" opacity="0.85"/>
<path d="M526.3,794.1 L527.1,794.6 L528.0,794.5 L529.0,794.2 L530.3,793.7 L531.7,793.0 L533.3,792.3 L534.9,791.6 L536.5,791.1 L538.1,790.6 L539.4,790.3 L540.5,790.1 L541.3,790.0 L541.4,789.8 L542.9,791.9 L540.3,788.7 L540.3,788.5 L538.4,786.5 L536.6,785.3 L534.7,784.5 L532.8,784.2 L530.9,784.2 L529.1,784.5 L527.5,785.2 L526.1,786.1 L525.0,787.1 L524.2,788.3 L523.9,789.5 L524.0,790.7 L524.7,792.1Z M535.0,804.7 L535.8,805.0 L536.7,804.9 L537.8,804.5 L539.1,803.9 L540.6,803.3 L542.2,802.6 L543.8,801.9 L545.4,801.3 L546.9,800.9 L548.2,800.6 L549.2,800.5 L549.9,800.4 L550.1,800.5 L549.0,799.0 L547.3,797.2 L545.5,795.9 L543.6,795.0 L541.7,794.6 L539.8,794.5 L538.0,794.8 L536.3,795.4 L534.8,796.3 L533.7,797.3 L532.9,798.4 L532.4,799.6 L532.4,800.9 L533.0,802.2Z M543.7,815.2 L544.5,815.4 L545.4,815.2 L546.6,814.8 L547.9,814.2 L549.4,813.5 L551.0,812.8 L552.6,812.2 L554.2,811.6 L555.7,811.2 L557.0,811.0 L557.9,810.9 L558.5,810.8 L559.1,811.4 L557.4,809.4 L556.2,808.0 L554.4,806.5 L552.5,805.6 L550.6,805.1 L548.7,804.9 L546.9,805.2 L545.2,805.7 L543.6,806.5 L542.4,807.5 L541.5,808.6 L541.0,809.8 L540.9,811.0 L541.3,812.3Z" fill="#b283b0" stroke="#9b6e99" stroke-width="0.6" stroke-linejoin="round"/>
<path d="M534.2,792.3 L533.1,793.6 L531.9,794.6 L530.6,795.3 L529.3,795.5 L528.1,795.4 L526.9,794.7 L526.3,794.1 L524.7,792.1 L524.6,791.8 L524.5,791.0 L524.9,790.1 L525.5,789.1 L526.4,787.9 L527.3,786.6 L528.3,785.2Z M542.9,791.9 L543.9,793.9 L544.3,795.9 L544.4,797.9 L544.0,799.7 L543.4,801.5 L542.5,803.0 L541.3,804.3 L540.1,805.2 L538.8,805.8 L537.6,805.9 L536.4,805.7 L535.2,804.9 L535.0,804.7 L533.0,802.2 L533.2,802.4 L533.0,801.6 L533.3,800.7 L533.9,799.7 L534.7,798.6 L535.6,797.3 L536.6,795.9 L537.6,794.4 L538.5,792.9 L539.2,791.5 L539.8,790.3 L540.1,789.3 L540.3,788.7Z M550.1,800.5 L551.7,802.7 L552.5,804.7 L552.9,806.7 L552.8,808.7 L552.4,810.5 L551.7,812.2 L550.7,813.7 L549.6,814.9 L548.3,815.7 L547.1,816.2 L545.8,816.3 L544.6,816.0 L543.5,815.0 L543.7,815.2 L541.3,812.3 L541.8,813.0 L541.5,812.2 L541.7,811.3 L542.2,810.4 L543.0,809.2 L543.9,807.9 L544.9,806.6 L545.9,805.1 L546.8,803.6 L547.6,802.2 L548.2,801.0 L548.6,799.9 L548.8,799.2 L549.0,799.0Z M559.1,811.4 L560.4,813.5 L561.1,815.5 L561.4,817.5 L561.3,819.4 L560.8,821.3 L560.0,822.9 L559.0,824.4 L557.9,825.5 L556.6,826.3 L555.3,826.7 L554.1,826.7 L550.2,821.9 L550.6,821.0 L551.4,819.9 L552.2,818.6 L553.2,817.3 L554.2,815.8 L555.1,814.3 L555.9,812.9 L556.6,811.6 L557.0,810.5 L557.2,809.7 L557.4,809.4Z" fill="#dca3da" stroke="#9b6e99" stroke-width="0.7" stroke-linejoin="round"/>
<path d="M531.7,789.3 L530.7,790.7 L529.5,791.8 L528.4,792.6 L527.3,793.1 L526.4,793.3 L525.6,793.0 L525.2,792.7 L524.5,791.9 L524.6,791.9 L524.9,791.5 L525.6,791.0 L526.4,790.1 L527.3,789.1 L528.4,787.9 L529.4,786.5Z M541.5,790.1 L542.1,791.7 L542.3,793.4 L542.2,795.2 L541.7,796.9 L541.0,798.5 L540.0,800.0 L539.0,801.4 L537.8,802.4 L536.7,803.2 L535.6,803.6 L534.7,803.7 L533.9,803.3 L533.8,803.1 L532.9,802.1 L533.1,802.4 L533.4,802.0 L533.9,801.5 L534.7,800.7 L535.6,799.8 L536.7,798.6 L537.7,797.2 L538.7,795.7 L539.5,794.2 L540.1,792.6 L540.5,791.2 L540.6,789.9 L540.4,788.8Z M549.1,799.2 L550.1,800.8 L550.7,802.5 L550.8,804.2 L550.6,805.9 L550.1,807.6 L549.3,809.3 L548.3,810.7 L547.2,812.0 L546.1,813.0 L545.0,813.7 L543.9,814.0 L543.0,814.0 L542.3,813.6 L542.3,813.5 L541.4,812.3 L541.7,812.8 L541.8,812.5 L542.3,812.0 L543.0,811.3 L544.0,810.4 L545.0,809.2 L546.0,807.9 L547.0,806.4 L547.8,804.9 L548.5,803.3 L548.9,801.9 L549.1,800.5 L549.0,799.4 L548.7,798.7Z M557.9,810.0 L558.8,811.6 L559.2,813.2 L559.3,814.9 L559.0,816.7 L558.5,818.4 L557.6,820.0 L556.6,821.4 L555.5,822.6 L554.4,823.6 L553.2,824.2 L552.2,824.5 L550.7,822.5 L551.4,821.9 L552.3,821.0 L553.3,819.9 L554.3,818.6 L555.3,817.1 L556.2,815.6 L556.9,814.1 L557.4,812.6 L557.6,811.2 L557.5,810.0 L557.2,809.2Z" fill="#fbe4fa" transform="translate(1.11,-0.91)" opacity="0.85"/>
<path d="M520.0,830.0 C521.3,831.0 526.0,833.0 528.0,836.0 C530.0,839.0 530.0,844.3 532.0,848.0 C534.0,851.7 537.2,855.3 540.0,858.0 C542.8,860.7 547.5,863.0 549.0,864.0" fill="none" stroke="#9b6e99" stroke-width="2.3" stroke-linecap="round" stroke-linejoin="round"/><path d="M520.0,830.0 C521.3,831.0 526.0,833.0 528.0,836.0 C530.0,839.0 530.0,844.3 532.0,848.0 C534.0,851.7 537.2,855.3 540.0,858.0 C542.8,860.7 547.5,863.0 549.0,864.0" fill="none" stroke="#dca3da" stroke-width="1.4" stroke-linecap="round" stroke-linejoin="round"/>
<path d="M532.0,838.0 C533.0,839.3 535.3,844.8 538.0,846.0 C540.7,847.2 544.3,845.7 548.0,845.0 C551.7,844.3 558.0,842.5 560.0,842.0" fill="none" stroke="#9b6e99" stroke-width="2.2" stroke-linecap="round" stroke-linejoin="round"/><path d="M532.0,838.0 C533.0,839.3 535.3,844.8 538.0,846.0 C540.7,847.2 544.3,845.7 548.0,845.0 C551.7,844.3 558.0,842.5 560.0,842.0" fill="none" stroke="#dca3da" stroke-width="1.3" stroke-linecap="round" stroke-linejoin="round"/>
<path d="M625.0,645.0 C626.2,644.2 629.5,641.5 632.0,640.0 C634.5,638.5 638.7,636.7 640.0,636.0" fill="none" stroke="#434898" stroke-width="2.2" stroke-linecap="round" stroke-linejoin="round"/><path d="M625.0,645.0 C626.2,644.2 629.5,641.5 632.0,640.0 C634.5,638.5 638.7,636.7 640.0,636.0" fill="none" stroke="#7d84d8" stroke-width="1.3" stroke-linecap="round" stroke-linejoin="round"/>
<path d="M589.1,603.8 L588.8,605.1 L589.0,605.9 L589.6,606.6 L590.4,607.4 L591.5,608.3 L592.7,609.3 L594.1,610.4 L595.4,611.5 L596.8,612.7 L598.0,613.9 L599.2,615.1 L600.1,616.1 L600.8,617.1 L601.3,617.9 L601.6,618.3 L601.6,618.7 L602.5,616.7 L603.3,614.5 L603.8,612.2 L603.9,610.1 L603.7,608.1 L603.1,606.2 L602.2,604.5 L601.1,603.0 L599.8,601.7 L598.4,600.6 L596.9,599.8 L595.5,599.4 L594.1,599.2 L592.8,599.4 L591.7,599.9 L590.7,600.7 L589.8,602.4Z M582.5,618.9 L582.4,619.9 L582.7,620.6 L583.3,621.4 L584.2,622.2 L585.3,623.2 L586.6,624.2 L587.9,625.3 L589.3,626.4 L590.6,627.6 L591.9,628.8 L592.9,629.9 L593.8,631.0 L594.5,631.9 L595.0,632.6 L595.2,633.0 L594.9,633.9 L596.1,631.1 L596.7,629.6 L597.3,627.3 L597.5,625.1 L597.3,623.1 L596.8,621.2 L596.0,619.5 L594.9,617.9 L593.6,616.5 L592.3,615.4 L590.8,614.6 L589.3,614.0 L587.9,613.8 L586.6,613.9 L585.4,614.3 L584.5,615.1 L583.6,616.5Z M576.0,633.7 L575.9,634.6 L576.3,635.4 L579.2,628.8 L578.2,629.5 L577.3,630.7Z" fill="#5a61b9" stroke="#434898" stroke-width="0.6" stroke-linejoin="round"/>
<path d="M595.1,611.8 L593.4,611.4 L591.9,610.8 L590.6,610.0 L589.5,609.1 L588.8,608.0 L588.5,606.9 L588.5,605.5 L589.1,603.8 L589.8,602.4 L590.4,601.4 L591.1,601.0 L592.0,600.9 L593.1,601.0 L594.5,601.1 L596.1,601.4 L597.7,601.6 L599.5,601.9Z M601.6,618.7 L600.3,621.1 L598.9,622.8 L597.4,624.2 L595.7,625.2 L593.8,625.9 L592.0,626.4 L590.1,626.5 L588.3,626.3 L586.6,625.9 L585.1,625.3 L583.9,624.5 L582.9,623.5 L582.3,622.4 L582.0,621.2 L582.2,619.8 L582.5,618.9 L583.6,616.5 L583.8,616.2 L584.4,615.7 L585.3,615.5 L586.4,615.5 L587.8,615.7 L589.3,615.9 L590.9,616.2 L592.7,616.4 L594.4,616.7 L596.2,616.8 L597.8,616.9 L599.3,616.9 L600.6,616.8 L601.6,616.6 L602.3,616.5 L602.5,616.7Z M594.9,633.9 L593.6,636.1 L592.1,637.7 L590.6,639.0 L588.8,640.0 L587.0,640.7 L585.1,641.0 L583.3,641.1 L581.5,640.8 L579.8,640.4 L578.4,639.7 L577.2,638.9 L576.3,637.9 L575.7,636.7 L575.6,635.5 L575.8,634.1 L576.0,633.7 L577.3,630.7 L577.2,631.0 L577.8,630.3 L578.7,630.1 L579.7,630.1 L581.0,630.2 L582.5,630.5 L584.1,630.7 L585.8,631.0 L587.6,631.2 L589.4,631.4 L591.0,631.5 L592.6,631.5 L593.9,631.4 L595.0,631.3 L595.7,631.1 L596.1,631.1Z" fill="#7d84d8" stroke="#434898" stroke-width="0.7" stroke-linejoin="round"/>
<path d="M596.9,607.7 L595.2,607.3 L593.6,606.9 L592.3,606.2 L591.1,605.5 L590.3,604.8 L589.8,604.0 L589.6,603.2 L589.8,602.3 L590.1,601.7 L590.3,601.5 L590.8,601.6 L591.5,601.9 L592.6,602.3 L593.8,602.7 L595.3,603.1 L596.9,603.4 L598.7,603.7Z M602.4,616.9 L601.4,618.6 L600.2,619.8 L598.8,620.8 L597.3,621.6 L595.5,622.1 L593.7,622.4 L591.9,622.4 L590.1,622.2 L588.4,621.8 L586.9,621.3 L585.5,620.7 L584.5,620.0 L583.7,619.2 L583.2,618.4 L583.2,617.6 L583.3,617.0 L583.7,616.1 L583.8,616.1 L584.2,616.2 L584.9,616.4 L585.9,616.8 L587.1,617.2 L588.5,617.6 L590.1,618.0 L591.9,618.3 L593.6,618.5 L595.4,618.5 L597.1,618.5 L598.7,618.3 L600.1,617.9 L601.3,617.4 L602.2,616.7 L602.7,616.1Z M595.7,631.9 L594.7,633.5 L593.5,634.7 L592.1,635.6 L590.5,636.3 L588.7,636.8 L586.9,637.0 L585.1,637.0 L583.3,636.8 L581.6,636.4 L580.1,635.8 L578.8,635.1 L577.8,634.4 L577.1,633.6 L576.8,632.8 L576.7,632.0 L576.9,631.7 L577.4,630.5 L577.3,630.8 L577.7,630.8 L578.3,631.0 L579.2,631.3 L580.4,631.7 L581.8,632.1 L583.3,632.5 L585.0,632.8 L586.8,633.0 L588.6,633.1 L590.3,633.1 L592.0,632.9 L593.4,632.6 L594.6,632.1 L595.6,631.5 L596.2,630.8Z" fill="#b3b7f2" transform="translate(1.59,0.70)" opacity="0.85"/>
<path d="M586.1,643.9 L586.9,645.1 L587.6,645.4 L588.5,645.5 L589.7,645.4 L591.1,645.2 L592.6,644.9 L594.3,644.6 L596.0,644.3 L597.8,644.1 L599.5,643.9 L601.1,643.8 L602.6,643.8 L603.8,643.9 L604.7,644.0 L605.3,644.1 L605.4,644.1 L604.6,642.4 L603.4,640.1 L602.0,638.3 L600.5,636.9 L598.8,635.8 L597.0,635.0 L595.1,634.6 L593.3,634.4 L591.4,634.5 L589.7,634.9 L588.2,635.5 L586.9,636.3 L585.9,637.3 L585.2,638.3 L584.8,639.5 L584.8,640.8 L585.5,642.7Z M593.1,658.7 L593.7,659.6 L594.5,659.9 L595.5,659.9 L596.7,659.8 L598.1,659.6 L599.7,659.3 L601.3,659.0 L603.1,658.7 L604.9,658.5 L606.6,658.3 L608.2,658.2 L609.6,658.2 L610.7,658.3 L611.6,658.5 L612.1,658.5 L612.4,659.0 L611.4,656.7 L610.4,654.9 L609.0,653.0 L607.5,651.5 L605.9,650.3 L604.1,649.5 L602.2,649.0 L600.3,648.9 L598.5,648.9 L596.8,649.3 L595.2,649.9 L593.9,650.6 L592.8,651.6 L592.0,652.6 L591.6,653.8 L591.6,655.1 L592.1,656.7Z M600.0,673.4 L600.6,674.1 L601.4,674.3 L602.4,674.4 L598.9,666.9 L598.5,668.0 L598.4,669.3 L598.8,670.8Z" fill="#5a61b9" stroke="#434898" stroke-width="0.6" stroke-linejoin="round"/>
<path d="M596.1,644.7 L594.7,645.7 L593.2,646.5 L591.8,647.0 L590.4,647.1 L589.2,647.0 L588.0,646.5 L587.1,645.6 L586.1,643.9 L585.5,642.7 L585.1,641.5 L585.3,640.7 L585.8,639.9 L586.6,639.1 L587.7,638.2 L588.8,637.1 L590.1,636.1 L591.5,634.9Z M605.4,644.1 L606.4,646.7 L606.9,648.9 L606.9,651.0 L606.6,653.0 L606.0,654.8 L605.1,656.5 L604.0,658.0 L602.7,659.3 L601.3,660.3 L599.8,661.0 L598.4,661.5 L597.0,661.6 L595.8,661.4 L594.7,660.8 L593.7,659.8 L593.1,658.7 L592.1,656.7 L591.9,656.0 L592.0,655.2 L592.5,654.5 L593.3,653.6 L594.3,652.7 L595.5,651.7 L596.7,650.7 L598.1,649.5 L599.4,648.3 L600.7,647.1 L601.8,645.9 L602.8,644.8 L603.5,643.8 L604.1,642.9 L604.4,642.3 L604.6,642.4Z M612.4,659.0 L613.3,661.5 L613.7,663.7 L613.7,665.7 L613.3,667.7 L612.7,669.5 L611.7,671.2 L610.6,672.6 L609.3,673.9 L607.9,674.9 L606.4,675.5 L605.0,675.9 L603.6,676.0 L602.4,675.8 L601.3,675.1 L600.4,674.1 L600.0,673.4 L598.8,670.8 L598.8,670.6 L598.8,669.8 L599.2,669.0 L600.0,668.2 L600.9,667.3 L602.1,666.3 L603.4,665.3 L604.7,664.1 L606.0,662.9 L607.3,661.7 L608.4,660.5 L609.4,659.4 L610.2,658.3 L610.8,657.5 L611.1,656.8 L611.4,656.7Z" fill="#7d84d8" stroke="#434898" stroke-width="0.7" stroke-linejoin="round"/>
<path d="M594.2,640.6 L592.8,641.7 L591.4,642.6 L590.0,643.2 L588.8,643.6 L587.6,643.7 L586.7,643.6 L586.0,643.2 L585.4,642.4 L585.2,641.9 L585.2,641.6 L585.6,641.3 L586.3,640.9 L587.2,640.4 L588.4,639.7 L589.6,638.8 L591.0,637.8 L592.3,636.7Z M604.7,642.5 L605.3,644.3 L605.5,646.0 L605.4,647.7 L604.9,649.4 L604.2,651.0 L603.2,652.6 L602.1,654.0 L600.8,655.2 L599.4,656.3 L598.0,657.1 L596.6,657.7 L595.4,658.1 L594.3,658.2 L593.4,658.0 L592.7,657.6 L592.3,657.0 L591.9,656.2 L592.0,656.1 L592.3,655.8 L593.0,655.4 L593.9,654.9 L595.0,654.2 L596.2,653.4 L597.6,652.4 L598.9,651.3 L600.3,650.1 L601.5,648.8 L602.5,647.5 L603.4,646.1 L604.0,644.8 L604.4,643.6 L604.5,642.5 L604.3,641.8Z M611.6,657.2 L612.1,659.0 L612.3,660.7 L612.1,662.4 L611.6,664.1 L610.9,665.7 L609.9,667.2 L608.7,668.6 L607.4,669.8 L606.0,670.9 L604.6,671.7 L603.2,672.2 L602.0,672.6 L600.9,672.6 L600.0,672.4 L599.4,671.9 L599.1,671.5 L598.6,670.5 L598.7,670.5 L599.0,670.3 L599.7,669.9 L600.5,669.4 L601.6,668.8 L602.9,668.0 L604.2,667.0 L605.5,665.9 L606.9,664.7 L608.1,663.4 L609.2,662.1 L610.1,660.8 L610.7,659.4 L611.1,658.2 L611.3,657.1 L611.2,656.3Z" fill="#b3b7f2" transform="translate(1.57,-0.74)" opacity="0.85"/>
<path d="M600.0,603.0 C601.8,603.3 608.5,603.2 611.0,605.0 C613.5,606.8 613.2,610.8 615.0,614.0 C616.8,617.2 619.5,621.0 622.0,624.0 C624.5,627.0 627.3,630.0 630.0,632.0 C632.7,634.0 635.3,634.7 638.0,636.0 C640.7,637.3 644.7,639.3 646.0,640.0" fill="none" stroke="#434898" stroke-width="2.5" stroke-linecap="round" stroke-linejoin="round"/><path d="M600.0,603.0 C601.8,603.3 608.5,603.2 611.0,605.0 C613.5,606.8 613.2,610.8 615.0,614.0 C616.8,617.2 619.5,621.0 622.0,624.0 C624.5,627.0 627.3,630.0 630.0,632.0 C632.7,634.0 635.3,634.7 638.0,636.0 C640.7,637.3 644.7,639.3 646.0,640.0" fill="none" stroke="#7d84d8" stroke-width="1.6" stroke-linecap="round" stroke-linejoin="round"/>
<path d="M630.0,632.0 C629.3,633.3 627.5,637.8 626.0,640.0 C624.5,642.2 621.8,644.2 621.0,645.0" fill="none" stroke="#434898" stroke-width="2.3" stroke-linecap="round" stroke-linejoin="round"/><path d="M630.0,632.0 C629.3,633.3 627.5,637.8 626.0,640.0 C624.5,642.2 621.8,644.2 621.0,645.0" fill="none" stroke="#7d84d8" stroke-width="1.4" stroke-linecap="round" stroke-linejoin="round"/>
<path d="M611.4,649.2 L612.7,648.7 L615.2,648.0 L618.6,647.6 L622.5,647.4 L626.4,647.8 L629.8,648.5 L632.4,649.6 L633.8,650.8 L634.0,653.4 L633.6,650.3 L633.5,648.2 L631.9,645.2 L629.2,643.0 L625.7,641.6 L621.8,641.0 L617.9,641.3 L614.6,642.4 L612.2,644.1 L611.1,646.3Z M612.5,658.1 L613.9,657.6 L616.6,656.9 L620.0,656.5 L623.9,656.4 L627.8,656.8 L631.2,657.6 L633.6,658.7 L634.9,659.9 L634.9,662.7 L634.5,659.4 L634.6,657.5 L633.1,654.4 L630.6,652.1 L627.1,650.6 L623.2,650.0 L619.3,650.2 L615.9,651.2 L613.4,652.8 L612.1,655.0Z M613.6,667.0 L615.2,666.4 L617.9,665.8 L621.4,665.4 L625.4,665.4 L629.2,665.8 L632.5,666.6 L634.8,667.8 L635.9,668.9 L635.8,672.0 L635.4,668.5 L635.7,666.9 L634.4,663.7 L631.9,661.3 L628.5,659.7 L624.6,658.9 L620.7,659.1 L617.2,660.0 L614.6,661.5 L613.2,663.7Z M614.7,675.9 L616.4,675.3 L619.2,674.7 L622.8,674.3 L626.8,674.3 L630.6,674.8 L633.8,675.7 L636.0,676.9 L636.9,677.9 L636.7,681.3 L636.3,677.6 L636.7,676.3 L635.6,672.9 L633.2,670.4 L629.9,668.8 L626.1,667.9 L622.1,668.0 L618.6,668.8 L615.9,670.3 L614.3,672.3Z M615.8,684.8 L617.7,684.2 L620.6,683.6 L624.3,683.2 L628.2,683.3 L632.0,683.8 L635.1,684.8 L637.2,686.0 L637.9,686.9 L637.8,685.7 L636.7,682.2 L634.5,679.6 L631.3,677.8 L627.5,676.9 L623.6,676.9 L619.9,677.6 L617.1,679.0 L615.4,681.0Z" fill="#5a61b9" stroke="#434898" stroke-width="0.6" stroke-linejoin="round"/>
<path d="M622.9,653.5 L619.1,654.0 L615.7,653.6 L613.0,652.4 L611.5,650.5 L611.4,649.2 L611.1,646.3 L611.2,647.7 L612.5,647.9 L615.1,648.0 L618.4,647.7 L622.2,647.0Z M634.0,653.4 L632.9,656.6 L630.5,659.2 L627.3,661.3 L623.5,662.5 L619.7,662.9 L616.3,662.5 L613.8,661.2 L612.4,659.1 L612.5,658.1 L612.1,655.0 L612.1,656.6 L613.3,656.8 L615.7,656.9 L619.0,656.7 L622.8,656.1 L626.6,655.0 L629.9,653.5 L632.3,651.9 L633.6,650.3Z M634.9,662.7 L633.6,665.8 L631.2,668.4 L627.9,670.4 L624.1,671.5 L620.3,671.9 L617.0,671.3 L614.6,670.0 L613.3,667.8 L613.6,667.0 L613.2,663.7 L613.1,665.6 L614.1,665.7 L616.4,665.9 L619.6,665.7 L623.4,665.1 L627.2,664.1 L630.6,662.6 L633.1,661.0 L634.5,659.4Z M635.8,672.0 L634.4,675.1 L631.9,677.6 L628.5,679.5 L624.6,680.6 L620.9,680.8 L617.7,680.1 L615.4,678.7 L614.2,676.4 L614.7,675.9 L614.3,672.3 L614.0,674.6 L614.9,674.7 L617.1,674.8 L620.2,674.7 L623.9,674.1 L627.8,673.1 L631.2,671.8 L633.9,670.1 L635.4,668.5Z M636.7,681.3 L635.2,684.3 L632.5,686.8 L629.0,688.6 L625.2,689.6 L621.5,689.7 L618.4,689.0 L616.2,687.5 L615.2,684.9 L615.8,684.8 L615.4,681.0 L615.0,683.7 L615.8,683.6 L617.8,683.8 L620.8,683.7 L624.5,683.2 L628.3,682.2 L631.9,680.9 L634.6,679.3 L636.3,677.6Z M637.9,686.9 L637.6,690.6 L635.9,693.6 L633.2,696.0 L629.6,697.7 L625.8,698.6 L625.1,692.2 L628.9,691.3 L632.5,690.0 L635.4,688.4 L637.2,686.8 L637.8,685.7Z" fill="#7d84d8" stroke="#434898" stroke-width="0.7" stroke-linejoin="round"/>
<path d="M622.6,650.8 L618.8,651.4 L615.4,651.2 L612.8,650.4 L611.3,648.9 L611.2,647.6 L611.1,646.5 L611.2,647.8 L612.6,648.6 L615.2,649.0 L618.6,648.9 L622.4,648.3Z M633.8,651.8 L632.6,654.5 L630.3,656.8 L627.0,658.7 L623.2,659.9 L619.4,660.4 L616.1,660.1 L613.6,659.2 L612.2,657.7 L612.3,656.5 L612.1,655.2 L612.1,656.7 L613.4,657.4 L615.8,657.9 L619.1,657.9 L622.9,657.3 L626.7,656.2 L630.0,654.5 L632.4,652.6 L633.7,650.6Z M634.7,661.0 L633.4,663.7 L630.9,666.0 L627.6,667.8 L623.8,668.9 L620.0,669.3 L616.7,669.0 L614.4,668.0 L613.2,666.4 L613.4,665.3 L613.2,664.0 L613.1,665.6 L614.2,666.3 L616.5,666.8 L619.7,666.9 L623.5,666.3 L627.3,665.3 L630.7,663.7 L633.2,661.8 L634.6,659.7Z M635.6,670.3 L634.2,672.9 L631.6,675.2 L628.2,676.9 L624.4,677.9 L620.6,678.3 L617.4,677.9 L615.2,676.8 L614.1,675.2 L614.5,674.1 L614.3,672.7 L614.0,674.4 L615.0,675.2 L617.2,675.7 L620.4,675.8 L624.1,675.4 L627.9,674.4 L631.3,672.8 L634.0,670.9 L635.5,668.9Z M636.5,679.5 L634.9,682.1 L632.2,684.3 L628.8,686.0 L624.9,687.0 L621.2,687.2 L618.1,686.7 L616.0,685.6 L615.0,683.9 L615.6,683.0 L615.4,681.5 L615.0,683.3 L615.8,684.0 L617.9,684.6 L621.0,684.8 L624.6,684.4 L628.5,683.4 L632.0,682.0 L634.7,680.1 L636.4,678.1Z M637.8,685.9 L637.4,688.8 L635.7,691.3 L632.9,693.5 L629.3,695.1 L625.5,696.0 L625.2,693.4 L629.1,692.5 L632.6,691.1 L635.5,689.3 L637.2,687.2 L637.8,685.4Z" fill="#b3b7f2" transform="translate(2.23,-0.25)" opacity="0.85"/>
<path d="M628.6,666.1 L629.3,666.5 L630.3,666.5 L631.7,666.3 L633.2,666.1 L634.9,665.8 L636.6,665.7 L638.2,665.6 L639.5,665.7 L640.5,665.9 L640.9,665.9 L641.6,667.7 L640.1,664.5 L639.9,663.8 L638.6,661.7 L637.1,660.3 L635.4,659.4 L633.6,658.9 L631.8,658.8 L630.1,659.2 L628.8,659.8 L627.8,660.7 L627.2,661.9 L627.3,663.2Z M633.3,676.2 L634.1,676.5 L635.2,676.4 L636.7,676.2 L638.3,675.9 L640.0,675.7 L641.7,675.6 L643.2,675.6 L644.4,675.7 L645.2,675.9 L645.4,676.0 L644.7,674.4 L643.6,672.3 L642.1,670.7 L640.5,669.6 L638.7,669.0 L636.9,668.8 L635.2,669.0 L633.7,669.5 L632.5,670.4 L631.8,671.4 L631.7,672.6Z M637.3,685.7 L638.0,686.3 L638.9,686.4 L640.2,686.3 L641.7,686.1 L643.4,685.8 L645.1,685.6 L646.7,685.5 L648.1,685.6 L649.2,685.7 L649.8,685.8 L650.3,686.9 L649.1,684.3 L648.5,682.9 L647.1,681.1 L645.5,679.9 L643.8,679.1 L642.0,678.7 L640.2,678.8 L638.6,679.3 L637.4,680.0 L636.5,681.0 L636.1,682.2 L636.4,683.6Z M642.0,696.0 L642.8,696.3 L643.8,696.3 L645.2,696.2 L646.7,695.9 L648.4,695.7 L650.1,695.5 L651.7,695.5 L653.0,695.6 L653.9,695.7 L654.3,695.7 L655.0,697.7 L653.5,694.3 L653.4,693.7 L652.1,691.6 L650.6,690.2 L648.9,689.3 L647.1,688.8 L645.3,688.7 L643.6,689.0 L642.2,689.7 L641.2,690.6 L640.7,691.7 L640.7,693.0Z" fill="#5a61b9" stroke="#434898" stroke-width="0.6" stroke-linejoin="round"/>
<path d="M634.7,666.1 L633.4,667.0 L632.0,667.6 L630.7,667.6 L629.5,667.2 L628.6,666.2 L628.6,666.1 L627.3,663.2 L627.4,663.7 L627.5,662.8 L628.2,662.1 L629.1,661.2 L630.3,660.2 L631.6,659.1Z M641.6,667.7 L641.9,669.9 L641.7,671.9 L641.1,673.7 L640.0,675.2 L638.8,676.4 L637.4,677.2 L636.0,677.6 L634.7,677.5 L633.7,676.9 L632.7,675.5 L633.3,676.2 L631.7,672.6 L632.1,674.1 L631.9,673.1 L632.4,672.3 L633.2,671.5 L634.4,670.5 L635.6,669.5 L636.9,668.3 L638.1,667.1 L639.1,666.0 L639.7,665.1 L640.1,664.5Z M645.4,676.0 L646.2,678.5 L646.4,680.6 L646.0,682.5 L645.2,684.2 L644.1,685.6 L642.8,686.7 L641.4,687.4 L640.0,687.6 L638.8,687.3 L637.8,686.5 L637.3,685.7 L636.4,683.6 L636.4,683.3 L636.7,682.5 L637.4,681.7 L638.4,680.8 L639.7,679.8 L641.0,678.7 L642.2,677.5 L643.3,676.4 L644.0,675.3 L644.5,674.6 L644.7,674.4Z M650.3,686.9 L650.8,689.2 L650.8,691.2 L650.3,693.1 L649.4,694.7 L648.2,696.0 L646.8,696.9 L645.4,697.4 L644.1,697.5 L642.9,697.1 L642.0,696.1 L642.0,696.0 L640.7,693.0 L640.9,693.6 L641.0,692.7 L641.6,692.0 L642.5,691.1 L643.7,690.1 L645.0,689.0 L646.3,687.9 L647.4,686.7 L648.3,685.6 L648.9,684.8 L649.1,684.3Z M655.0,697.7 L655.4,699.8 L655.2,701.8 L654.5,703.6 L653.5,705.1 L652.2,706.3 L649.1,699.4 L650.3,698.2 L651.5,697.0 L652.5,695.9 L653.2,695.0 L653.5,694.3Z" fill="#7d84d8" stroke="#434898" stroke-width="0.7" stroke-linejoin="round"/>
<path d="M633.5,663.2 L632.1,664.2 L630.8,664.9 L629.6,665.2 L628.6,665.1 L627.9,664.7 L627.8,664.4 L627.3,663.3 L627.4,663.7 L627.8,663.4 L628.6,663.0 L629.6,662.3 L630.9,661.5 L632.2,660.4Z M640.8,666.0 L640.9,667.7 L640.6,669.4 L639.8,671.0 L638.8,672.4 L637.5,673.6 L636.1,674.4 L634.8,675.0 L633.7,675.2 L632.8,675.0 L632.2,674.3 L632.4,674.4 L631.8,672.9 L631.9,673.7 L632.1,673.4 L632.7,673.1 L633.7,672.5 L634.9,671.8 L636.2,670.8 L637.5,669.6 L638.6,668.3 L639.5,667.0 L640.1,665.8 L640.2,664.7Z M644.9,674.7 L645.4,676.5 L645.3,678.2 L644.8,679.9 L644.0,681.4 L642.8,682.8 L641.5,683.9 L640.2,684.6 L638.9,685.0 L637.8,685.1 L637.0,684.8 L636.7,684.3 L636.3,683.5 L636.5,683.5 L637.0,683.2 L637.8,682.7 L639.0,682.0 L640.3,681.1 L641.6,680.0 L642.8,678.7 L643.7,677.4 L644.4,676.1 L644.7,675.0 L644.6,674.1Z M649.6,685.3 L649.9,687.1 L649.7,688.8 L649.1,690.4 L648.1,691.9 L646.9,693.1 L645.5,694.1 L644.2,694.8 L643.0,695.1 L642.0,695.0 L641.3,694.5 L641.3,694.3 L640.7,693.1 L640.9,693.5 L641.2,693.3 L642.0,692.9 L643.0,692.2 L644.3,691.4 L645.6,690.3 L646.9,689.1 L647.9,687.8 L648.7,686.5 L649.1,685.3 L649.1,684.3Z M654.2,695.9 L654.4,697.6 L654.0,699.3 L653.3,700.9 L652.2,702.3 L650.9,703.5 L649.6,700.7 L650.9,699.5 L652.1,698.2 L652.9,696.9 L653.5,695.7 L653.6,694.6Z" fill="#b3b7f2" transform="translate(1.04,-0.47)" opacity="0.85"/>
<path d="M612,682 L638,688 L637,684 L648,692 L636,698 L636,694 L611,689 Z" fill="#7d84d8" stroke="#434898" stroke-width="0.8" stroke-linejoin="round"/>
<path d="M613,683.5 L637,689" stroke="#b3b7f2" stroke-width="1.2"/>
<path d="M581.4,684.5 L582.0,685.5 L582.7,685.9 L583.6,686.1 L584.8,686.1 L586.3,686.0 L587.9,685.9 L589.6,685.8 L591.4,685.7 L593.2,685.6 L594.9,685.6 L596.5,685.7 L597.9,685.9 L599.1,686.1 L599.9,686.3 L600.4,686.4 L600.7,687.0 L599.8,684.5 L599.1,682.7 L597.9,680.6 L596.6,678.9 L595.0,677.6 L593.3,676.6 L591.5,676.0 L589.6,675.6 L587.8,675.5 L586.0,675.7 L584.4,676.1 L583.0,676.7 L581.9,677.5 L581.0,678.5 L580.5,679.7 L580.4,681.0 L580.8,682.8Z M586.9,700.1 L587.5,700.8 L588.3,701.1 L589.3,701.2 L590.6,701.1 L592.1,701.0 L593.8,700.9 L595.5,700.8 L597.3,700.7 L599.1,700.7 L600.8,700.7 L602.3,700.8 L603.6,701.0 L604.7,701.2 L605.4,701.4 L605.7,701.4 L606.3,703.1 L605.0,699.5 L604.8,698.7 L603.7,696.4 L602.4,694.6 L600.9,693.1 L599.2,692.0 L597.5,691.2 L595.6,690.7 L593.7,690.5 L591.9,690.6 L590.3,691.0 L588.8,691.5 L587.5,692.3 L586.5,693.2 L585.9,694.3 L585.7,695.5 L585.8,697.0Z M592.4,715.5 L593.0,716.0 L593.9,716.2 L595.0,716.2 L596.4,716.2 L598.0,716.1 L599.7,715.9 L601.4,715.8 L603.2,715.7 L605.0,715.7 L606.6,715.8 L608.1,715.9 L609.3,716.1 L606.7,708.7 L605.1,707.5 L603.4,706.6 L601.6,705.9 L599.7,705.6 L597.9,705.6 L596.1,705.9 L594.6,706.4 L593.2,707.1 L592.1,707.9 L591.4,709.0 L591.0,710.1 L591.0,711.5Z" fill="#5a61b9" stroke="#434898" stroke-width="0.6" stroke-linejoin="round"/>
<path d="M591.2,686.0 L589.7,687.0 L588.1,687.6 L586.6,687.9 L585.2,687.9 L584.0,687.6 L582.9,687.0 L582.1,686.0 L581.4,684.5 L580.8,682.8 L580.6,681.8 L580.8,681.0 L581.4,680.3 L582.3,679.5 L583.4,678.7 L584.7,677.8 L586.1,676.9 L587.6,675.9Z M600.7,687.0 L601.3,689.6 L601.5,691.8 L601.2,693.8 L600.7,695.8 L599.8,697.5 L598.7,699.1 L597.3,700.4 L595.9,701.5 L594.4,702.3 L592.9,702.8 L591.4,703.0 L590.0,702.9 L588.9,702.5 L587.9,701.7 L587.1,700.5 L586.9,700.1 L585.8,697.0 L585.9,697.2 L586.0,696.3 L586.4,695.6 L587.2,694.9 L588.3,694.1 L589.5,693.2 L590.9,692.3 L592.3,691.3 L593.8,690.2 L595.2,689.2 L596.5,688.1 L597.6,687.0 L598.5,686.1 L599.2,685.3 L599.6,684.7 L599.8,684.5Z M606.3,703.1 L606.7,705.5 L606.7,707.6 L606.3,709.6 L605.6,711.5 L604.7,713.2 L603.5,714.6 L602.1,715.9 L600.6,716.9 L599.1,717.6 L597.6,718.0 L596.2,718.1 L594.9,717.9 L593.7,717.3 L592.8,716.4 L592.0,714.9 L592.4,715.5 L591.0,711.5 L591.3,712.8 L591.2,711.7 L591.5,710.9 L592.2,710.2 L593.1,709.4 L594.3,708.6 L595.6,707.7 L597.1,706.7 L598.5,705.7 L600.0,704.6 L601.3,703.5 L602.5,702.5 L603.5,701.5 L604.2,700.6 L604.7,699.9 L605.0,699.5Z" fill="#7d84d8" stroke="#434898" stroke-width="0.7" stroke-linejoin="round"/>
<path d="M589.7,681.8 L588.2,682.8 L586.7,683.5 L585.3,684.0 L584.0,684.2 L582.8,684.2 L581.9,684.0 L581.2,683.5 L580.8,682.8 L580.6,682.1 L580.6,681.9 L581.1,681.6 L581.8,681.3 L582.8,680.9 L584.0,680.3 L585.3,679.6 L586.8,678.7 L588.3,677.7Z M600.0,685.1 L600.4,686.9 L600.4,688.7 L600.0,690.3 L599.3,692.0 L598.4,693.5 L597.2,694.9 L595.9,696.2 L594.4,697.2 L592.9,698.1 L591.4,698.8 L590.0,699.2 L588.8,699.3 L587.7,699.3 L586.9,698.9 L586.3,698.3 L586.2,698.0 L585.7,696.8 L585.8,697.0 L586.1,696.8 L586.8,696.5 L587.7,696.1 L588.8,695.6 L590.1,694.9 L591.5,694.1 L593.0,693.2 L594.4,692.1 L595.8,691.0 L597.1,689.7 L598.1,688.5 L598.9,687.2 L599.5,686.0 L599.7,685.0 L599.7,684.1Z M605.5,700.9 L605.7,702.6 L605.5,704.3 L605.1,706.0 L604.3,707.6 L603.3,709.1 L602.0,710.5 L600.6,711.7 L599.1,712.7 L597.6,713.4 L596.2,714.0 L594.8,714.3 L593.6,714.4 L592.7,714.2 L591.9,713.8 L591.4,713.1 L591.5,713.1 L591.0,711.5 L591.1,712.2 L591.3,711.9 L591.8,711.7 L592.6,711.3 L593.6,710.9 L594.9,710.3 L596.3,709.5 L597.7,708.6 L599.2,707.6 L600.6,706.5 L601.9,705.3 L603.0,704.0 L603.9,702.8 L604.6,701.5 L604.9,700.4 L605.0,699.4Z" fill="#b3b7f2" transform="translate(1.64,-0.57)" opacity="0.85"/>
<path d="M604.5,702.9 L605.2,703.1 L606.2,702.9 L607.3,702.5 L608.7,702.0 L610.1,701.3 L611.7,700.6 L613.4,700.0 L615.0,699.4 L616.5,698.9 L617.9,698.6 L619.1,698.4 L619.9,698.4 L620.3,698.3 L621.2,699.6 L619.0,696.8 L618.4,696.0 L616.6,694.3 L614.8,693.1 L613.0,692.4 L611.0,692.1 L609.1,692.1 L607.3,692.4 L605.6,693.0 L604.2,693.9 L603.0,694.9 L602.1,696.0 L601.6,697.2 L601.5,698.4 L601.9,699.7Z M612.9,713.7 L613.7,714.2 L614.6,714.2 L615.6,713.9 L616.8,713.5 L618.2,712.8 L619.8,712.2 L621.4,711.5 L623.0,710.9 L624.6,710.3 L626.1,709.9 L627.4,709.7 L628.4,709.6 L629.1,709.5 L629.1,709.3 L628.2,708.2 L626.3,706.1 L624.6,704.8 L622.7,703.9 L620.8,703.3 L618.9,703.2 L617.0,703.4 L615.3,703.9 L613.7,704.6 L612.4,705.6 L611.4,706.6 L610.7,707.8 L610.4,709.0 L610.5,710.2 L611.2,711.6Z" fill="#5a61b9" stroke="#434898" stroke-width="0.6" stroke-linejoin="round"/>
<path d="M612.4,700.7 L611.3,702.0 L610.1,703.1 L608.8,703.8 L607.5,704.1 L606.3,704.1 L605.1,703.6 L603.9,702.4 L604.5,702.9 L601.9,699.7 L602.6,700.9 L602.2,699.9 L602.3,699.1 L602.7,698.1 L603.4,697.1 L604.3,695.9 L605.3,694.5 L606.3,693.1Z M621.2,699.6 L622.4,701.6 L623.0,703.6 L623.2,705.6 L623.1,707.6 L622.6,709.4 L621.8,711.1 L620.8,712.5 L619.7,713.7 L618.4,714.6 L617.1,715.1 L615.8,715.3 L614.6,715.1 L613.5,714.3 L612.9,713.7 L611.2,711.6 L611.2,711.4 L611.1,710.6 L611.4,709.7 L612.0,708.7 L612.8,707.6 L613.7,706.3 L614.7,704.9 L615.8,703.5 L616.7,702.0 L617.5,700.6 L618.2,699.3 L618.6,698.2 L618.9,697.3 L619.0,696.8Z M629.1,709.3 L630.7,711.7 L631.6,713.7 L632.1,715.7 L632.1,717.7 L631.8,719.6 L631.2,721.3 L630.3,722.9 L629.2,724.2 L628.0,725.3 L626.7,726.0 L625.5,726.4 L624.2,726.4 L623.1,725.9 L621.9,724.9 L620.4,723.0 L620.0,722.1 L620.1,721.3 L620.6,720.4 L621.3,719.3 L622.2,718.1 L623.2,716.7 L624.2,715.3 L625.2,713.8 L626.1,712.4 L626.8,711.0 L627.4,709.8 L627.7,708.8 L627.9,708.1 L628.2,708.2Z" fill="#7d84d8" stroke="#434898" stroke-width="0.7" stroke-linejoin="round"/>
<path d="M609.9,697.6 L608.8,698.9 L607.6,700.1 L606.5,700.9 L605.4,701.5 L604.4,701.7 L603.5,701.6 L602.8,701.1 L603.0,701.1 L601.9,699.8 L602.3,700.5 L602.3,700.1 L602.8,699.7 L603.5,699.1 L604.3,698.2 L605.3,697.2 L606.4,695.9 L607.4,694.5Z M619.9,697.9 L620.6,699.5 L621.0,701.1 L621.0,702.9 L620.7,704.6 L620.1,706.3 L619.3,707.9 L618.3,709.4 L617.2,710.6 L616.0,711.6 L614.9,712.3 L613.8,712.8 L612.9,712.9 L612.1,712.6 L611.7,712.2 L611.1,711.4 L611.2,711.4 L611.5,711.1 L612.0,710.5 L612.8,709.8 L613.8,708.8 L614.8,707.7 L615.9,706.3 L616.9,704.9 L617.8,703.4 L618.5,701.8 L619.0,700.3 L619.3,698.9 L619.3,697.7 L619.0,696.8Z M628.2,708.1 L629.2,709.7 L629.8,711.4 L630.0,713.1 L629.8,714.8 L629.4,716.5 L628.7,718.2 L627.8,719.7 L626.7,721.1 L625.6,722.3 L624.4,723.1 L623.3,723.7 L622.3,724.0 L621.4,723.9 L620.7,723.5 L620.1,722.7 L620.2,722.4 L620.7,722.0 L621.4,721.3 L622.3,720.4 L623.3,719.4 L624.3,718.1 L625.4,716.7 L626.3,715.2 L627.1,713.7 L627.7,712.1 L628.1,710.7 L628.2,709.4 L628.1,708.3 L627.8,707.7Z" fill="#b3b7f2" transform="translate(1.20,-0.96)" opacity="0.85"/>
<path d="M615.6,721.0 L616.3,721.1 L617.3,720.9 L618.5,720.5 L619.8,719.9 L621.3,719.3 L622.9,718.6 L624.5,717.9 L626.2,717.3 L627.7,716.8 L629.1,716.5 L630.2,716.3 L631.0,716.3 L631.3,716.2 L632.4,717.7 L630.1,714.8 L629.6,714.1 L627.8,712.4 L626.0,711.2 L624.1,710.4 L622.2,710.1 L620.3,710.1 L618.4,710.4 L616.7,711.0 L615.3,711.8 L614.0,712.8 L613.2,714.0 L612.6,715.2 L612.5,716.4 L612.9,717.7Z M624.2,731.8 L625.0,732.2 L625.9,732.1 L627.0,731.8 L628.2,731.3 L629.7,730.6 L631.2,729.9 L632.9,729.2 L634.5,728.6 L636.1,728.1 L637.5,727.7 L638.8,727.5 L639.7,727.4 L640.3,727.3 L640.8,727.9 L639.1,725.8 L637.9,724.4 L636.1,722.9 L634.3,721.9 L632.4,721.3 L630.4,721.1 L628.5,721.2 L626.7,721.7 L625.1,722.4 L623.7,723.3 L622.7,724.4 L621.9,725.5 L621.5,726.8 L621.6,728.0 L622.2,729.3Z M632.8,742.5 L633.7,743.2 L634.5,743.3 L635.5,743.0 L636.7,742.6 L638.1,742.0 L639.6,741.3 L641.2,740.6 L642.9,739.9 L644.5,739.4 L646.0,738.9 L647.3,738.6 L648.4,738.5 L649.1,738.4 L649.2,738.2 L650.7,740.3 L648.0,737.0 L648.1,736.8 L646.2,734.8 L644.4,733.5 L642.5,732.7 L640.6,732.3 L638.7,732.2 L636.8,732.5 L635.1,733.0 L633.5,733.8 L632.3,734.8 L631.3,735.9 L630.7,737.1 L630.5,738.3 L630.8,739.6 L631.7,741.1Z" fill="#5a61b9" stroke="#434898" stroke-width="0.6" stroke-linejoin="round"/>
<path d="M623.4,718.7 L622.3,720.0 L621.1,721.1 L619.8,721.8 L618.5,722.1 L617.3,722.1 L616.1,721.6 L614.9,720.3 L615.6,721.0 L612.9,717.7 L613.7,719.0 L613.2,717.9 L613.3,717.1 L613.7,716.2 L614.4,715.1 L615.3,713.9 L616.3,712.6 L617.3,711.1Z M632.4,717.7 L633.5,719.8 L634.1,721.8 L634.3,723.8 L634.1,725.7 L633.6,727.5 L632.8,729.2 L631.8,730.6 L630.6,731.8 L629.4,732.6 L628.1,733.1 L626.8,733.2 L625.6,732.9 L624.4,732.1 L624.2,731.8 L622.2,729.3 L622.4,729.5 L622.2,728.7 L622.4,727.9 L623.0,726.9 L623.8,725.7 L624.7,724.5 L625.7,723.1 L626.7,721.6 L627.6,720.1 L628.5,718.7 L629.1,717.4 L629.6,716.2 L629.9,715.3 L630.1,714.8Z M640.8,727.9 L642.2,730.0 L643.0,732.0 L643.3,734.0 L643.3,736.0 L642.9,737.9 L642.2,739.6 L641.2,741.1 L640.1,742.4 L638.9,743.4 L637.6,744.0 L636.3,744.3 L635.1,744.2 L633.9,743.6 L632.8,742.5 L631.7,741.1 L631.2,740.3 L631.3,739.5 L631.6,738.6 L632.3,737.5 L633.1,736.3 L634.1,735.0 L635.1,733.6 L636.1,732.1 L637.0,730.6 L637.8,729.2 L638.4,728.0 L638.8,726.9 L639.0,726.1 L639.1,725.8Z M650.7,740.3 L651.7,742.3 L652.2,744.3 L652.3,746.3 L647.0,739.8 L647.5,738.6 L647.9,737.6 L648.0,737.0Z" fill="#7d84d8" stroke="#434898" stroke-width="0.7" stroke-linejoin="round"/>
<path d="M620.9,715.6 L619.8,716.9 L618.7,718.1 L617.5,718.9 L616.4,719.5 L615.4,719.7 L614.6,719.6 L613.8,719.1 L614.1,719.1 L613.0,717.8 L613.4,718.5 L613.4,718.2 L613.8,717.7 L614.5,717.1 L615.3,716.3 L616.3,715.2 L617.4,713.9 L618.4,712.5Z M631.0,716.0 L631.7,717.6 L632.1,719.2 L632.1,721.0 L631.7,722.7 L631.1,724.4 L630.3,726.0 L629.3,727.5 L628.1,728.7 L627.0,729.7 L625.8,730.4 L624.8,730.7 L623.9,730.8 L623.1,730.5 L622.9,730.2 L622.1,729.2 L622.3,729.4 L622.5,729.1 L623.0,728.6 L623.8,727.9 L624.7,726.9 L625.8,725.8 L626.8,724.5 L627.8,723.0 L628.7,721.5 L629.5,719.9 L630.0,718.4 L630.3,717.0 L630.3,715.8 L630.1,714.8Z M639.6,726.4 L640.5,728.0 L641.0,729.6 L641.1,731.4 L640.9,733.1 L640.4,734.8 L639.7,736.5 L638.7,738.0 L637.6,739.3 L636.4,740.4 L635.3,741.2 L634.2,741.7 L633.2,741.9 L632.4,741.7 L631.8,741.2 L631.3,740.6 L631.4,740.4 L631.7,740.0 L632.3,739.4 L633.2,738.6 L634.1,737.6 L635.2,736.4 L636.2,735.0 L637.2,733.5 L638.1,731.9 L638.7,730.4 L639.1,728.9 L639.3,727.6 L639.2,726.4 L638.9,725.6Z M649.2,738.4 L649.9,740.1 L650.1,741.7 L650.0,743.5 L647.9,740.9 L648.3,739.4 L648.3,738.2 L648.1,737.1Z" fill="#b3b7f2" transform="translate(1.20,-0.97)" opacity="0.85"/>
<path d="M589.3,722.0 L589.8,722.7 L590.6,723.0 L591.6,723.2 L593.0,723.3 L594.5,723.4 L596.2,723.4 L597.9,723.5 L599.7,723.6 L601.4,723.8 L603.0,724.1 L604.4,724.4 L605.5,724.7 L606.3,725.0 L606.7,725.2 L607.0,726.3 L606.3,723.2 L606.0,721.8 L605.0,719.5 L603.9,717.7 L602.5,716.3 L600.9,715.1 L599.2,714.3 L597.4,713.7 L595.6,713.5 L593.9,713.6 L592.3,713.9 L590.9,714.4 L589.8,715.2 L589.0,716.2 L588.5,717.3 L588.5,718.8Z M592.7,736.6 L593.2,737.4 L593.9,737.7 L595.0,737.9 L596.3,738.0 L597.8,738.1 L599.5,738.1 L601.2,738.2 L603.0,738.3 L604.8,738.5 L606.3,738.8 L607.8,739.1 L608.9,739.4 L609.7,739.7 L610.2,739.9 L610.4,740.8 L609.8,738.0 L609.3,736.3 L608.4,734.1 L607.2,732.3 L605.8,730.9 L604.2,729.8 L602.5,728.9 L600.7,728.4 L598.9,728.2 L597.2,728.3 L595.6,728.6 L594.2,729.2 L593.1,730.0 L592.4,731.0 L592.0,732.1 L592.0,733.7Z M596.1,751.3 L596.6,752.1 L597.3,752.4 L598.4,752.7 L599.6,752.8 L601.2,752.8 L602.8,752.9 L604.6,752.9 L606.3,753.1 L608.1,753.2 L609.7,753.5 L611.1,753.8 L612.3,754.1 L613.1,754.4 L613.6,754.6 L613.8,755.3 L613.2,752.7 L612.7,750.9 L611.8,748.7 L610.6,747.0 L609.2,745.5 L607.6,744.4 L605.8,743.6 L604.0,743.1 L602.2,742.9 L600.5,743.0 L598.9,743.4 L597.6,744.0 L596.5,744.8 L595.8,745.8 L595.4,747.0 L595.4,748.5Z" fill="#5a61b9" stroke="#434898" stroke-width="0.6" stroke-linejoin="round"/>
<path d="M598.1,723.9 L596.5,724.6 L594.9,725.0 L593.4,725.1 L592.1,725.0 L590.9,724.5 L590.0,723.6 L589.3,722.3 L589.3,722.0 L588.5,718.8 L588.6,719.1 L588.7,718.2 L589.3,717.5 L590.2,716.9 L591.3,716.2 L592.7,715.5 L594.2,714.7 L595.7,713.9Z M607.0,726.3 L607.3,728.8 L607.1,730.9 L606.5,732.9 L605.6,734.6 L604.5,736.2 L603.1,737.5 L601.6,738.5 L600.1,739.3 L598.5,739.7 L597.0,739.9 L595.6,739.7 L594.5,739.2 L593.5,738.4 L592.8,737.2 L592.7,736.6 L592.0,733.7 L592.0,733.7 L592.2,732.9 L592.8,732.2 L593.7,731.6 L594.9,730.9 L596.2,730.2 L597.7,729.4 L599.3,728.5 L600.8,727.6 L602.3,726.7 L603.6,725.8 L604.6,724.9 L605.5,724.1 L606.0,723.5 L606.3,723.2Z M610.4,740.8 L610.7,743.3 L610.5,745.5 L610.0,747.5 L609.2,749.2 L608.0,750.8 L606.7,752.1 L605.2,753.2 L603.6,753.9 L602.0,754.4 L600.5,754.6 L599.2,754.4 L598.0,754.0 L597.0,753.2 L596.3,752.0 L596.1,751.3 L595.4,748.5 L595.5,748.4 L595.7,747.6 L596.3,746.9 L597.2,746.3 L598.4,745.6 L599.8,744.8 L601.3,744.0 L602.8,743.2 L604.4,742.3 L605.8,741.3 L607.1,740.4 L608.2,739.5 L609.0,738.8 L609.5,738.2 L609.8,738.0Z M613.8,755.3 L614.1,757.9 L614.0,760.1 L613.5,762.0 L612.7,763.8 L611.6,765.4 L610.2,766.8 L608.7,767.8 L607.2,768.6 L605.6,769.1 L604.1,769.3 L602.7,769.2 L601.5,768.8 L600.5,768.0 L599.2,762.2 L599.8,761.6 L600.8,760.9 L602.0,760.2 L603.3,759.5 L604.8,758.7 L606.4,757.8 L607.9,756.9 L609.3,756.0 L610.6,755.1 L611.7,754.2 L612.5,753.4 L613.0,752.8 L613.2,752.7Z" fill="#7d84d8" stroke="#434898" stroke-width="0.7" stroke-linejoin="round"/>
<path d="M597.1,719.7 L595.5,720.5 L594.0,721.0 L592.5,721.3 L591.3,721.4 L590.2,721.2 L589.4,720.9 L588.8,720.2 L588.8,719.9 L588.5,718.6 L588.5,718.9 L588.9,718.7 L589.5,718.5 L590.5,718.2 L591.7,717.8 L593.1,717.2 L594.6,716.5 L596.2,715.7Z M606.5,724.2 L606.6,726.0 L606.3,727.7 L605.7,729.3 L604.7,730.8 L603.6,732.2 L602.2,733.4 L600.7,734.4 L599.1,735.2 L597.5,735.7 L596.1,736.0 L594.8,736.1 L593.7,736.0 L592.9,735.6 L592.3,735.0 L592.2,734.6 L591.9,733.4 L592.0,733.6 L592.3,733.4 L593.0,733.2 L594.0,732.9 L595.2,732.5 L596.7,731.9 L598.2,731.2 L599.7,730.4 L601.2,729.4 L602.7,728.4 L603.9,727.3 L604.9,726.1 L605.7,725.0 L606.1,723.9 L606.3,723.0Z M610.0,738.8 L610.1,740.6 L609.8,742.3 L609.2,743.9 L608.3,745.4 L607.1,746.8 L605.7,748.0 L604.2,749.0 L602.7,749.8 L601.1,750.4 L599.6,750.7 L598.3,750.8 L597.2,750.7 L596.4,750.4 L595.8,749.8 L595.6,749.3 L595.4,748.2 L595.5,748.3 L595.8,748.1 L596.5,747.9 L597.5,747.6 L598.8,747.1 L600.2,746.6 L601.7,745.9 L603.3,745.0 L604.8,744.1 L606.2,743.0 L607.4,741.9 L608.4,740.8 L609.2,739.6 L609.6,738.6 L609.7,737.7Z M613.4,753.4 L613.5,755.2 L613.3,756.9 L612.7,758.5 L611.8,760.1 L610.6,761.4 L609.3,762.7 L607.8,763.7 L606.2,764.5 L604.7,765.1 L603.2,765.5 L601.8,765.6 L600.7,765.5 L599.9,765.1 L599.3,762.8 L600.0,762.6 L601.1,762.3 L602.3,761.8 L603.8,761.2 L605.3,760.5 L606.8,759.7 L608.3,758.7 L609.7,757.7 L611.0,756.6 L611.9,755.4 L612.7,754.3 L613.1,753.2 L613.1,752.4Z" fill="#b3b7f2" transform="translate(1.60,-0.37)" opacity="0.85"/>
<path d="M607.7,743.8 L608.5,744.0 L609.5,743.8 L610.7,743.4 L612.1,742.8 L613.7,742.1 L615.3,741.5 L617.0,741.0 L618.5,740.6 L619.8,740.3 L620.9,740.2 L621.5,740.2 L622.0,740.7 L620.5,738.7 L619.3,737.2 L617.5,735.8 L615.7,734.9 L613.8,734.4 L611.9,734.3 L610.0,734.6 L608.4,735.3 L607.0,736.1 L606.0,737.2 L605.3,738.3 L605.1,739.6 L605.4,740.8Z M615.4,753.8 L616.2,754.0 L617.2,753.8 L618.4,753.3 L619.9,752.7 L621.4,752.1 L623.1,751.5 L624.7,750.9 L626.2,750.5 L627.6,750.3 L628.6,750.2 L629.2,750.2 L629.8,750.8 L628.2,748.7 L627.0,747.3 L625.3,745.8 L623.4,744.9 L621.5,744.4 L619.6,744.3 L617.8,744.6 L616.1,745.2 L614.7,746.1 L613.7,747.1 L613.0,748.3 L612.8,749.5 L613.1,750.8Z M623.1,763.8 L623.9,764.0 L624.9,763.7 L626.2,763.3 L627.6,762.7 L629.2,762.1 L630.8,761.5 L632.4,760.9 L634.0,760.5 L629.3,754.4 L627.4,754.3 L625.5,754.6 L623.9,755.2 L622.5,756.0 L621.4,757.1 L620.7,758.2 L620.5,759.4 L620.7,760.7Z" fill="#5a61b9" stroke="#434898" stroke-width="0.6" stroke-linejoin="round"/>
<path d="M614.7,742.1 L613.5,743.3 L612.3,744.3 L611.0,744.8 L609.7,744.9 L608.6,744.6 L607.4,743.6 L607.7,743.8 L605.4,740.8 L605.9,741.7 L605.7,740.8 L605.9,740.0 L606.5,739.0 L607.3,737.8 L608.3,736.6 L609.4,735.2Z M622.0,740.7 L623.3,742.9 L623.9,744.9 L624.1,746.9 L623.9,748.8 L623.2,750.6 L622.3,752.1 L621.2,753.4 L619.9,754.3 L618.6,754.8 L617.4,754.9 L616.2,754.5 L615.0,753.5 L615.4,753.8 L613.1,750.8 L613.7,751.7 L613.3,750.8 L613.6,750.0 L614.2,749.0 L615.0,747.9 L616.0,746.6 L617.0,745.2 L618.0,743.8 L618.9,742.3 L619.6,741.0 L620.1,739.9 L620.4,739.0 L620.5,738.7Z M629.8,750.8 L631.0,752.9 L631.6,754.9 L631.8,756.9 L631.5,758.8 L630.9,760.6 L630.0,762.1 L628.8,763.4 L627.6,764.3 L626.3,764.8 L625.0,764.9 L623.8,764.5 L622.7,763.4 L623.1,763.8 L620.7,760.7 L621.4,761.8 L621.0,760.8 L621.2,760.0 L621.8,759.0 L622.6,757.9 L623.6,756.6 L624.7,755.2 L625.7,753.8 L626.5,752.4 L627.3,751.0 L627.8,749.9 L628.0,749.1 L628.2,748.7Z" fill="#7d84d8" stroke="#434898" stroke-width="0.7" stroke-linejoin="round"/>
<path d="M612.5,739.2 L611.4,740.5 L610.2,741.6 L609.1,742.3 L608.0,742.7 L607.1,742.7 L606.4,742.2 L606.4,742.1 L605.5,740.9 L605.8,741.5 L605.9,741.2 L606.5,740.7 L607.3,740.0 L608.2,739.0 L609.3,737.8 L610.4,736.5Z M621.0,739.3 L621.8,740.9 L622.2,742.6 L622.2,744.3 L621.8,746.1 L621.1,747.7 L620.1,749.3 L619.0,750.6 L617.9,751.6 L616.7,752.3 L615.6,752.7 L614.7,752.7 L614.0,752.2 L614.1,752.1 L613.2,750.9 L613.5,751.5 L613.6,751.2 L614.1,750.7 L614.9,750.0 L615.9,749.0 L616.9,747.8 L618.0,746.5 L619.0,745.0 L619.8,743.5 L620.4,742.0 L620.7,740.6 L620.6,739.4 L620.4,738.5Z M628.7,749.4 L629.5,751.0 L629.9,752.7 L629.8,754.4 L629.4,756.1 L628.7,757.8 L627.8,759.3 L626.7,760.6 L625.5,761.6 L624.3,762.3 L623.3,762.7 L622.4,762.6 L621.7,762.2 L621.8,762.1 L620.9,760.9 L621.2,761.5 L621.3,761.2 L621.8,760.7 L622.6,760.0 L623.5,759.0 L624.6,757.9 L625.7,756.5 L626.6,755.1 L627.4,753.5 L628.0,752.0 L628.3,750.6 L628.3,749.4 L628.1,748.5Z" fill="#b3b7f2" transform="translate(1.06,-0.82)" opacity="0.85"/>
<path d="M640.0,700.0 C641.3,698.7 646.0,694.7 648.0,692.0 C650.0,689.3 651.3,685.3 652.0,684.0" fill="none" stroke="#434898" stroke-width="2.2" stroke-linecap="round" stroke-linejoin="round"/><path d="M640.0,700.0 C641.3,698.7 646.0,694.7 648.0,692.0 C650.0,689.3 651.3,685.3 652.0,684.0" fill="none" stroke="#7d84d8" stroke-width="1.3" stroke-linecap="round" stroke-linejoin="round"/>
<path d="M632.0,748.0 C633.3,746.2 637.3,739.5 640.0,737.0 C642.7,734.5 646.7,733.7 648.0,733.0" fill="none" stroke="#434898" stroke-width="2.2" stroke-linecap="round" stroke-linejoin="round"/><path d="M632.0,748.0 C633.3,746.2 637.3,739.5 640.0,737.0 C642.7,734.5 646.7,733.7 648.0,733.0" fill="none" stroke="#7d84d8" stroke-width="1.3" stroke-linecap="round" stroke-linejoin="round"/>
<path d="M549.1,660.2 L549.3,661.3 L549.8,662.0 L550.6,662.5 L551.6,662.9 L552.9,663.4 L554.3,663.8 L555.9,664.3 L557.6,664.8 L559.3,665.3 L561.0,665.9 L562.6,666.5 L564.1,667.2 L565.4,667.8 L566.5,668.5 L567.4,669.0 L567.9,669.5 L568.2,669.6 L568.2,671.1 L568.3,667.4 L568.3,666.3 L568.1,663.8 L567.6,661.6 L566.8,659.7 L565.7,658.0 L564.4,656.5 L563.0,655.3 L561.4,654.3 L559.7,653.5 L558.0,653.0 L556.3,652.7 L554.7,652.7 L553.2,652.9 L551.9,653.4 L550.8,654.1 L550.0,655.0 L549.5,656.2 L549.2,657.9Z M548.7,678.7 L549.1,679.5 L549.8,680.0 L550.8,680.4 L552.0,680.9 L553.4,681.3 L555.0,681.8 L556.6,682.3 L558.3,682.8 L560.0,683.4 L561.7,684.0 L563.2,684.6 L564.5,685.3 L565.7,685.9 L566.6,686.5 L567.3,687.0 L567.6,687.2 L567.7,687.9 L567.8,685.2 L567.8,683.2 L567.5,680.8 L566.9,678.7 L566.0,676.9 L564.9,675.2 L563.5,673.8 L562.0,672.6 L560.4,671.7 L558.7,671.0 L557.0,670.5 L555.3,670.3 L553.7,670.4 L552.3,670.6 L551.1,671.2 L550.1,671.9 L549.3,672.9 L548.8,674.2Z M548.1,696.1 L548.4,696.9 L549.0,697.5 L550.0,698.0 L551.1,698.4 L552.5,698.8 L554.0,699.3 L555.6,699.8 L557.3,700.3 L559.0,700.9 L560.7,701.5 L562.3,702.1 L563.7,702.8 L564.9,703.4 L565.9,704.0 L566.6,704.5 L567.0,704.9 L567.2,704.5 L567.2,703.2 L567.2,700.1 L566.8,697.9 L566.1,695.8 L565.2,694.1 L564.0,692.5 L562.6,691.1 L561.0,690.0 L559.4,689.1 L557.7,688.5 L556.0,688.1 L554.3,687.9 L552.8,688.0 L551.4,688.4 L550.2,689.0 L549.3,689.8 L548.6,690.8 L548.2,692.2Z M547.5,713.4 L547.8,714.4 L548.3,715.0 L549.1,715.5 L550.2,715.9 L551.5,716.3 L553.0,716.8 L554.6,717.3 L556.3,717.8 L558.0,718.3 L559.7,718.9 L561.3,719.6 L562.8,720.2 L564.0,720.9 L565.1,721.5 L565.9,722.0 L566.4,722.4 L566.6,722.4 L566.5,724.5 L566.6,720.3 L566.7,719.8 L566.5,717.1 L566.1,714.9 L565.3,713.0 L564.3,711.2 L563.1,709.7 L561.7,708.4 L560.1,707.4 L558.4,706.5 L556.7,706.0 L555.0,705.6 L553.4,705.6 L551.9,705.7 L550.5,706.1 L549.4,706.8 L548.5,707.6 L547.9,708.8 L547.6,710.3Z M547.0,730.6 L547.1,731.8 L547.6,732.5 L548.4,733.0 L549.4,733.4 L550.6,733.9 L552.1,734.3 L553.7,734.8 L555.3,735.3 L557.0,735.8 L558.7,736.4 L560.4,737.0 L561.8,737.7 L563.2,738.3 L564.3,739.0 L565.1,739.5 L565.7,740.0 L566.0,740.1 L566.0,741.4 L566.1,738.0 L566.1,736.7 L565.9,734.2 L565.4,732.0 L564.6,730.1 L563.5,728.5 L562.2,727.0 L560.7,725.8 L559.1,724.8 L557.4,724.0 L555.7,723.5 L554.0,723.2 L552.4,723.2 L551.0,723.5 L549.7,723.9 L548.6,724.6 L547.8,725.5 L547.3,726.7 L547.0,728.6Z M546.5,749.2 L546.9,750.0 L547.6,750.5 L548.5,750.9 L549.7,751.4 L551.1,751.8 L552.7,752.3 L554.3,752.8 L556.1,753.3 L556.4,741.5 L554.7,741.0 L553.0,740.8 L551.5,740.9 L550.1,741.2 L548.8,741.7 L547.8,742.5 L547.1,743.5 L546.6,744.8Z" fill="#5a61b9" stroke="#434898" stroke-width="0.6" stroke-linejoin="round"/>
<path d="M558.7,665.5 L556.9,665.9 L555.3,665.9 L553.7,665.8 L552.3,665.4 L551.2,664.8 L550.2,663.9 L549.6,662.9 L549.2,661.5 L549.1,660.2 L549.2,657.9 L549.3,657.2 L549.8,656.5 L550.5,656.0 L551.4,655.6 L552.6,655.2 L554.1,654.9 L555.6,654.5 L557.3,654.1 L559.0,653.7Z M568.2,671.1 L567.8,673.5 L567.1,675.6 L566.1,677.4 L564.9,679.0 L563.5,680.4 L562.0,681.5 L560.3,682.4 L558.6,683.0 L556.9,683.4 L555.2,683.6 L553.6,683.5 L552.1,683.1 L550.9,682.6 L549.9,681.8 L549.2,680.8 L548.7,679.6 L548.6,677.6 L548.7,678.7 L548.8,674.2 L548.7,675.9 L548.9,674.6 L549.4,674.0 L550.1,673.5 L551.2,673.1 L552.5,672.8 L553.9,672.4 L555.5,672.0 L557.2,671.7 L559.0,671.2 L560.7,670.7 L562.3,670.2 L563.9,669.7 L565.2,669.1 L566.4,668.5 L567.3,668.0 L567.9,667.6 L568.3,667.4Z M567.7,687.9 L567.4,690.5 L566.7,692.7 L565.9,694.6 L564.7,696.2 L563.4,697.7 L561.9,698.9 L560.2,699.8 L558.5,700.5 L556.8,701.0 L555.1,701.2 L553.4,701.1 L552.0,700.9 L550.7,700.4 L549.6,699.7 L548.8,698.7 L548.3,697.6 L548.0,696.0 L548.1,696.1 L548.2,692.2 L548.1,693.0 L548.4,692.0 L549.0,691.5 L549.9,691.0 L551.0,690.7 L552.3,690.3 L553.8,690.0 L555.4,689.6 L557.1,689.2 L558.9,688.7 L560.6,688.2 L562.2,687.7 L563.7,687.1 L565.0,686.6 L566.1,686.0 L567.0,685.5 L567.5,685.1 L567.8,685.2Z M567.2,704.5 L566.9,707.6 L566.4,709.8 L565.6,711.7 L564.5,713.5 L563.2,715.0 L561.7,716.2 L560.1,717.2 L558.4,718.0 L556.7,718.5 L555.0,718.8 L553.3,718.8 L551.8,718.6 L550.4,718.2 L549.3,717.5 L548.4,716.6 L547.8,715.5 L547.5,714.1 L547.5,713.4 L547.6,710.3 L547.6,710.3 L548.0,709.5 L548.7,709.0 L549.6,708.6 L550.7,708.2 L552.1,707.8 L553.7,707.5 L555.3,707.1 L557.0,706.7 L558.8,706.2 L560.5,705.7 L562.1,705.2 L563.5,704.6 L564.8,704.1 L565.8,703.5 L566.6,703.0 L567.1,702.7 L567.2,703.2Z M566.5,724.5 L566.0,726.9 L565.3,728.9 L564.3,730.7 L563.0,732.2 L561.6,733.5 L560.0,734.6 L558.3,735.5 L556.6,736.0 L554.9,736.4 L553.2,736.5 L551.6,736.3 L550.2,735.9 L549.0,735.3 L548.1,734.5 L547.4,733.5 L547.0,732.1 L547.0,730.6 L547.0,728.6 L547.2,727.7 L547.6,727.0 L548.3,726.5 L549.3,726.1 L550.5,725.7 L552.0,725.4 L553.5,725.0 L555.2,724.6 L557.0,724.2 L558.7,723.7 L560.4,723.2 L561.9,722.7 L563.3,722.1 L564.5,721.5 L565.5,721.0 L566.2,720.6 L566.6,720.3Z M566.0,741.4 L565.6,743.9 L564.9,746.0 L564.0,747.8 L562.8,749.5 L561.4,750.8 L559.9,752.0 L558.2,752.9 L556.5,753.5 L554.8,753.9 L553.1,754.1 L551.5,754.0 L550.0,753.7 L548.8,753.1 L547.8,752.4 L547.0,751.4 L546.5,750.2 L546.4,748.3 L546.5,749.2 L546.6,744.8 L546.5,746.3 L546.7,745.1 L547.2,744.5 L548.0,744.0 L549.1,743.6 L550.3,743.3 L551.8,742.9 L553.4,742.6 L555.1,742.2 L556.9,741.7 L558.6,741.2 L560.2,740.7 L561.8,740.2 L563.1,739.6 L564.3,739.0 L565.2,738.5 L565.8,738.1 L566.1,738.0Z" fill="#7d84d8" stroke="#434898" stroke-width="0.7" stroke-linejoin="round"/>
<path d="M558.8,660.6 L557.1,661.0 L555.4,661.1 L553.9,661.1 L552.5,661.0 L551.3,660.6 L550.3,660.2 L549.7,659.6 L549.3,658.9 L549.2,658.1 L549.2,657.2 L549.3,657.1 L549.7,657.0 L550.4,657.0 L551.4,657.0 L552.6,656.9 L554.0,656.8 L555.6,656.6 L557.2,656.3 L559.0,655.9Z M568.2,668.6 L567.9,670.4 L567.2,671.9 L566.3,673.4 L565.1,674.7 L563.7,675.8 L562.1,676.8 L560.5,677.5 L558.7,678.1 L557.0,678.5 L555.3,678.7 L553.7,678.8 L552.3,678.7 L551.0,678.4 L550.0,677.9 L549.3,677.4 L548.8,676.7 L548.7,675.7 L548.8,676.0 L548.8,674.2 L548.7,675.0 L548.9,674.7 L549.3,674.7 L550.1,674.6 L551.1,674.6 L552.4,674.5 L553.9,674.4 L555.5,674.1 L557.1,673.8 L558.9,673.4 L560.6,672.9 L562.3,672.2 L563.8,671.5 L565.2,670.7 L566.4,669.8 L567.3,668.9 L567.9,668.0 L568.3,667.2Z M567.7,685.7 L567.4,687.6 L566.9,689.2 L566.0,690.7 L564.9,692.0 L563.5,693.2 L562.0,694.2 L560.4,695.0 L558.7,695.6 L556.9,696.1 L555.2,696.3 L553.6,696.4 L552.1,696.3 L550.8,696.1 L549.7,695.7 L548.9,695.2 L548.3,694.5 L548.1,693.7 L548.2,693.6 L548.2,692.0 L548.2,692.5 L548.4,692.3 L549.0,692.3 L549.8,692.3 L550.9,692.2 L552.2,692.1 L553.7,691.9 L555.3,691.7 L557.1,691.3 L558.8,690.9 L560.5,690.3 L562.1,689.7 L563.7,688.9 L565.0,688.1 L566.1,687.2 L566.9,686.3 L567.5,685.4 L567.8,684.6Z M567.2,702.7 L567.0,704.7 L566.5,706.4 L565.7,707.9 L564.6,709.3 L563.3,710.5 L561.9,711.5 L560.3,712.4 L558.6,713.1 L556.8,713.6 L555.1,713.9 L553.4,714.0 L551.9,714.0 L550.6,713.8 L549.4,713.4 L548.5,713.0 L547.9,712.4 L547.6,711.6 L547.6,711.1 L547.6,709.9 L547.6,710.1 L548.0,709.9 L548.6,709.9 L549.5,709.9 L550.7,709.8 L552.1,709.7 L553.6,709.5 L555.2,709.2 L557.0,708.9 L558.7,708.4 L560.4,707.8 L562.0,707.1 L563.5,706.4 L564.8,705.5 L565.8,704.6 L566.6,703.7 L567.1,702.8 L567.2,702.2Z M566.5,721.9 L566.1,723.6 L565.4,725.2 L564.4,726.6 L563.2,727.8 L561.7,728.9 L560.2,729.8 L558.5,730.6 L556.7,731.1 L555.0,731.5 L553.3,731.7 L551.8,731.7 L550.4,731.5 L549.2,731.2 L548.2,730.7 L547.5,730.2 L547.1,729.4 L547.0,728.6 L547.0,727.8 L547.2,727.7 L547.6,727.6 L548.3,727.5 L549.3,727.5 L550.5,727.4 L551.9,727.3 L553.5,727.1 L555.1,726.8 L556.9,726.4 L558.6,725.9 L560.3,725.3 L561.9,724.6 L563.3,723.8 L564.5,722.9 L565.5,722.0 L566.2,721.1 L566.6,720.2Z M566.1,739.0 L565.7,740.8 L565.1,742.4 L564.1,743.8 L563.0,745.1 L561.6,746.3 L560.0,747.2 L558.4,748.0 L556.6,748.6 L554.9,749.0 L553.2,749.3 L551.6,749.3 L550.2,749.2 L548.9,748.9 L547.9,748.5 L547.1,748.0 L546.6,747.3 L546.5,746.4 L546.6,746.5 L546.6,744.7 L546.5,745.5 L546.7,745.3 L547.2,745.2 L548.0,745.2 L549.0,745.1 L550.3,745.0 L551.8,744.9 L553.4,744.6 L555.1,744.3 L556.8,743.9 L558.5,743.4 L560.2,742.7 L561.7,742.0 L563.1,741.2 L564.2,740.3 L565.1,739.4 L565.8,738.5 L566.1,737.7Z" fill="#b3b7f2" transform="translate(1.94,0.06)" opacity="0.85"/>
<path d="M567.8,637.3 L568.1,638.1 L568.8,638.7 L569.7,639.1 L570.8,639.5 L572.2,640.0 L573.7,640.4 L575.3,640.8 L577.0,641.3 L578.7,641.9 L580.4,642.4 L582.0,643.0 L583.5,643.7 L584.9,644.3 L586.0,644.9 L586.9,645.5 L587.5,645.9 L587.9,646.2 L587.9,646.8 L588.0,644.0 L587.9,642.0 L587.6,639.6 L587.0,637.5 L586.2,635.7 L585.0,634.0 L583.7,632.5 L582.2,631.3 L580.6,630.3 L578.9,629.5 L577.2,629.0 L575.5,628.7 L573.9,628.6 L572.4,628.8 L571.0,629.2 L569.8,629.8 L568.9,630.6 L568.2,631.7 L567.8,633.1Z M567.5,655.8 L567.8,656.6 L568.5,657.2 L569.4,657.6 L570.6,658.0 L571.9,658.5 L573.4,658.9 L575.0,659.3 L576.8,659.8 L578.5,660.4 L580.2,660.9 L581.8,661.5 L583.3,662.2 L584.6,662.8 L585.7,663.4 L586.6,664.0 L587.2,664.4 L587.6,664.6 L587.6,665.4 L587.6,662.5 L587.6,660.6 L587.3,658.2 L586.7,656.1 L585.9,654.2 L584.8,652.5 L583.5,651.1 L582.0,649.8 L580.4,648.8 L578.7,648.0 L577.0,647.5 L575.3,647.2 L573.6,647.1 L572.1,647.3 L570.7,647.7 L569.6,648.3 L568.6,649.1 L567.9,650.1 L567.5,651.5Z M567.2,674.4 L567.5,675.1 L568.2,675.7 L569.1,676.1 L570.3,676.5 L571.6,676.9 L573.2,677.4 L574.8,677.8 L576.5,678.3 L578.2,678.9 L579.9,679.4 L581.5,680.0 L583.0,680.7 L584.3,681.3 L585.4,681.9 L586.3,682.5 L586.9,682.9 L587.2,683.1 L587.3,684.0 L587.3,680.9 L587.3,679.2 L587.0,676.8 L586.4,674.7 L585.6,672.8 L584.5,671.1 L583.2,669.6 L581.7,668.4 L580.1,667.3 L578.4,666.5 L576.7,666.0 L575.0,665.7 L573.4,665.6 L571.8,665.7 L570.5,666.1 L569.3,666.7 L568.3,667.5 L567.6,668.5 L567.2,669.9Z M566.8,692.9 L567.2,693.6 L567.9,694.2 L568.9,694.6 L570.0,695.0 L571.4,695.4 L572.9,695.9 L574.6,696.3 L576.3,696.8 L578.0,697.4 L579.7,697.9 L581.3,698.5 L582.8,699.2 L584.1,699.8 L585.2,700.4 L586.0,701.0 L586.6,701.4 L586.9,701.6 L586.9,702.6 L587.0,699.4 L587.0,697.8 L586.7,695.4 L586.2,693.2 L585.3,691.3 L584.2,689.6 L583.0,688.2 L581.5,686.9 L579.9,685.9 L578.2,685.1 L576.5,684.5 L574.8,684.2 L573.1,684.1 L571.6,684.2 L570.2,684.6 L569.0,685.2 L568.1,685.9 L567.4,687.0 L566.9,688.3Z M566.5,711.4 L566.9,712.1 L567.6,712.7 L568.6,713.1 L569.8,713.5 L571.1,713.9 L572.7,714.4 L574.3,714.8 L576.0,715.3 L577.7,715.9 L579.4,716.4 L581.0,717.1 L582.5,717.7 L583.8,718.3 L584.9,718.9 L585.7,719.5 L586.3,719.9 L586.6,720.0 L586.6,721.3 L586.7,717.9 L586.7,716.4 L586.4,713.9 L585.9,711.8 L585.0,709.9 L584.0,708.2 L582.7,706.7 L581.2,705.4 L579.6,704.4 L578.0,703.6 L576.2,703.0 L574.5,702.6 L572.9,702.5 L571.3,702.7 L569.9,703.0 L568.7,703.6 L567.8,704.4 L567.1,705.4 L566.6,706.7Z M566.2,729.9 L566.6,730.6 L567.3,731.2 L568.3,731.6 L569.5,732.0 L570.9,732.4 L572.4,732.9 L574.1,733.3 L575.8,733.8 L577.5,734.4 L579.2,735.0 L580.8,735.6 L582.2,736.2 L583.5,736.8 L584.6,737.4 L585.4,738.0 L586.0,738.4 L586.3,738.5 L586.3,739.9 L586.3,736.3 L586.4,735.0 L586.1,732.5 L585.6,730.4 L584.8,728.5 L583.7,726.7 L582.4,725.2 L581.0,724.0 L579.4,722.9 L577.7,722.1 L576.0,721.5 L574.3,721.1 L572.6,721.0 L571.1,721.1 L569.7,721.5 L568.5,722.0 L567.5,722.8 L566.8,723.8 L566.3,725.1Z" fill="#5a61b9" stroke="#434898" stroke-width="0.6" stroke-linejoin="round"/>
<path d="M577.8,642.0 L576.1,642.4 L574.4,642.5 L572.8,642.4 L571.4,642.0 L570.2,641.5 L569.1,640.7 L568.4,639.7 L567.9,638.5 L567.7,636.8 L567.8,637.3 L567.8,633.1 L567.8,634.2 L568.0,633.1 L568.5,632.5 L569.3,632.0 L570.3,631.6 L571.6,631.3 L573.0,630.9 L574.6,630.5 L576.3,630.1 L578.0,629.7Z M587.9,646.8 L587.6,649.5 L587.1,651.6 L586.3,653.6 L585.2,655.3 L583.9,656.8 L582.4,658.1 L580.8,659.1 L579.1,659.9 L577.4,660.5 L575.7,660.9 L574.0,661.0 L572.4,660.8 L571.0,660.5 L569.8,659.9 L568.8,659.2 L568.0,658.2 L567.6,656.9 L567.4,655.2 L567.5,655.8 L567.5,651.5 L567.4,652.8 L567.6,651.7 L568.2,651.0 L568.9,650.5 L570.0,650.1 L571.2,649.8 L572.6,649.4 L574.2,649.0 L575.9,648.6 L577.6,648.2 L579.4,647.7 L581.0,647.1 L582.6,646.6 L584.1,646.0 L585.4,645.4 L586.4,644.9 L587.2,644.3 L587.7,644.0 L588.0,644.0Z M587.6,665.4 L587.3,668.0 L586.7,670.2 L585.9,672.1 L584.8,673.8 L583.5,675.3 L582.0,676.6 L580.4,677.6 L578.7,678.4 L577.0,679.0 L575.3,679.3 L573.6,679.4 L572.0,679.3 L570.6,678.9 L569.4,678.4 L568.4,677.6 L567.7,676.6 L567.2,675.4 L567.1,673.5 L567.2,674.4 L567.2,669.9 L567.1,671.4 L567.3,670.2 L567.8,669.5 L568.6,669.0 L569.6,668.6 L570.8,668.3 L572.2,667.9 L573.8,667.5 L575.5,667.1 L577.2,666.7 L579.0,666.2 L580.7,665.6 L582.2,665.1 L583.7,664.5 L585.0,663.9 L586.0,663.4 L586.9,662.8 L587.4,662.5 L587.6,662.5Z M587.3,684.0 L587.0,686.6 L586.4,688.8 L585.5,690.7 L584.4,692.4 L583.1,693.9 L581.7,695.1 L580.0,696.2 L578.3,697.0 L576.6,697.5 L574.9,697.8 L573.2,697.9 L571.7,697.8 L570.2,697.4 L569.0,696.8 L568.1,696.0 L567.3,695.0 L566.9,693.8 L566.7,691.9 L566.8,692.9 L566.9,688.3 L566.8,690.0 L567.0,688.7 L567.5,688.0 L568.2,687.5 L569.2,687.1 L570.4,686.8 L571.9,686.4 L573.4,686.0 L575.1,685.6 L576.8,685.2 L578.6,684.7 L580.3,684.1 L581.9,683.6 L583.3,683.0 L584.6,682.4 L585.7,681.9 L586.5,681.3 L587.1,681.0 L587.3,680.9Z M586.9,702.6 L586.6,705.2 L586.0,707.4 L585.2,709.3 L584.1,710.9 L582.8,712.4 L581.3,713.7 L579.6,714.7 L577.9,715.5 L576.2,716.0 L574.5,716.3 L572.8,716.4 L571.3,716.2 L569.9,715.8 L568.7,715.3 L567.7,714.5 L567.0,713.5 L566.6,712.2 L566.4,710.2 L566.5,711.4 L566.6,706.7 L566.4,708.6 L566.6,707.2 L567.1,706.5 L567.8,706.0 L568.8,705.6 L570.1,705.3 L571.5,704.9 L573.0,704.5 L574.7,704.1 L576.4,703.7 L578.2,703.2 L579.9,702.7 L581.5,702.1 L582.9,701.5 L584.2,700.9 L585.3,700.4 L586.2,699.8 L586.7,699.5 L587.0,699.4Z M586.6,721.3 L586.3,723.8 L585.7,725.9 L584.8,727.8 L583.7,729.5 L582.4,730.9 L580.9,732.2 L579.3,733.2 L577.5,734.0 L575.8,734.5 L574.1,734.8 L572.4,734.9 L570.9,734.7 L569.5,734.3 L568.3,733.7 L567.3,732.9 L566.6,731.9 L566.2,730.6 L566.1,728.4 L566.2,729.9 L566.3,725.1 L566.1,727.3 L566.3,725.7 L566.8,725.0 L567.5,724.5 L568.5,724.1 L569.7,723.7 L571.1,723.4 L572.6,723.0 L574.3,722.6 L576.0,722.2 L577.8,721.7 L579.5,721.2 L581.1,720.6 L582.6,720.0 L583.9,719.4 L585.0,718.9 L585.8,718.3 L586.4,717.9 L586.7,717.9Z M586.3,739.9 L585.9,742.4 L585.3,744.5 L584.4,746.4 L583.3,748.0 L582.0,749.5 L580.5,750.7 L578.9,751.7 L577.1,752.5 L575.4,753.0 L573.7,753.3 L572.0,753.3 L570.5,753.2 L569.1,752.8 L567.9,752.1 L567.0,751.3 L566.3,750.3 L565.9,749.0 L566.0,744.2 L566.4,743.5 L567.1,743.0 L568.1,742.6 L569.3,742.2 L570.7,741.9 L572.2,741.5 L573.9,741.1 L575.6,740.7 L577.4,740.2 L579.1,739.7 L580.7,739.1 L582.2,738.5 L583.5,737.9 L584.6,737.4 L585.4,736.8 L586.0,736.4 L586.3,736.3Z" fill="#7d84d8" stroke="#434898" stroke-width="0.7" stroke-linejoin="round"/>
<path d="M577.9,636.9 L576.2,637.3 L574.5,637.5 L572.9,637.5 L571.5,637.4 L570.2,637.1 L569.2,636.7 L568.4,636.1 L567.9,635.5 L567.7,634.6 L567.8,634.6 L567.9,632.9 L567.8,633.6 L568.0,633.3 L568.5,633.3 L569.3,633.2 L570.3,633.2 L571.5,633.1 L573.0,632.9 L574.6,632.7 L576.3,632.4 L578.0,631.9Z M588.0,644.5 L587.7,646.4 L587.1,648.0 L586.3,649.5 L585.3,650.9 L584.0,652.1 L582.5,653.2 L580.9,654.1 L579.2,654.8 L577.5,655.4 L575.8,655.7 L574.1,655.9 L572.5,656.0 L571.1,655.8 L569.9,655.6 L568.8,655.1 L568.1,654.6 L567.6,653.9 L567.4,653.0 L567.5,653.1 L567.5,651.4 L567.4,652.1 L567.6,651.8 L568.1,651.7 L568.9,651.7 L569.9,651.6 L571.2,651.6 L572.6,651.4 L574.2,651.2 L575.9,650.9 L577.6,650.4 L579.3,649.9 L581.0,649.3 L582.6,648.6 L584.1,647.8 L585.3,646.9 L586.4,646.0 L587.2,645.1 L587.7,644.2 L588.0,643.4Z M587.6,663.1 L587.4,664.9 L586.8,666.6 L586.0,668.1 L584.9,669.4 L583.6,670.7 L582.1,671.7 L580.5,672.6 L578.8,673.3 L577.1,673.9 L575.4,674.2 L573.7,674.4 L572.1,674.4 L570.7,674.3 L569.5,674.0 L568.5,673.6 L567.7,673.0 L567.3,672.4 L567.1,671.4 L567.2,671.6 L567.2,669.8 L567.1,670.6 L567.3,670.3 L567.8,670.2 L568.5,670.2 L569.6,670.1 L570.8,670.0 L572.2,669.9 L573.8,669.7 L575.5,669.3 L577.2,668.9 L578.9,668.4 L580.6,667.8 L582.2,667.1 L583.7,666.3 L585.0,665.5 L586.0,664.6 L586.8,663.6 L587.4,662.7 L587.6,661.9Z M587.3,681.7 L587.0,683.5 L586.4,685.1 L585.6,686.6 L584.5,688.0 L583.2,689.2 L581.7,690.2 L580.1,691.1 L578.4,691.8 L576.7,692.4 L575.0,692.7 L573.3,692.9 L571.7,692.9 L570.3,692.8 L569.1,692.5 L568.1,692.0 L567.4,691.5 L566.9,690.8 L566.8,689.9 L566.9,690.1 L566.9,688.2 L566.8,689.1 L567.0,688.8 L567.4,688.7 L568.2,688.7 L569.2,688.6 L570.4,688.5 L571.8,688.4 L573.4,688.1 L575.1,687.8 L576.8,687.4 L578.5,686.9 L580.2,686.3 L581.8,685.6 L583.3,684.8 L584.6,684.0 L585.7,683.1 L586.5,682.1 L587.1,681.2 L587.3,680.4Z M587.0,700.2 L586.7,702.0 L586.1,703.7 L585.2,705.2 L584.1,706.5 L582.8,707.7 L581.4,708.8 L579.7,709.6 L578.0,710.3 L576.3,710.9 L574.6,711.2 L572.9,711.4 L571.3,711.4 L569.9,711.2 L568.7,710.9 L567.8,710.5 L567.0,709.9 L566.6,709.3 L566.5,708.3 L566.6,708.6 L566.6,706.7 L566.5,707.6 L566.6,707.3 L567.1,707.2 L567.8,707.1 L568.8,707.1 L570.0,707.0 L571.4,706.9 L573.0,706.6 L574.7,706.3 L576.4,705.9 L578.1,705.4 L579.8,704.8 L581.4,704.1 L582.9,703.4 L584.2,702.5 L585.3,701.6 L586.1,700.7 L586.7,699.7 L587.0,698.9Z M586.6,718.8 L586.3,720.6 L585.7,722.2 L584.9,723.7 L583.8,725.0 L582.4,726.2 L581.0,727.3 L579.3,728.2 L577.6,728.8 L575.9,729.4 L574.2,729.7 L572.5,729.9 L571.0,729.9 L569.6,729.7 L568.4,729.4 L567.4,729.0 L566.7,728.4 L566.3,727.7 L566.1,726.6 L566.3,727.0 L566.3,725.1 L566.1,726.2 L566.3,725.7 L566.7,725.7 L567.5,725.6 L568.4,725.6 L569.6,725.5 L571.0,725.3 L572.6,725.1 L574.3,724.8 L576.0,724.4 L577.7,723.9 L579.4,723.3 L581.0,722.6 L582.5,721.9 L583.8,721.0 L584.9,720.1 L585.8,719.2 L586.4,718.3 L586.7,717.4Z M586.3,737.4 L586.0,739.2 L585.4,740.8 L584.5,742.2 L583.4,743.6 L582.1,744.8 L580.6,745.8 L578.9,746.7 L577.2,747.4 L575.5,747.9 L573.8,748.2 L572.1,748.4 L570.6,748.3 L569.2,748.2 L568.0,747.9 L567.0,747.4 L566.3,746.8 L565.9,746.1 L566.0,744.2 L566.4,744.1 L567.1,744.1 L568.1,744.0 L569.3,744.0 L570.6,743.8 L572.2,743.6 L573.9,743.3 L575.6,742.9 L577.3,742.4 L579.0,741.8 L580.6,741.2 L582.1,740.4 L583.5,739.5 L584.6,738.6 L585.4,737.7 L586.0,736.8 L586.3,736.0Z" fill="#b3b7f2" transform="translate(2.04,0.04)" opacity="0.85"/>
<path d="M547.5,762.7 L548.3,763.0 L549.3,762.8 L550.5,762.4 L551.9,761.9 L553.5,761.3 L555.1,760.7 L556.7,760.1 L558.3,759.7 L559.6,759.5 L560.7,759.4 L561.4,759.4 L561.7,759.6 L560.5,758.0 L559.0,756.2 L557.3,754.8 L555.5,753.9 L553.6,753.4 L551.7,753.4 L549.9,753.7 L548.3,754.3 L546.9,755.2 L545.9,756.2 L545.2,757.3 L545.0,758.5 L545.4,759.8Z M554.9,772.8 L555.7,773.1 L556.7,773.0 L557.8,772.6 L559.2,772.1 L560.8,771.5 L562.4,770.9 L564.0,770.3 L565.6,769.9 L567.0,769.6 L568.1,769.5 L568.8,769.5 L568.9,769.2 L568.2,768.3 L566.3,766.1 L564.6,764.8 L562.7,763.9 L560.9,763.5 L559.0,763.5 L557.2,763.9 L555.6,764.5 L554.3,765.4 L553.3,766.5 L552.7,767.6 L552.6,768.8 L553.0,770.1Z M562.4,782.8 L563.1,783.2 L564.0,783.1 L565.2,782.8 L566.5,782.3 L568.0,781.7 L569.7,781.0 L571.3,780.5 L572.9,780.1 L574.3,779.8 L575.5,779.6 L576.3,779.6 L576.5,779.5 L577.8,781.5 L575.4,778.2 L575.4,778.0 L573.6,776.0 L571.8,774.7 L570.0,774.0 L568.1,773.6 L566.2,773.7 L564.5,774.1 L562.9,774.7 L561.6,775.7 L560.7,776.7 L560.2,777.9 L560.1,779.1 L560.6,780.4Z" fill="#5a61b9" stroke="#434898" stroke-width="0.6" stroke-linejoin="round"/>
<path d="M554.6,761.1 L553.4,762.4 L552.2,763.3 L550.9,763.8 L549.6,763.9 L548.4,763.6 L547.3,762.6 L547.5,762.7 L545.4,759.8 L545.8,760.6 L545.6,759.7 L545.9,758.9 L546.5,757.9 L547.3,756.8 L548.3,755.5 L549.4,754.2Z M561.7,759.6 L563.1,761.8 L563.7,763.8 L563.9,765.8 L563.7,767.7 L563.1,769.5 L562.2,771.1 L561.1,772.4 L559.8,773.3 L558.5,773.9 L557.3,774.1 L556.1,773.8 L555.0,772.9 L554.9,772.8 L553.0,770.1 L553.2,770.6 L553.1,769.7 L553.4,768.9 L554.1,767.9 L555.0,766.7 L556.0,765.5 L557.0,764.1 L558.0,762.7 L558.9,761.3 L559.6,760.0 L560.1,758.9 L560.3,758.1 L560.5,758.0Z M568.9,769.2 L570.4,771.6 L571.2,773.7 L571.4,775.7 L571.3,777.6 L570.7,779.4 L569.9,781.0 L568.8,782.3 L567.5,783.3 L566.2,784.0 L565.0,784.2 L563.8,784.0 L562.6,783.2 L562.4,782.8 L560.6,780.4 L560.7,780.5 L560.6,779.7 L561.0,778.9 L561.7,777.9 L562.6,776.7 L563.6,775.4 L564.7,774.0 L565.7,772.6 L566.5,771.2 L567.2,770.0 L567.6,768.9 L567.9,768.2 L568.2,768.3Z M577.8,781.5 L578.6,783.5 L578.9,785.5 L578.8,787.5 L578.3,789.3 L577.5,790.9 L576.4,792.3 L575.2,793.3 L570.2,786.6 L571.3,785.3 L572.3,783.9 L573.3,782.5 L574.1,781.2 L574.8,779.9 L575.2,778.9 L575.4,778.2Z" fill="#7d84d8" stroke="#434898" stroke-width="0.7" stroke-linejoin="round"/>
<path d="M552.4,758.3 L551.3,759.5 L550.1,760.6 L549.0,761.3 L547.9,761.6 L547.0,761.6 L546.3,761.2 L546.3,761.1 L545.4,759.9 L545.7,760.4 L545.9,760.1 L546.4,759.6 L547.2,758.9 L548.2,758.0 L549.3,756.8 L550.3,755.5Z M560.8,758.3 L561.7,759.9 L562.0,761.6 L562.0,763.3 L561.7,765.0 L561.0,766.7 L560.1,768.2 L559.0,769.5 L557.8,770.6 L556.6,771.3 L555.5,771.7 L554.6,771.8 L553.9,771.4 L553.8,771.2 L553.0,770.1 L553.2,770.5 L553.4,770.1 L554.0,769.6 L554.8,768.9 L555.8,767.9 L556.9,766.7 L558.0,765.4 L559.0,763.9 L559.8,762.4 L560.3,761.0 L560.6,759.6 L560.6,758.5 L560.3,757.7Z M568.1,768.1 L569.1,769.8 L569.5,771.5 L569.6,773.2 L569.3,774.9 L568.6,776.6 L567.7,778.1 L566.6,779.5 L565.5,780.6 L564.3,781.4 L563.2,781.8 L562.2,781.9 L561.5,781.6 L561.2,781.3 L560.5,780.4 L560.7,780.6 L561.0,780.2 L561.6,779.7 L562.5,778.9 L563.5,777.9 L564.6,776.7 L565.6,775.3 L566.6,773.9 L567.4,772.4 L567.9,770.9 L568.1,769.6 L568.0,768.4 L567.8,767.8Z M576.5,779.7 L577.0,781.4 L577.1,783.1 L576.8,784.8 L576.2,786.5 L575.4,788.0 L574.3,789.4 L573.1,790.5 L571.1,787.9 L572.2,786.6 L573.3,785.3 L574.2,783.8 L575.0,782.3 L575.4,780.8 L575.6,779.5 L575.5,778.4Z" fill="#b3b7f2" transform="translate(1.08,-0.80)" opacity="0.85"/>
<path d="M571.0,763.9 L571.7,764.5 L572.6,764.5 L573.7,764.2 L574.9,763.7 L576.4,763.1 L578.0,762.5 L579.6,761.9 L581.3,761.4 L582.8,761.0 L584.2,760.7 L585.3,760.6 L586.1,760.6 L586.3,760.4 L587.6,762.3 L585.2,759.1 L585.1,758.8 L583.3,756.8 L581.5,755.5 L579.7,754.7 L577.8,754.3 L575.9,754.3 L574.1,754.6 L572.4,755.2 L571.0,756.0 L569.9,757.0 L569.1,758.1 L568.7,759.3 L568.8,760.5 L569.5,761.9Z M579.1,774.8 L579.9,775.2 L580.8,775.2 L581.9,774.9 L583.2,774.4 L584.6,773.8 L586.2,773.2 L587.9,772.6 L589.5,772.1 L591.0,771.7 L592.4,771.4 L593.5,771.3 L594.2,771.3 L594.3,771.0 L595.8,773.3 L593.2,769.9 L593.4,769.9 L591.5,767.8 L589.8,766.4 L588.0,765.5 L586.1,765.1 L584.2,765.0 L582.4,765.3 L580.7,765.8 L579.2,766.6 L578.1,767.6 L577.2,768.7 L576.8,769.9 L576.8,771.1 L577.4,772.5Z M587.3,785.6 L588.1,786.0 L589.0,785.9 L590.1,785.6 L591.4,785.1 L592.9,784.5 L594.5,783.9 L596.1,783.3 L597.8,782.8 L599.3,782.4 L600.6,782.2 L601.7,782.1 L602.3,782.1 L602.5,782.0 L601.5,780.7 L599.8,778.7 L598.1,777.3 L596.3,776.4 L594.4,775.9 L592.5,775.7 L590.7,776.0 L589.0,776.5 L587.5,777.3 L586.3,778.2 L585.4,779.3 L584.9,780.5 L584.9,781.7 L585.4,783.0Z" fill="#5a61b9" stroke="#434898" stroke-width="0.6" stroke-linejoin="round"/>
<path d="M578.9,762.5 L577.7,763.8 L576.5,764.7 L575.2,765.3 L573.9,765.5 L572.7,765.3 L571.6,764.6 L571.0,763.9 L569.5,761.9 L569.3,761.6 L569.3,760.8 L569.7,760.0 L570.4,758.9 L571.3,757.8 L572.3,756.5 L573.3,755.1Z M587.6,762.3 L588.5,764.4 L588.9,766.4 L588.9,768.3 L588.5,770.2 L587.8,771.9 L586.8,773.4 L585.7,774.7 L584.4,775.6 L583.1,776.1 L581.8,776.3 L580.6,776.0 L579.5,775.3 L579.1,774.8 L577.4,772.5 L577.5,772.5 L577.4,771.7 L577.7,770.8 L578.4,769.8 L579.2,768.7 L580.2,767.4 L581.3,766.0 L582.3,764.6 L583.2,763.2 L584.0,761.9 L584.6,760.7 L585.0,759.7 L585.2,759.1Z M595.8,773.3 L596.6,775.4 L597.0,777.4 L596.9,779.3 L596.5,781.2 L595.7,782.9 L594.8,784.3 L593.6,785.5 L592.3,786.4 L591.0,786.9 L589.8,787.0 L588.6,786.7 L587.5,785.9 L587.3,785.6 L585.4,783.0 L585.6,783.4 L585.4,782.5 L585.7,781.7 L586.3,780.7 L587.2,779.6 L588.2,778.3 L589.2,777.0 L590.3,775.5 L591.2,774.1 L592.0,772.8 L592.6,771.6 L593.0,770.6 L593.2,769.9Z M602.5,782.0 L604.0,784.3 L604.7,786.4 L605.0,788.4 L604.9,790.3 L604.5,792.1 L603.7,793.8 L598.2,786.5 L599.2,785.1 L600.0,783.7 L600.6,782.5 L601.0,781.4 L601.2,780.7 L601.5,780.7Z" fill="#7d84d8" stroke="#434898" stroke-width="0.7" stroke-linejoin="round"/>
<path d="M576.6,759.5 L575.5,760.8 L574.3,761.8 L573.1,762.6 L572.0,763.0 L571.1,763.1 L570.3,762.9 L569.9,762.5 L569.3,761.7 L569.4,761.7 L569.7,761.3 L570.4,760.8 L571.2,760.0 L572.2,759.0 L573.3,757.9 L574.4,756.5Z M586.2,760.5 L586.8,762.1 L587.0,763.8 L586.8,765.6 L586.3,767.3 L585.5,768.9 L584.5,770.4 L583.4,771.7 L582.2,772.7 L581.1,773.4 L580.0,773.8 L579.0,773.9 L578.3,773.6 L578.0,773.3 L577.3,772.3 L577.5,772.5 L577.7,772.1 L578.3,771.6 L579.2,770.9 L580.2,769.9 L581.2,768.8 L582.3,767.4 L583.3,766.0 L584.2,764.5 L584.8,763.0 L585.3,761.6 L585.4,760.3 L585.3,759.2Z M594.4,771.5 L594.9,773.1 L595.0,774.8 L594.8,776.5 L594.3,778.2 L593.5,779.8 L592.5,781.3 L591.3,782.5 L590.1,783.5 L589.0,784.2 L587.9,784.6 L587.0,784.6 L586.3,784.3 L586.1,784.0 L585.3,783.0 L585.5,783.3 L585.7,782.9 L586.3,782.5 L587.1,781.7 L588.1,780.8 L589.2,779.7 L590.3,778.3 L591.3,776.9 L592.2,775.4 L592.8,773.9 L593.3,772.5 L593.5,771.2 L593.3,770.1Z M601.6,780.8 L602.5,782.4 L603.0,784.1 L603.1,785.8 L602.8,787.5 L602.3,789.2 L601.4,790.8 L599.2,787.8 L600.1,786.3 L600.8,784.8 L601.3,783.4 L601.5,782.1 L601.4,781.0 L601.2,780.2Z" fill="#b3b7f2" transform="translate(1.15,-0.86)" opacity="0.85"/>
<path d="M594.9,754.6 L595.7,755.3 L596.5,755.3 L597.7,755.1 L599.0,754.6 L600.6,754.1 L602.2,753.6 L603.9,753.2 L605.4,752.9 L606.8,752.7 L607.8,752.7 L608.4,752.8 L609.0,753.6 L607.5,751.3 L606.6,750.0 L605.0,748.4 L603.2,747.3 L601.4,746.7 L599.5,746.6 L597.7,746.8 L596.1,747.4 L594.8,748.2 L593.8,749.2 L593.3,750.3 L593.3,751.6 L593.9,753.0Z M601.8,764.9 L602.5,765.2 L603.5,765.0 L604.8,764.7 L606.3,764.2 L607.9,763.7 L609.5,763.2 L611.1,762.9 L612.6,762.6 L613.8,762.6 L614.6,762.6 L614.8,762.4 L616.1,764.6 L613.9,761.3 L614.0,761.1 L612.3,759.0 L610.6,757.7 L608.8,756.8 L606.9,756.4 L605.1,756.5 L603.4,756.9 L601.9,757.6 L600.7,758.5 L600.0,759.6 L599.6,760.7 L599.9,762.0Z M607.8,774.4 L608.6,775.0 L609.5,775.0 L610.6,774.7 L612.0,774.3 L613.5,773.8 L615.2,773.3 L616.8,772.9 L618.4,772.6 L619.7,772.4 L616.2,767.1 L614.4,766.4 L612.5,766.3 L610.7,766.5 L609.1,767.0 L607.7,767.8 L606.7,768.8 L606.2,769.9 L606.1,771.2 L606.7,772.6Z" fill="#5a61b9" stroke="#434898" stroke-width="0.6" stroke-linejoin="round"/>
<path d="M601.9,754.0 L600.7,755.2 L599.4,756.0 L598.1,756.3 L596.9,756.2 L595.8,755.6 L594.9,754.6 L593.9,753.0 L593.6,752.4 L593.8,751.6 L594.4,750.7 L595.3,749.6 L596.3,748.4 L597.4,747.1Z M609.0,753.6 L610.0,755.8 L610.4,757.8 L610.3,759.8 L609.7,761.6 L608.9,763.2 L607.7,764.5 L606.5,765.5 L605.2,766.0 L603.9,766.2 L602.7,765.8 L601.7,764.9 L601.8,764.9 L599.9,762.0 L600.2,762.7 L600.1,761.8 L600.5,761.0 L601.2,760.0 L602.2,758.9 L603.3,757.7 L604.4,756.4 L605.4,755.0 L606.3,753.7 L606.9,752.6 L607.3,751.7 L607.5,751.3Z M616.1,764.6 L616.7,766.7 L616.8,768.7 L616.5,770.6 L615.7,772.3 L614.7,773.8 L613.5,774.9 L612.2,775.7 L610.9,776.0 L609.7,775.9 L608.6,775.3 L607.8,774.4 L606.7,772.6 L606.5,772.1 L606.7,771.3 L607.2,770.4 L608.1,769.4 L609.1,768.2 L610.3,766.9 L611.3,765.6 L612.3,764.2 L613.1,763.0 L613.6,762.0 L613.9,761.3Z" fill="#7d84d8" stroke="#434898" stroke-width="0.7" stroke-linejoin="round"/>
<path d="M600.1,751.2 L598.9,752.4 L597.7,753.3 L596.5,753.9 L595.5,754.1 L594.6,753.9 L594.1,753.4 L593.7,752.7 L593.8,752.6 L594.2,752.2 L595.0,751.6 L596.0,750.8 L597.1,749.7 L598.3,748.4Z M608.1,752.2 L608.7,753.8 L608.8,755.5 L608.6,757.2 L607.9,758.9 L607.0,760.4 L605.9,761.7 L604.7,762.7 L603.5,763.5 L602.4,763.9 L601.4,763.9 L600.7,763.5 L600.7,763.3 L599.9,762.1 L600.2,762.6 L600.4,762.3 L601.0,761.8 L601.9,761.1 L603.0,760.1 L604.1,759.0 L605.2,757.6 L606.2,756.2 L607.0,754.8 L607.5,753.4 L607.6,752.2 L607.5,751.2Z M614.9,762.9 L615.3,764.5 L615.2,766.2 L614.7,767.9 L613.9,769.5 L612.9,770.9 L611.7,772.1 L610.5,773.0 L609.3,773.6 L608.3,773.7 L607.5,773.5 L607.0,773.1 L606.5,772.4 L606.6,772.3 L607.1,771.9 L607.8,771.3 L608.8,770.5 L610.0,769.4 L611.1,768.2 L612.2,766.8 L613.0,765.4 L613.7,764.0 L614.0,762.6 L614.0,761.5Z" fill="#b3b7f2" transform="translate(1.04,-0.68)" opacity="0.85"/>
<path d="M574.8,798.4 L575.6,798.3 L576.8,797.9 L578.1,797.3 L579.6,796.7 L581.2,796.1 L582.7,795.6 L584.0,795.4 L585.0,795.3 L585.2,795.2 L586.6,797.1 L584.2,794.2 L584.2,793.8 L582.3,792.1 L580.5,791.1 L578.7,790.6 L576.8,790.7 L575.1,791.1 L573.8,791.9 L572.8,793.0 L572.2,794.1 L572.3,795.3Z M581.0,806.2 L581.8,806.2 L582.9,805.8 L584.3,805.3 L585.8,804.6 L587.3,804.0 L588.9,803.5 L590.2,803.2 L591.2,803.1 L591.6,803.1 L592.7,804.6 L590.6,801.9 L590.2,801.3 L588.4,799.7 L586.6,798.8 L584.7,798.4 L582.9,798.5 L581.3,799.1 L579.9,799.9 L579.0,801.0 L578.6,802.1 L578.7,803.3Z M587.2,814.0 L588.0,814.0 L589.1,813.7 L590.4,813.2 L591.9,812.5 L593.4,811.9 L595.0,811.4 L596.4,811.1 L597.4,811.0 L594.5,807.4 L592.7,806.5 L590.8,806.2 L589.0,806.4 L587.4,807.0 L586.1,807.9 L585.2,809.0 L584.9,810.1 L585.1,811.4Z" fill="#5a61b9" stroke="#434898" stroke-width="0.6" stroke-linejoin="round"/>
<path d="M579.9,796.8 L578.8,798.1 L577.6,798.8 L576.4,799.1 L575.2,798.9 L574.0,797.8 L574.8,798.4 L572.3,795.3 L573.1,796.7 L572.7,795.7 L573.0,794.9 L573.6,793.9 L574.5,792.6 L575.4,791.3Z M586.6,797.1 L587.3,799.1 L587.5,801.0 L587.1,802.9 L586.4,804.5 L585.4,805.7 L584.2,806.6 L582.9,807.0 L581.7,806.8 L580.6,805.9 L581.0,806.2 L578.7,803.3 L579.3,804.3 L579.0,803.5 L579.4,802.6 L580.1,801.5 L580.9,800.3 L581.9,798.9 L582.8,797.5 L583.5,796.1 L584.0,795.0 L584.2,794.2Z M592.7,804.6 L593.6,806.6 L593.8,808.6 L593.5,810.4 L592.9,812.1 L591.9,813.4 L590.7,814.3 L589.4,814.8 L588.2,814.7 L587.1,813.9 L587.2,814.0 L585.1,811.4 L585.5,812.0 L585.4,811.2 L585.8,810.3 L586.5,809.2 L587.4,807.9 L588.4,806.5 L589.2,805.1 L589.9,803.8 L590.4,802.7 L590.6,801.9Z" fill="#7d84d8" stroke="#434898" stroke-width="0.7" stroke-linejoin="round"/>
<path d="M578.1,794.6 L577.0,795.8 L575.9,796.7 L574.9,797.3 L574.0,797.3 L573.2,796.8 L573.5,796.9 L572.6,795.6 L572.9,796.4 L573.0,796.1 L573.5,795.6 L574.3,794.8 L575.3,793.7 L576.3,792.3Z M585.4,795.6 L585.8,797.2 L585.8,799.0 L585.3,800.6 L584.5,802.2 L583.5,803.5 L582.4,804.5 L581.4,805.0 L580.4,805.2 L579.7,804.8 L579.8,804.7 L578.9,803.6 L579.2,804.2 L579.4,803.9 L579.9,803.3 L580.8,802.4 L581.8,801.3 L582.7,800.0 L583.6,798.5 L584.2,797.0 L584.5,795.6 L584.4,794.4Z M591.6,803.2 L592.1,804.8 L592.2,806.5 L591.8,808.2 L591.0,809.8 L590.0,811.2 L588.9,812.2 L587.9,812.8 L586.9,813.0 L586.1,812.7 L586.1,812.6 L585.3,811.5 L585.5,812.0 L585.8,811.6 L586.4,811.0 L587.3,810.1 L588.3,809.0 L589.2,807.6 L590.0,806.1 L590.6,804.6 L590.8,803.2 L590.7,802.1Z" fill="#b3b7f2" transform="translate(0.81,-0.65)" opacity="0.85"/>
<path d="M522.0,766.0 C523.3,767.0 527.3,769.3 530.0,772.0 C532.7,774.7 535.0,779.0 538.0,782.0 C541.0,785.0 546.3,788.7 548.0,790.0" fill="none" stroke="#434898" stroke-width="2.7" stroke-linecap="round" stroke-linejoin="round"/><path d="M522.0,766.0 C523.3,767.0 527.3,769.3 530.0,772.0 C532.7,774.7 535.0,779.0 538.0,782.0 C541.0,785.0 546.3,788.7 548.0,790.0" fill="none" stroke="#7d84d8" stroke-width="1.8" stroke-linecap="round" stroke-linejoin="round"/>
<path d="M524.0,760.0 C525.7,761.3 530.3,766.2 534.0,768.0 C537.7,769.8 542.3,771.0 546.0,771.0 C549.7,771.0 554.3,768.5 556.0,768.0" fill="none" stroke="#434898" stroke-width="2.5" stroke-linecap="round" stroke-linejoin="round"/><path d="M524.0,760.0 C525.7,761.3 530.3,766.2 534.0,768.0 C537.7,769.8 542.3,771.0 546.0,771.0 C549.7,771.0 554.3,768.5 556.0,768.0" fill="none" stroke="#7d84d8" stroke-width="1.6" stroke-linecap="round" stroke-linejoin="round"/>
<path d="M540.0,790.0 C541.3,791.7 545.3,797.3 548.0,800.0 C550.7,802.7 554.7,805.0 556.0,806.0" fill="none" stroke="#434898" stroke-width="2.3" stroke-linecap="round" stroke-linejoin="round"/><path d="M540.0,790.0 C541.3,791.7 545.3,797.3 548.0,800.0 C550.7,802.7 554.7,805.0 556.0,806.0" fill="none" stroke="#7d84d8" stroke-width="1.4" stroke-linecap="round" stroke-linejoin="round"/>
<path d="M612.0,772.0 C612.3,774.0 614.3,779.8 614.0,784.0 C613.7,788.2 610.3,792.8 610.0,797.0 C609.7,801.2 610.7,805.2 612.0,809.0 C613.3,812.8 617.0,818.2 618.0,820.0" fill="none" stroke="#434898" stroke-width="2.3" stroke-linecap="round" stroke-linejoin="round"/><path d="M612.0,772.0 C612.3,774.0 614.3,779.8 614.0,784.0 C613.7,788.2 610.3,792.8 610.0,797.0 C609.7,801.2 610.7,805.2 612.0,809.0 C613.3,812.8 617.0,818.2 618.0,820.0" fill="none" stroke="#7d84d8" stroke-width="1.4" stroke-linecap="round" stroke-linejoin="round"/>
<path d="M562.0,797.0 C563.3,797.8 567.8,799.3 570.0,802.0 C572.2,804.7 572.5,809.8 575.0,813.0 C577.5,816.2 583.3,819.7 585.0,821.0" fill="none" stroke="#434898" stroke-width="2.2" stroke-linecap="round" stroke-linejoin="round"/><path d="M562.0,797.0 C563.3,797.8 567.8,799.3 570.0,802.0 C572.2,804.7 572.5,809.8 575.0,813.0 C577.5,816.2 583.3,819.7 585.0,821.0" fill="none" stroke="#7d84d8" stroke-width="1.3" stroke-linecap="round" stroke-linejoin="round"/>
<path d="M531.0,727.0 C531.3,731.3 531.2,746.2 533.0,753.0 C534.8,759.8 538.0,763.2 542.0,767.6 C546.0,772.0 550.9,776.3 556.8,779.2 C562.7,782.1 568.9,785.2 577.2,785.0 C585.5,784.8 601.5,779.0 606.4,777.8" fill="none" stroke="#a65c16" stroke-width="4.8" stroke-linecap="round" stroke-linejoin="round"/><path d="M531.0,727.0 C531.3,731.3 531.2,746.2 533.0,753.0 C534.8,759.8 538.0,763.2 542.0,767.6 C546.0,772.0 550.9,776.3 556.8,779.2 C562.7,782.1 568.9,785.2 577.2,785.0 C585.5,784.8 601.5,779.0 606.4,777.8" fill="none" stroke="#e4862a" stroke-width="3.6" stroke-linecap="round" stroke-linejoin="round"/><path d="M531.0,727.0 C531.3,731.3 531.2,746.2 533.0,753.0 C534.8,759.8 538.0,763.2 542.0,767.6 C546.0,772.0 550.9,776.3 556.8,779.2 C562.7,782.1 568.9,785.2 577.2,785.0 C585.5,784.8 601.5,779.0 606.4,777.8" fill="none" stroke="#f5b46a" stroke-width="1.1" stroke-linecap="round" transform="translate(-0.5,-0.5)"/>
<path d="M606.0,777.0 C604.0,778.0 598.3,780.5 594.0,783.0 C589.7,785.5 584.3,788.8 580.0,792.0 C575.7,795.2 571.3,798.7 568.0,802.0 C564.7,805.3 562.0,807.7 560.0,812.0 C558.0,816.3 556.7,822.7 556.0,828.0 C555.3,833.3 554.8,839.3 556.0,844.0 C557.2,848.7 560.0,852.7 563.0,856.0 C566.0,859.3 570.5,861.5 574.0,864.0 C577.5,866.5 581.3,868.8 584.0,871.0 C586.7,873.2 588.0,874.8 590.0,877.0 C592.0,879.2 595.0,882.8 596.0,884.0" fill="none" stroke="#a65c16" stroke-width="5.0" stroke-linecap="round" stroke-linejoin="round"/><path d="M606.0,777.0 C604.0,778.0 598.3,780.5 594.0,783.0 C589.7,785.5 584.3,788.8 580.0,792.0 C575.7,795.2 571.3,798.7 568.0,802.0 C564.7,805.3 562.0,807.7 560.0,812.0 C558.0,816.3 556.7,822.7 556.0,828.0 C555.3,833.3 554.8,839.3 556.0,844.0 C557.2,848.7 560.0,852.7 563.0,856.0 C566.0,859.3 570.5,861.5 574.0,864.0 C577.5,866.5 581.3,868.8 584.0,871.0 C586.7,873.2 588.0,874.8 590.0,877.0 C592.0,879.2 595.0,882.8 596.0,884.0" fill="none" stroke="#e4862a" stroke-width="3.8" stroke-linecap="round" stroke-linejoin="round"/><path d="M606.0,777.0 C604.0,778.0 598.3,780.5 594.0,783.0 C589.7,785.5 584.3,788.8 580.0,792.0 C575.7,795.2 571.3,798.7 568.0,802.0 C564.7,805.3 562.0,807.7 560.0,812.0 C558.0,816.3 556.7,822.7 556.0,828.0 C555.3,833.3 554.8,839.3 556.0,844.0 C557.2,848.7 560.0,852.7 563.0,856.0 C566.0,859.3 570.5,861.5 574.0,864.0 C577.5,866.5 581.3,868.8 584.0,871.0 C586.7,873.2 588.0,874.8 590.0,877.0 C592.0,879.2 595.0,882.8 596.0,884.0" fill="none" stroke="#f5b46a" stroke-width="1.1" stroke-linecap="round" transform="translate(-0.5,-0.5)"/>
<path d="M539.0,759.0 C540.2,762.3 543.0,772.7 546.0,779.0 C549.0,785.3 551.3,791.2 557.0,797.0 C562.7,802.8 572.2,810.4 580.0,814.0 C587.8,817.6 597.3,818.1 603.5,818.6 C609.7,819.1 614.8,817.3 617.0,817.0" fill="none" stroke="#a65c16" stroke-width="4.8" stroke-linecap="round" stroke-linejoin="round"/><path d="M539.0,759.0 C540.2,762.3 543.0,772.7 546.0,779.0 C549.0,785.3 551.3,791.2 557.0,797.0 C562.7,802.8 572.2,810.4 580.0,814.0 C587.8,817.6 597.3,818.1 603.5,818.6 C609.7,819.1 614.8,817.3 617.0,817.0" fill="none" stroke="#e4862a" stroke-width="3.6" stroke-linecap="round" stroke-linejoin="round"/><path d="M539.0,759.0 C540.2,762.3 543.0,772.7 546.0,779.0 C549.0,785.3 551.3,791.2 557.0,797.0 C562.7,802.8 572.2,810.4 580.0,814.0 C587.8,817.6 597.3,818.1 603.5,818.6 C609.7,819.1 614.8,817.3 617.0,817.0" fill="none" stroke="#f5b46a" stroke-width="1.1" stroke-linecap="round" transform="translate(-0.5,-0.5)"/>
<line x1="558" y1="826" x2="571.0" y2="826.0" stroke="#3cc04a" stroke-width="1.4"/><line x1="571.0" y1="826.0" x2="584" y2="826" stroke="#2d55d0" stroke-width="1.4"/>
<line x1="560" y1="845" x2="574.0" y2="841.5" stroke="#3cc04a" stroke-width="1.4"/><line x1="574.0" y1="841.5" x2="588" y2="838" stroke="#2d55d0" stroke-width="1.4"/>
<line x1="572" y1="861" x2="580.0" y2="856.0" stroke="#3cc04a" stroke-width="1.4"/><line x1="580.0" y1="856.0" x2="588" y2="851" stroke="#2d55d0" stroke-width="1.4"/>
<line x1="588" y1="876" x2="591.5" y2="868.0" stroke="#3cc04a" stroke-width="1.4"/><line x1="591.5" y1="868.0" x2="595" y2="860" stroke="#2d55d0" stroke-width="1.4"/>
<line x1="567" y1="807" x2="574.5" y2="811.5" stroke="#3cc04a" stroke-width="1.4"/><line x1="574.5" y1="811.5" x2="582" y2="816" stroke="#2d55d0" stroke-width="1.4"/>
<line x1="594" y1="835" x2="593.5" y2="841.0" stroke="#3cc04a" stroke-width="1.4"/><line x1="593.5" y1="841.0" x2="593" y2="847" stroke="#2d55d0" stroke-width="1.4"/>
<line x1="589" y1="836" x2="598" y2="831" stroke="#d24a4a" stroke-width="3.4" stroke-linecap="round"/>
<path d="M502,659 L504,666 L502,672 L505,676" fill="none" stroke="#e4e43a" stroke-width="1.7" stroke-linejoin="round"/>
<line x1="502" y1="659" x2="500.5" y2="656.5" stroke="#2a3ae0" stroke-width="1.5"/>
<path d="M551,660 L555,667 L559,670 L561,676" fill="none" stroke="#e4e43a" stroke-width="1.7" stroke-linejoin="round"/>
<line x1="551" y1="660" x2="549.5" y2="657.5" stroke="#2a3ae0" stroke-width="1.5"/>
<path d="M518,688 L524,691 L527,697 L529,703" fill="none" stroke="#e4e43a" stroke-width="1.7" stroke-linejoin="round"/>
<line x1="518" y1="688" x2="516.5" y2="685.5" stroke="#2a3ae0" stroke-width="1.5"/>
<path d="M475,700 L481,701 L486,704 L491,701" fill="none" stroke="#e4e43a" stroke-width="1.7" stroke-linejoin="round"/>
<line x1="475" y1="700" x2="473.5" y2="697.5" stroke="#2a3ae0" stroke-width="1.5"/>
<path d="M452,713 L457,717 L462,713" fill="none" stroke="#e4e43a" stroke-width="1.7" stroke-linejoin="round"/>
<line x1="452" y1="713" x2="450.5" y2="710.5" stroke="#2a3ae0" stroke-width="1.5"/>
<path d="M613,767 L618,769 L622,767 L626,769" fill="none" stroke="#e4e43a" stroke-width="1.7" stroke-linejoin="round"/>
<line x1="613" y1="767" x2="611.5" y2="764.5" stroke="#2a3ae0" stroke-width="1.5"/>
<path d="M578,777 L582,773 L587,774 L590,779" fill="none" stroke="#e4e43a" stroke-width="1.7" stroke-linejoin="round"/>
<line x1="578" y1="777" x2="576.5" y2="774.5" stroke="#2a3ae0" stroke-width="1.5"/>
<line x1="403.6" y1="610.5" x2="578.2" y2="781" stroke="#e82323" stroke-width="1.2"/>
<line x1="403.6" y1="634.6" x2="560" y2="670" stroke="#e82323" stroke-width="1.2"/>
<line x1="403.6" y1="634.6" x2="461" y2="715" stroke="#e82323" stroke-width="1.2"/>
<line x1="403.6" y1="700" x2="502" y2="665" stroke="#e82323" stroke-width="1.2"/>
<line x1="403.6" y1="700" x2="526" y2="691" stroke="#e82323" stroke-width="1.2"/>
<line x1="403.6" y1="700" x2="616.7" y2="772" stroke="#e82323" stroke-width="1.2"/>
<line x1="403.6" y1="735" x2="475" y2="701.5" stroke="#e82323" stroke-width="1.2"/>
<rect x="401.4" y="608.9" width="4.4" height="3.2" fill="#e82323"/>
<rect x="401.4" y="633.0" width="4.4" height="3.2" fill="#e82323"/>
<rect x="401.4" y="698.4" width="4.4" height="3.2" fill="#e82323"/>
<rect x="401.4" y="733.4" width="4.4" height="3.2" fill="#e82323"/>
<text x="502.90" y="656.60" font-size="10.6" font-weight="bold" fill="#231f20" stroke="#231f20" textLength="28.6" lengthAdjust="spacingAndGlyphs">K335</text>
<text x="540.30" y="652.20" font-size="10.6" font-weight="bold" fill="#231f20" stroke="#231f20" textLength="27.7" lengthAdjust="spacingAndGlyphs">K381</text>
<text x="523.30" y="687.00" font-size="10.6" font-weight="bold" fill="#231f20" stroke="#231f20" textLength="28.2" lengthAdjust="spacingAndGlyphs">K413</text>
<text x="447.30" y="708.00" font-size="10.6" font-weight="bold" fill="#231f20" stroke="#231f20" textLength="28.2" lengthAdjust="spacingAndGlyphs">K353</text>
<text x="419.20" y="733.20" font-size="10.6" font-weight="bold" fill="#231f20" stroke="#231f20" textLength="28.0" lengthAdjust="spacingAndGlyphs">K318</text>
<text x="618.30" y="772.00" font-size="10.6" font-weight="bold" fill="#231f20" stroke="#231f20" textLength="28.6" lengthAdjust="spacingAndGlyphs">K165</text>
<text x="598.90" y="794.00" font-size="10.6" font-weight="bold" fill="#231f20" stroke="#231f20" textLength="27.6" lengthAdjust="spacingAndGlyphs">K407</text>
<rect x="640" y="818.4" width="16" height="6.8" fill="#f2b8ee"/>
<rect x="640" y="833" width="16" height="6.8" fill="#7c80de"/>
<text x="659" y="825.4" font-size="9.6" font-weight="bold" fill="#222" stroke="#222">FXR</text>
<text x="659" y="840" font-size="9.6" font-weight="bold" fill="#222" stroke="#222">RXRα</text>
</svg>
</body></html>
